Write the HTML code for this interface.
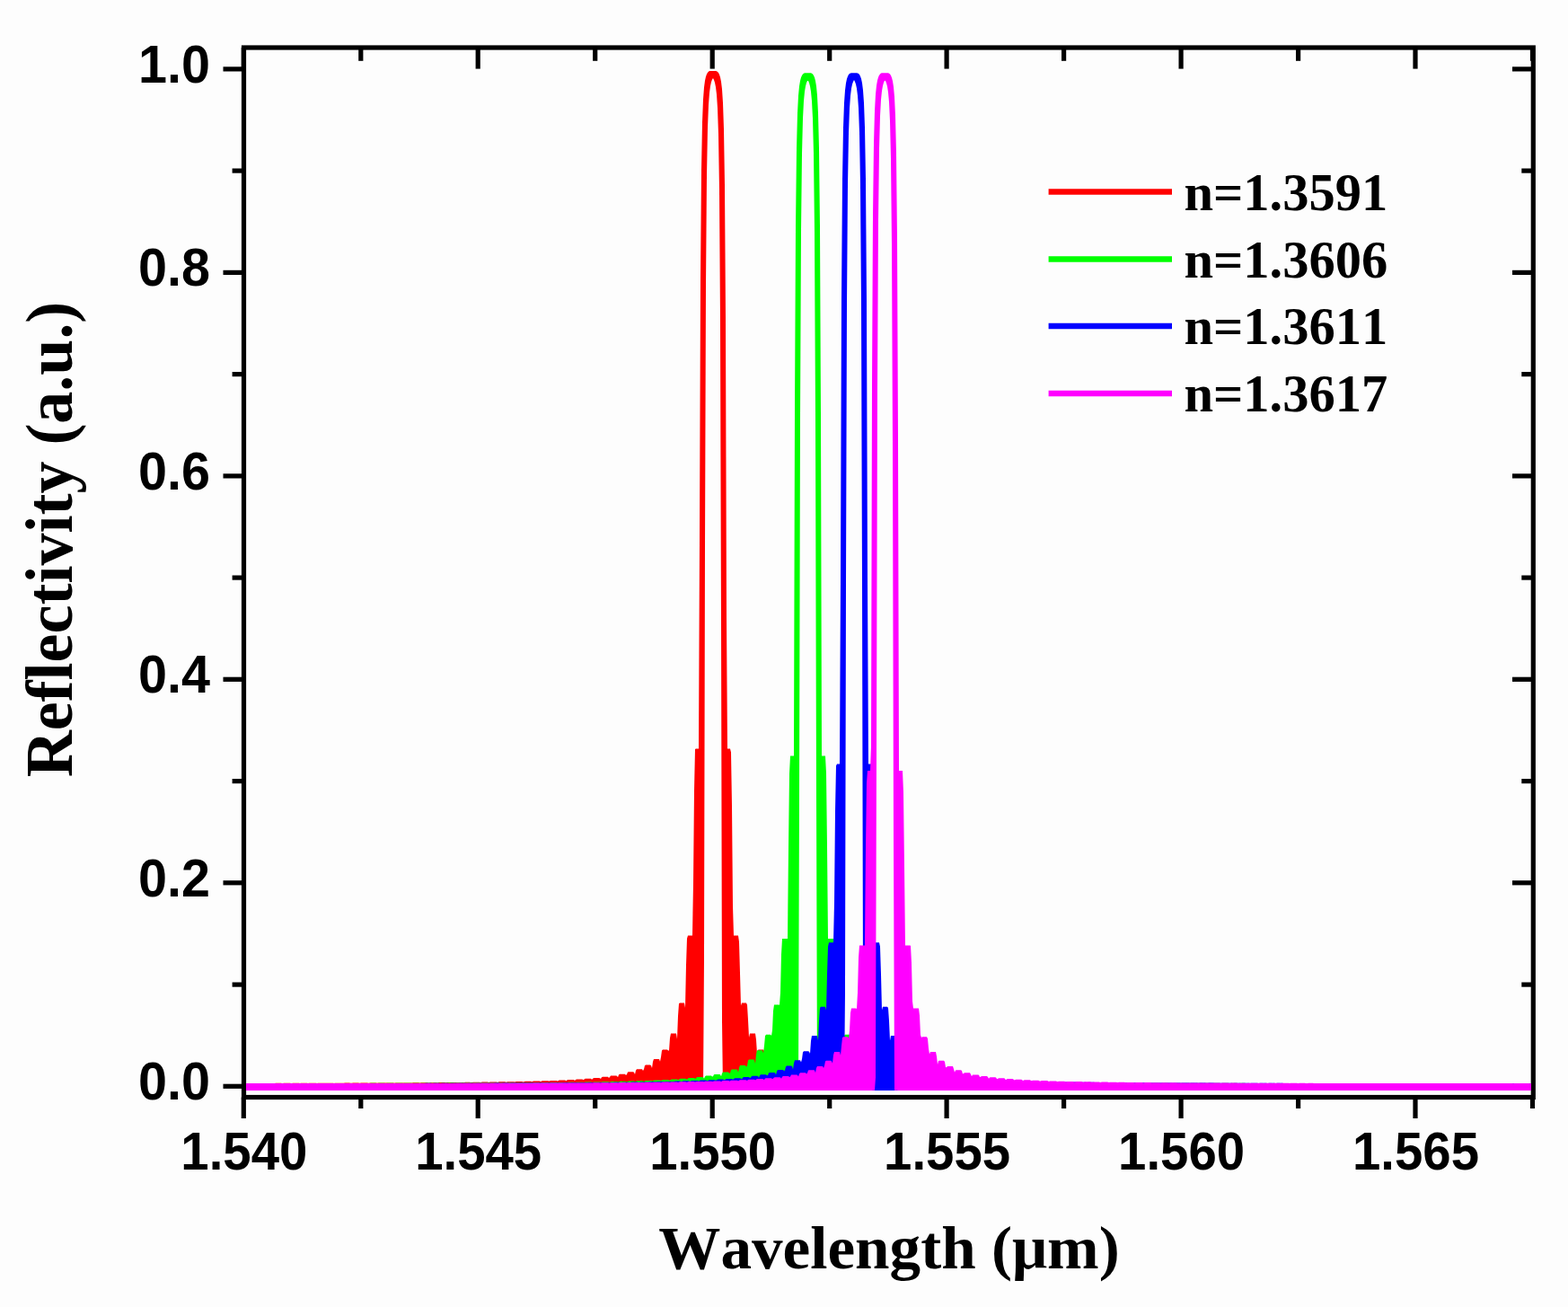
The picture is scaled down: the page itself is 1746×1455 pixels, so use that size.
<!DOCTYPE html><html><head><meta charset="utf-8"><style>html,body{margin:0;padding:0;background:#fdfdfd;}svg{display:block}.t{font-family:"Liberation Sans",Arial,sans-serif;font-weight:bold;fill:#000}.s{font-family:"Liberation Serif","Times New Roman",serif;font-weight:bold;fill:#000;font-kerning:none}</style></head><body>
<svg width="1746" height="1455" viewBox="0 0 1746 1455">
<rect width="1746" height="1455" fill="#fdfdfd"/>
<g stroke="#000" stroke-width="5.2" stroke-linecap="butt"><rect x="271.5" y="53.0" width="1435.8" height="1168.5" fill="none" stroke="#000" stroke-width="5.2" stroke-linejoin="miter"/><line x1="248.5" y1="1209.3" x2="271.5" y2="1209.3"/><line x1="1707.3" y1="1209.3" x2="1684.0" y2="1209.3"/><line x1="258.6" y1="1096.1" x2="271.5" y2="1096.1"/><line x1="1707.3" y1="1096.1" x2="1694.3" y2="1096.1"/><line x1="248.5" y1="982.8" x2="271.5" y2="982.8"/><line x1="1707.3" y1="982.8" x2="1684.0" y2="982.8"/><line x1="258.6" y1="869.6" x2="271.5" y2="869.6"/><line x1="1707.3" y1="869.6" x2="1694.3" y2="869.6"/><line x1="248.5" y1="756.3" x2="271.5" y2="756.3"/><line x1="1707.3" y1="756.3" x2="1684.0" y2="756.3"/><line x1="258.6" y1="643.1" x2="271.5" y2="643.1"/><line x1="1707.3" y1="643.1" x2="1694.3" y2="643.1"/><line x1="248.5" y1="529.9" x2="271.5" y2="529.9"/><line x1="1707.3" y1="529.9" x2="1684.0" y2="529.9"/><line x1="258.6" y1="416.6" x2="271.5" y2="416.6"/><line x1="1707.3" y1="416.6" x2="1694.3" y2="416.6"/><line x1="248.5" y1="303.4" x2="271.5" y2="303.4"/><line x1="1707.3" y1="303.4" x2="1684.0" y2="303.4"/><line x1="258.6" y1="190.1" x2="271.5" y2="190.1"/><line x1="1707.3" y1="190.1" x2="1694.3" y2="190.1"/><line x1="248.5" y1="76.9" x2="271.5" y2="76.9"/><line x1="1707.3" y1="76.9" x2="1684.0" y2="76.9"/><line x1="271.3" y1="1221.5" x2="271.3" y2="1245.0"/><line x1="271.3" y1="53.0" x2="271.3" y2="76.6"/><line x1="401.8" y1="1221.5" x2="401.8" y2="1234.0"/><line x1="401.8" y1="53.0" x2="401.8" y2="67.8"/><line x1="532.2" y1="1221.5" x2="532.2" y2="1245.0"/><line x1="532.2" y1="53.0" x2="532.2" y2="76.6"/><line x1="662.7" y1="1221.5" x2="662.7" y2="1234.0"/><line x1="662.7" y1="53.0" x2="662.7" y2="67.8"/><line x1="793.2" y1="1221.5" x2="793.2" y2="1245.0"/><line x1="793.2" y1="53.0" x2="793.2" y2="76.6"/><line x1="923.7" y1="1221.5" x2="923.7" y2="1234.0"/><line x1="923.7" y1="53.0" x2="923.7" y2="67.8"/><line x1="1054.1" y1="1221.5" x2="1054.1" y2="1245.0"/><line x1="1054.1" y1="53.0" x2="1054.1" y2="76.6"/><line x1="1184.6" y1="1221.5" x2="1184.6" y2="1234.0"/><line x1="1184.6" y1="53.0" x2="1184.6" y2="67.8"/><line x1="1315.1" y1="1221.5" x2="1315.1" y2="1245.0"/><line x1="1315.1" y1="53.0" x2="1315.1" y2="76.6"/><line x1="1445.6" y1="1221.5" x2="1445.6" y2="1234.0"/><line x1="1445.6" y1="53.0" x2="1445.6" y2="67.8"/><line x1="1576.0" y1="1221.5" x2="1576.0" y2="1245.0"/><line x1="1576.0" y1="53.0" x2="1576.0" y2="76.6"/><line x1="1706.5" y1="1221.5" x2="1706.5" y2="1234.0"/><line x1="1706.5" y1="53.0" x2="1706.5" y2="67.8"/></g>
<clipPath id="c"><rect x="271.5" y="53.0" width="1435.8" height="1168.5"/></clipPath>
<g clip-path="url(#c)">
<path d="M274.0,1205.9 L275.0,1205.9 L276.0,1206.0 L277.0,1205.9 L278.0,1205.9 L279.0,1205.9 L280.0,1205.9 L281.0,1205.9 L282.0,1205.9 L283.0,1205.9 L284.0,1205.9 L285.0,1205.9 L286.0,1206.0 L287.0,1205.9 L288.0,1205.9 L289.0,1205.9 L290.0,1205.9 L291.0,1205.9 L292.0,1205.9 L293.0,1205.9 L294.0,1205.9 L295.0,1205.9 L296.0,1205.9 L297.0,1205.9 L298.0,1205.9 L299.0,1205.9 L300.0,1205.9 L301.0,1205.9 L302.0,1205.9 L303.0,1205.9 L304.0,1205.9 L305.0,1206.0 L306.0,1205.9 L307.0,1205.8 L308.0,1205.8 L309.0,1205.8 L310.0,1205.8 L311.0,1205.8 L312.0,1205.8 L313.0,1205.8 L314.0,1205.9 L315.0,1205.9 L316.0,1205.8 L317.0,1205.8 L318.0,1205.8 L319.0,1205.8 L320.0,1205.8 L321.0,1205.8 L322.0,1205.8 L323.0,1205.8 L324.0,1205.9 L325.0,1205.9 L326.0,1205.8 L327.0,1205.8 L328.0,1205.8 L329.0,1205.8 L330.0,1205.8 L331.0,1205.8 L332.0,1205.8 L333.0,1205.8 L334.0,1205.9 L335.0,1205.8 L336.0,1205.8 L337.0,1205.8 L338.0,1205.8 L339.0,1205.8 L340.0,1205.8 L341.0,1205.8 L342.0,1205.8 L343.0,1205.9 L344.0,1205.8 L345.0,1205.8 L346.0,1205.8 L347.0,1205.8 L348.0,1205.8 L349.0,1205.8 L350.0,1205.8 L351.0,1205.8 L352.0,1205.8 L353.0,1205.9 L354.0,1205.8 L355.0,1205.7 L356.0,1205.7 L357.0,1205.7 L358.0,1205.7 L359.0,1205.7 L360.0,1205.7 L361.0,1205.7 L362.0,1205.8 L363.0,1205.8 L364.0,1205.7 L365.0,1205.7 L366.0,1205.7 L367.0,1205.7 L368.0,1205.7 L369.0,1205.7 L370.0,1205.7 L371.0,1205.7 L372.0,1205.9 L373.0,1205.7 L374.0,1205.7 L375.0,1205.7 L376.0,1205.7 L377.0,1205.7 L378.0,1205.7 L379.0,1205.7 L380.0,1205.7 L381.0,1205.7 L382.0,1205.8 L383.0,1205.7 L384.0,1205.6 L385.0,1205.6 L386.0,1205.6 L387.0,1205.6 L388.0,1205.6 L389.0,1205.6 L390.0,1205.7 L391.0,1205.8 L392.0,1205.7 L393.0,1205.6 L394.0,1205.6 L395.0,1205.6 L396.0,1205.6 L397.0,1205.6 L398.0,1205.6 L399.0,1205.6 L400.0,1205.7 L401.0,1205.8 L402.0,1205.6 L403.0,1205.6 L404.0,1205.6 L405.0,1205.6 L406.0,1205.6 L407.0,1205.6 L408.0,1205.6 L409.0,1205.6 L410.0,1205.7 L411.0,1205.7 L412.0,1205.6 L413.0,1205.5 L414.0,1205.5 L415.0,1205.5 L416.0,1205.5 L417.0,1205.5 L418.0,1205.5 L419.0,1205.6 L420.0,1205.8 L421.0,1205.6 L422.0,1205.5 L423.0,1205.5 L424.0,1205.5 L425.0,1205.5 L426.0,1205.5 L427.0,1205.5 L428.0,1205.5 L429.0,1205.6 L430.0,1205.6 L431.0,1205.5 L432.0,1205.5 L433.0,1205.5 L434.0,1205.5 L435.0,1205.5 L436.0,1205.5 L437.0,1205.5 L438.0,1205.5 L439.0,1205.7 L440.0,1205.5 L441.0,1205.4 L442.0,1205.4 L443.0,1205.4 L444.0,1205.4 L445.0,1205.4 L446.0,1205.4 L447.0,1205.4 L448.0,1205.5 L449.0,1205.6 L450.0,1205.4 L451.0,1205.4 L452.0,1205.4 L453.0,1205.4 L454.0,1205.4 L455.0,1205.4 L456.0,1205.4 L457.0,1205.4 L458.0,1205.5 L459.0,1205.5 L460.0,1205.3 L461.0,1205.3 L462.0,1205.3 L463.0,1205.3 L464.0,1205.3 L465.0,1205.3 L466.0,1205.3 L467.0,1205.4 L468.0,1205.6 L469.0,1205.3 L470.0,1205.2 L471.0,1205.2 L472.0,1205.2 L473.0,1205.2 L474.0,1205.2 L475.0,1205.2 L476.0,1205.3 L477.0,1205.4 L478.0,1205.4 L479.0,1205.2 L480.0,1205.2 L481.0,1205.2 L482.0,1205.2 L483.0,1205.2 L484.0,1205.2 L485.0,1205.2 L486.0,1205.2 L487.0,1205.5 L488.0,1205.2 L489.0,1205.1 L490.0,1205.1 L491.0,1205.1 L492.0,1205.1 L493.0,1205.1 L494.0,1205.1 L495.0,1205.1 L496.0,1205.2 L497.0,1205.3 L498.0,1205.1 L499.0,1205.0 L500.0,1205.0 L501.0,1205.0 L502.0,1205.0 L503.0,1205.0 L504.0,1205.0 L505.0,1205.1 L506.0,1205.3 L507.0,1205.1 L508.0,1204.9 L509.0,1204.9 L510.0,1204.9 L511.0,1204.9 L512.0,1204.9 L513.0,1204.9 L514.0,1204.9 L515.0,1205.1 L516.0,1205.2 L517.0,1204.9 L518.0,1204.8 L519.0,1204.8 L520.0,1204.8 L521.0,1204.8 L522.0,1204.8 L523.0,1204.8 L524.0,1204.9 L525.0,1205.1 L526.0,1205.0 L527.0,1204.8 L528.0,1204.7 L529.0,1204.7 L530.0,1204.7 L531.0,1204.7 L532.0,1204.7 L533.0,1204.7 L534.0,1204.8 L535.0,1205.2 L536.0,1204.7 L537.0,1204.6 L538.0,1204.6 L539.0,1204.6 L540.0,1204.6 L541.0,1204.6 L542.0,1204.6 L543.0,1204.6 L544.0,1204.9 L545.0,1204.8 L546.0,1204.5 L547.0,1204.5 L548.0,1204.5 L549.0,1204.5 L550.0,1204.5 L551.0,1204.5 L552.0,1204.5 L553.0,1204.6 L554.0,1204.9 L555.0,1204.5 L556.0,1204.3 L557.0,1204.3 L558.0,1204.3 L559.0,1204.3 L560.0,1204.3 L561.0,1204.3 L562.0,1204.3 L563.0,1204.5 L564.0,1204.7 L565.0,1204.2 L566.0,1204.2 L567.0,1204.2 L568.0,1204.2 L569.0,1204.2 L570.0,1204.2 L571.0,1204.2 L572.0,1204.2 L573.0,1204.6 L574.0,1204.3 L575.0,1204.0 L576.0,1204.0 L577.0,1204.0 L578.0,1204.0 L579.0,1204.0 L580.0,1204.0 L581.0,1204.0 L582.0,1204.2 L583.0,1204.5 L584.0,1203.9 L585.0,1203.8 L586.0,1203.8 L587.0,1203.8 L588.0,1203.8 L589.0,1203.8 L590.0,1203.8 L591.0,1203.8 L592.0,1204.2 L593.0,1204.0 L594.0,1203.5 L595.0,1203.5 L596.0,1203.5 L597.0,1203.5 L598.0,1203.5 L599.0,1203.5 L600.0,1203.5 L601.0,1203.6 L602.0,1204.2 L603.0,1203.4 L604.0,1203.2 L605.0,1203.2 L606.0,1203.2 L607.0,1203.2 L608.0,1203.2 L609.0,1203.2 L610.0,1203.2 L611.0,1203.6 L612.0,1203.6 L613.0,1202.9 L614.0,1202.9 L615.0,1202.9 L616.0,1202.9 L617.0,1202.9 L618.0,1202.9 L619.0,1202.9 L620.0,1203.0 L621.0,1203.7 L622.0,1202.8 L623.0,1202.5 L624.0,1202.5 L625.0,1202.5 L626.0,1202.5 L627.0,1202.5 L628.0,1202.5 L629.0,1202.5 L630.0,1202.9 L631.0,1203.0 L632.0,1202.1 L633.0,1202.0 L634.0,1202.0 L635.0,1202.0 L636.0,1202.0 L637.0,1202.0 L638.0,1202.0 L639.0,1202.1 L640.0,1202.9 L641.0,1202.0 L642.0,1201.4 L643.0,1201.4 L644.0,1201.4 L645.0,1201.4 L646.0,1201.4 L647.0,1201.4 L648.0,1201.4 L649.0,1201.8 L650.0,1202.3 L651.0,1201.0 L652.0,1200.7 L653.0,1200.7 L654.0,1200.7 L655.0,1200.7 L656.0,1200.7 L657.0,1200.7 L658.0,1200.8 L659.0,1201.7 L660.0,1200.9 L661.0,1199.9 L662.0,1199.9 L663.0,1199.9 L664.0,1199.9 L665.0,1199.9 L666.0,1199.9 L667.0,1199.9 L668.0,1200.2 L669.0,1201.1 L670.0,1199.3 L671.0,1198.8 L672.0,1198.8 L673.0,1198.8 L674.0,1198.8 L675.0,1198.8 L676.0,1198.8 L677.0,1198.8 L678.0,1199.9 L679.0,1199.1 L680.0,1197.6 L681.0,1197.4 L682.0,1197.4 L683.0,1197.4 L684.0,1197.4 L685.0,1197.4 L686.0,1197.4 L687.0,1197.8 L688.0,1199.3 L689.0,1196.6 L690.0,1195.7 L691.0,1195.7 L692.0,1195.7 L693.0,1195.7 L694.0,1195.7 L695.0,1195.7 L696.0,1195.7 L697.0,1197.0 L698.0,1196.1 L699.0,1193.6 L700.0,1193.3 L701.0,1193.3 L702.0,1193.3 L703.0,1193.3 L704.0,1193.3 L705.0,1193.3 L706.0,1193.8 L707.0,1196.1 L708.0,1191.8 L709.0,1190.2 L710.0,1190.2 L711.0,1190.2 L712.0,1190.2 L713.0,1190.2 L714.0,1190.2 L715.0,1190.2 L716.0,1191.9 L717.0,1190.3 L718.0,1186.2 L719.0,1185.6 L720.0,1185.6 L721.0,1185.6 L722.0,1185.6 L723.0,1185.6 L724.0,1185.6 L725.0,1186.2 L726.0,1189.1 L727.0,1181.9 L728.0,1178.9 L729.0,1178.9 L730.0,1178.9 L731.0,1178.9 L732.0,1178.9 L733.0,1178.9 L734.0,1178.9 L735.0,1181.7 L736.0,1176.7 L737.0,1169.4 L738.0,1168.4 L739.0,1168.4 L740.0,1168.4 L741.0,1168.4 L742.0,1168.4 L743.0,1168.4 L744.0,1169.5 L745.0,1169.5 L746.0,1155.4 L747.0,1150.5 L748.0,1150.5 L749.0,1150.5 L750.0,1150.5 L751.0,1150.5 L752.0,1150.5 L753.0,1150.6 L754.0,1156.8 L755.0,1130.9 L756.0,1117.3 L757.0,1116.6 L758.0,1116.6 L759.0,1116.6 L760.0,1116.6 L761.0,1116.6 L762.0,1116.6 L763.0,1121.9 L764.0,1074.3 L765.0,1044.8 L766.0,1041.6 L767.0,1041.6 L768.0,1041.6 L769.0,1041.6 L770.0,1041.6 L771.0,1041.6 L772.0,983.4 L773.0,880.1 L774.0,834.1 L775.0,833.5 L776.0,833.5 L777.0,833.5 L778.0,833.5 L779.0,601.6 L780.0,312.9 L781.0,189.6 L782.0,136.1 L783.0,110.5 L784.0,97.2 L785.0,89.7 L786.0,85.2 L787.0,82.4 L788.0,80.7 L789.0,79.7 L790.0,79.1 L791.0,79.0 L792.0,79.0 L793.0,79.0 L794.0,79.0 L795.0,79.0 L796.0,79.0 L797.0,79.0 L798.0,79.2 L799.0,79.9 L800.0,81.0 L801.0,82.9 L802.0,85.9 L803.0,90.9 L804.0,99.2 L805.0,114.4 L806.0,143.7 L807.0,206.6 L808.0,353.3 L809.0,687.9 L810.0,833.5 L811.0,833.5 L812.0,833.5 L813.0,833.5 L814.0,837.6 L815.0,897.0 L816.0,1008.2 L817.0,1041.6 L818.0,1041.6 L819.0,1041.6 L820.0,1041.6 L821.0,1041.6 L822.0,1041.6 L823.0,1048.4 L824.0,1083.2 L825.0,1119.4 L826.0,1116.6 L827.0,1116.6 L828.0,1116.6 L829.0,1116.6 L830.0,1116.6 L831.0,1116.6 L832.0,1118.7 L833.0,1135.4 L834.0,1155.1 L835.0,1150.5 L836.0,1150.5 L837.0,1150.5 L838.0,1150.5 L839.0,1150.5 L840.0,1150.5 L841.0,1150.6 L842.0,1157.6 L843.0,1173.0 L844.0,1168.8 L845.0,1168.4 L846.0,1168.4 L847.0,1168.4 L848.0,1168.4 L849.0,1168.4 L850.0,1168.4 L851.0,1170.3 L852.0,1178.8 L853.0,1180.7 L854.0,1178.9 L855.0,1178.9 L856.0,1178.9 L857.0,1178.9 L858.0,1178.9 L859.0,1178.9 L860.0,1179.1 L861.0,1183.0 L862.0,1189.1 L863.0,1185.8 L864.0,1185.6 L865.0,1185.6 L866.0,1185.6 L867.0,1185.6 L868.0,1185.6 L869.0,1185.6 L870.0,1186.8 L871.0,1191.5 L872.0,1191.3 L873.0,1190.2 L874.0,1190.2 L875.0,1190.2 L876.0,1190.2 L877.0,1190.2 L878.0,1190.2 L879.0,1190.2 L880.0,1192.5 L881.0,1195.7 L882.0,1193.5 L883.0,1193.3 L884.0,1193.3 L885.0,1193.3 L886.0,1193.3 L887.0,1193.3 L888.0,1193.3 L889.0,1193.9 L890.0,1196.8 L891.0,1196.5 L892.0,1195.7 L893.0,1195.7 L894.0,1195.7 L895.0,1195.7 L896.0,1195.7 L897.0,1195.7 L898.0,1195.7 L899.0,1197.0 L900.0,1199.3 L901.0,1197.6 L902.0,1197.4 L903.0,1197.4 L904.0,1197.4 L905.0,1197.4 L906.0,1197.4 L907.0,1197.4 L908.0,1197.7 L909.0,1199.6 L910.0,1199.6 L911.0,1198.8 L912.0,1198.8 L913.0,1198.8 L914.0,1198.8 L915.0,1198.8 L916.0,1198.8 L917.0,1198.8 L918.0,1199.6 L919.0,1201.4 L920.0,1200.1 L921.0,1199.9 L922.0,1199.9 L923.0,1199.9 L924.0,1199.9 L925.0,1199.9 L926.0,1199.9 L927.0,1200.0 L928.0,1201.2 L929.0,1201.4 L930.0,1200.7 L931.0,1200.7 L932.0,1200.7 L933.0,1200.7 L934.0,1200.7 L935.0,1200.7 L936.0,1200.7 L937.0,1201.2 L938.0,1202.6 L939.0,1201.6 L940.0,1201.4 L941.0,1201.4 L942.0,1201.4 L943.0,1201.4 L944.0,1201.4 L945.0,1201.4 L946.0,1201.5 L947.0,1202.3 L948.0,1202.7 L949.0,1202.0 L950.0,1202.0 L951.0,1202.0 L952.0,1202.0 L953.0,1202.0 L954.0,1202.0 L955.0,1202.0 L956.0,1202.2 L957.0,1203.3 L958.0,1202.7 L959.0,1202.5 L960.0,1202.5 L961.0,1202.5 L962.0,1202.5 L963.0,1202.5 L964.0,1202.5 L965.0,1202.5 L966.0,1203.0 L967.0,1203.5 L968.0,1202.9 L969.0,1202.9 L970.0,1202.9 L971.0,1202.9 L972.0,1202.9 L973.0,1202.9 L974.0,1202.9 L975.0,1203.0 L976.0,1203.7 L977.0,1203.5 L978.0,1203.2 L979.0,1203.2 L980.0,1203.2 L981.0,1203.2 L982.0,1203.2 L983.0,1203.2 L984.0,1203.2 L985.0,1203.6 L986.0,1204.1 L987.0,1203.6 L988.0,1203.5 L989.0,1203.5 L990.0,1203.5 L991.0,1203.5 L992.0,1203.5 L993.0,1203.5 L994.0,1203.6 L995.0,1204.1 L996.0,1204.1 L997.0,1203.8 L998.0,1203.8 L999.0,1203.8 L1000.0,1203.8 L1001.0,1203.8 L1002.0,1203.8 L1003.0,1203.8 L1004.0,1204.0 L1005.0,1204.6 L1006.0,1204.1 L1007.0,1204.0 L1008.0,1204.0 L1009.0,1204.0 L1010.0,1204.0 L1011.0,1204.0 L1012.0,1204.0 L1013.0,1204.0 L1014.0,1204.4 L1015.0,1204.5 L1016.0,1204.2 L1017.0,1204.2 L1018.0,1204.2 L1019.0,1204.2 L1020.0,1204.2 L1021.0,1204.2 L1022.0,1204.2 L1023.0,1204.3 L1024.0,1204.8 L1025.0,1204.5 L1026.0,1204.3 L1027.0,1204.3 L1028.0,1204.3 L1029.0,1204.3 L1030.0,1204.3 L1031.0,1204.3 L1032.0,1204.3 L1033.0,1204.6 L1034.0,1204.8 L1035.0,1204.5 L1036.0,1204.5 L1037.0,1204.5 L1038.0,1204.5 L1039.0,1204.5 L1040.0,1204.5 L1041.0,1204.5 L1042.0,1204.6 L1043.0,1204.9 L1044.0,1204.8 L1045.0,1204.6 L1046.0,1204.6 L1047.0,1204.6 L1048.0,1204.6 L1049.0,1204.6 L1050.0,1204.6 L1051.0,1204.6 L1052.0,1204.8 L1053.0,1205.1 L1054.0,1204.8 L1055.0,1204.7 L1056.0,1204.7 L1057.0,1204.7 L1058.0,1204.7 L1059.0,1204.7 L1060.0,1204.7 L1061.0,1204.8 L1062.0,1205.1 L1063.0,1205.0 L1064.0,1204.9 L1065.0,1204.8 L1066.0,1204.8 L1067.0,1204.8 L1068.0,1204.8 L1069.0,1204.8 L1070.0,1204.8 L1071.0,1205.0 L1072.0,1205.3 L1073.0,1205.0 L1074.0,1204.9 L1075.0,1204.9 L1076.0,1204.9 L1077.0,1204.9 L1078.0,1204.9 L1079.0,1204.9 L1080.0,1205.0 L1081.0,1205.2 L1082.0,1205.2 L1083.0,1205.0 L1084.0,1205.0 L1085.0,1205.0 L1086.0,1205.0 L1087.0,1205.0 L1088.0,1205.0 L1089.0,1205.0 L1090.0,1205.1 L1091.0,1205.4 L1092.0,1205.2 L1093.0,1205.1 L1094.0,1205.1 L1095.0,1205.1 L1096.0,1205.1 L1097.0,1205.1 L1098.0,1205.1 L1099.0,1205.1 L1100.0,1205.3 L1101.0,1205.4 L1102.0,1205.2 L1103.0,1205.2 L1104.0,1205.2 L1105.0,1205.2 L1106.0,1205.2 L1107.0,1205.2 L1108.0,1205.2 L1109.0,1205.2 L1110.0,1205.5 L1111.0,1205.4 L1112.0,1205.2 L1113.0,1205.2 L1114.0,1205.2 L1115.0,1205.2 L1116.0,1205.2 L1117.0,1205.2 L1118.0,1205.2 L1119.0,1205.4 L1120.0,1205.6 L1121.0,1205.3 L1122.0,1205.3 L1123.0,1205.3 L1124.0,1205.3 L1125.0,1205.3 L1126.0,1205.3 L1127.0,1205.3 L1128.0,1205.3 L1129.0,1205.5 L1130.0,1205.5 L1131.0,1205.4 L1132.0,1205.4 L1133.0,1205.4 L1134.0,1205.4 L1135.0,1205.4 L1136.0,1205.4 L1137.0,1205.4 L1138.0,1205.4 L1139.0,1205.7 L1140.0,1205.5 L1141.0,1205.4 L1142.0,1205.4 L1143.0,1205.4 L1144.0,1205.4 L1145.0,1205.4 L1146.0,1205.4 L1147.0,1205.4 L1148.0,1205.6 L1149.0,1205.6 L1150.0,1205.5 L1151.0,1205.5 L1152.0,1205.5 L1153.0,1205.5 L1154.0,1205.5 L1155.0,1205.5 L1156.0,1205.5 L1157.0,1205.5 L1158.0,1205.7 L1159.0,1205.6 L1160.0,1205.5 L1161.0,1205.5 L1162.0,1205.5 L1163.0,1205.5 L1164.0,1205.5 L1165.0,1205.5 L1166.0,1205.5 L1167.0,1205.6 L1168.0,1205.7 L1169.0,1205.6 L1170.0,1205.5 L1171.0,1205.5 L1172.0,1205.5 L1173.0,1205.5 L1174.0,1205.5 L1175.0,1205.5 L1176.0,1205.6 L1177.0,1205.7 L1178.0,1205.7 L1179.0,1205.6 L1180.0,1205.6 L1181.0,1205.6 L1182.0,1205.6 L1183.0,1205.6 L1184.0,1205.6 L1185.0,1205.6 L1186.0,1205.6 L1187.0,1205.8 L1188.0,1205.6 L1189.0,1205.6 L1190.0,1205.6 L1191.0,1205.6 L1192.0,1205.6 L1193.0,1205.6 L1194.0,1205.6 L1195.0,1205.6 L1196.0,1205.7 L1197.0,1205.7 L1198.0,1205.7 L1199.0,1205.6 L1200.0,1205.6 L1201.0,1205.6 L1202.0,1205.6 L1203.0,1205.6 L1204.0,1205.6 L1205.0,1205.7 L1206.0,1205.8 L1207.0,1205.7 L1208.0,1205.7 L1209.0,1205.7 L1210.0,1205.7 L1211.0,1205.7 L1212.0,1205.7 L1213.0,1205.7 L1214.0,1205.7 L1215.0,1205.8 L1216.0,1205.8 L1217.0,1205.7 L1218.0,1205.7 L1219.0,1205.7 L1220.0,1205.7 L1221.0,1205.7 L1222.0,1205.7 L1223.0,1205.7 L1224.0,1205.7 L1225.0,1205.9 L1226.0,1205.8 L1227.0,1205.7 L1228.0,1205.7 L1229.0,1205.7 L1230.0,1205.7 L1231.0,1205.7 L1232.0,1205.7 L1233.0,1205.7 L1234.0,1205.8 L1235.0,1205.9 L1236.0,1205.8 L1237.0,1205.8 L1238.0,1205.8 L1239.0,1205.8 L1240.0,1205.8 L1241.0,1205.8 L1242.0,1205.8 L1243.0,1205.8 L1244.0,1205.9 L1245.0,1205.8 L1246.0,1205.8 L1247.0,1205.8 L1248.0,1205.8 L1249.0,1205.8 L1250.0,1205.8 L1251.0,1205.8 L1252.0,1205.8 L1253.0,1205.8 L1254.0,1205.9 L1255.0,1205.8 L1256.0,1205.8 L1257.0,1205.8 L1258.0,1205.8 L1259.0,1205.8 L1260.0,1205.8 L1261.0,1205.8 L1262.0,1205.8 L1263.0,1205.9 L1264.0,1205.9 L1265.0,1205.8 L1266.0,1205.8 L1267.0,1205.8 L1268.0,1205.8 L1269.0,1205.8 L1270.0,1205.8 L1271.0,1205.8 L1272.0,1205.8 L1273.0,1206.0 L1274.0,1205.9 L1275.0,1205.8 L1276.0,1205.8 L1277.0,1205.8 L1278.0,1205.8 L1279.0,1205.8 L1280.0,1205.8 L1281.0,1205.8 L1282.0,1205.9 L1283.0,1205.9 L1284.0,1205.9 L1285.0,1205.9 L1286.0,1205.9 L1287.0,1205.9 L1288.0,1205.9 L1289.0,1205.9 L1290.0,1205.9 L1291.0,1205.9 L1292.0,1206.0 L1293.0,1205.9 L1294.0,1205.9 L1295.0,1205.9 L1296.0,1205.9 L1297.0,1205.9 L1298.0,1205.9 L1299.0,1205.9 L1300.0,1205.9 L1301.0,1205.9 L1302.0,1206.0 L1303.0,1205.9 L1304.0,1205.9 L1305.0,1205.9 L1306.0,1205.9 L1307.0,1205.9 L1308.0,1205.9 L1309.0,1205.9 L1310.0,1205.9 L1311.0,1206.0 L1312.0,1206.0 L1313.0,1205.9 L1314.0,1205.9 L1315.0,1205.9 L1316.0,1205.9 L1317.0,1205.9 L1318.0,1205.9 L1319.0,1205.9 L1320.0,1205.9 L1321.0,1206.0 L1322.0,1205.9 L1323.0,1205.9 L1324.0,1205.9 L1325.0,1205.9 L1326.0,1205.9 L1327.0,1205.9 L1328.0,1205.9 L1329.0,1205.9 L1330.0,1206.0 L1331.0,1206.0 L1332.0,1205.9 L1333.0,1205.9 L1334.0,1205.9 L1335.0,1205.9 L1336.0,1205.9 L1337.0,1205.9 L1338.0,1205.9 L1339.0,1205.9 L1340.0,1206.0 L1341.0,1206.0 L1342.0,1205.9 L1343.0,1205.9 L1344.0,1205.9 L1345.0,1205.9 L1346.0,1205.9 L1347.0,1205.9 L1348.0,1205.9 L1349.0,1206.0 L1350.0,1206.0 L1351.0,1206.0 L1352.0,1206.0 L1353.0,1206.0 L1354.0,1206.0 L1355.0,1206.0 L1356.0,1206.0 L1357.0,1206.0 L1358.0,1206.0 L1359.0,1206.0 L1360.0,1206.0 L1361.0,1206.0 L1362.0,1206.0 L1363.0,1206.0 L1364.0,1206.0 L1365.0,1206.0 L1366.0,1206.0 L1367.0,1206.0 L1368.0,1206.0 L1369.0,1206.1 L1370.0,1206.0 L1371.0,1206.0 L1372.0,1206.0 L1373.0,1206.0 L1374.0,1206.0 L1375.0,1206.0 L1376.0,1206.0 L1377.0,1206.0 L1378.0,1206.0 L1379.0,1206.0 L1380.0,1206.0 L1381.0,1206.0 L1382.0,1206.0 L1383.0,1206.0 L1384.0,1206.0 L1385.0,1206.0 L1386.0,1206.0 L1387.0,1206.0 L1388.0,1206.1 L1389.0,1206.0 L1390.0,1206.0 L1391.0,1206.0 L1392.0,1206.0 L1393.0,1206.0 L1394.0,1206.0 L1395.0,1206.0 L1396.0,1206.0 L1397.0,1206.0 L1398.0,1206.1 L1399.0,1206.0 L1400.0,1206.0 L1401.0,1206.0 L1402.0,1206.0 L1403.0,1206.0 L1404.0,1206.0 L1405.0,1206.0 L1406.0,1206.0 L1407.0,1206.1 L1408.0,1206.0 L1409.0,1206.0 L1410.0,1206.0 L1411.0,1206.0 L1412.0,1206.0 L1413.0,1206.0 L1414.0,1206.0 L1415.0,1206.0 L1416.0,1206.0 L1417.0,1206.1 L1418.0,1206.0 L1419.0,1206.0 L1420.0,1206.0 L1421.0,1206.0 L1422.0,1206.0 L1423.0,1206.0 L1424.0,1206.0 L1425.0,1206.0 L1426.0,1206.1 L1427.0,1206.1 L1428.0,1206.0 L1429.0,1206.0 L1430.0,1206.0 L1431.0,1206.0 L1432.0,1206.0 L1433.0,1206.0 L1434.0,1206.0 L1435.0,1206.1 L1436.0,1206.1 L1437.0,1206.1 L1438.0,1206.0 L1439.0,1206.0 L1440.0,1206.0 L1441.0,1206.0 L1442.0,1206.0 L1443.0,1206.0 L1444.0,1206.0 L1445.0,1206.1 L1446.0,1206.1 L1447.0,1206.1 L1448.0,1206.0 L1449.0,1206.0 L1450.0,1206.0 L1451.0,1206.0 L1452.0,1206.0 L1453.0,1206.0 L1454.0,1206.1 L1455.0,1206.1 L1456.0,1206.1 L1457.0,1206.1 L1458.0,1206.1 L1459.0,1206.1 L1460.0,1206.1 L1461.0,1206.1 L1462.0,1206.1 L1463.0,1206.1 L1464.0,1206.1 L1465.0,1206.1 L1466.0,1206.1 L1467.0,1206.1 L1468.0,1206.1 L1469.0,1206.1 L1470.0,1206.1 L1471.0,1206.1 L1472.0,1206.1 L1473.0,1206.1 L1474.0,1206.1 L1475.0,1206.1 L1476.0,1206.1 L1477.0,1206.1 L1478.0,1206.1 L1479.0,1206.1 L1480.0,1206.1 L1481.0,1206.1 L1482.0,1206.1 L1483.0,1206.1 L1484.0,1206.1 L1485.0,1206.1 L1486.0,1206.1 L1487.0,1206.1 L1488.0,1206.1 L1489.0,1206.1 L1490.0,1206.1 L1491.0,1206.1 L1492.0,1206.1 L1493.0,1206.1 L1494.0,1206.1 L1495.0,1206.1 L1496.0,1206.1 L1497.0,1206.1 L1498.0,1206.1 L1499.0,1206.1 L1500.0,1206.1 L1501.0,1206.1 L1502.0,1206.1 L1503.0,1206.1 L1504.0,1206.1 L1505.0,1206.1 L1506.0,1206.1 L1507.0,1206.1 L1508.0,1206.1 L1509.0,1206.1 L1510.0,1206.1 L1511.0,1206.1 L1512.0,1206.1 L1513.0,1206.1 L1514.0,1206.1 L1515.0,1206.1 L1516.0,1206.1 L1517.0,1206.1 L1518.0,1206.1 L1519.0,1206.1 L1520.0,1206.1 L1521.0,1206.1 L1522.0,1206.1 L1523.0,1206.1 L1524.0,1206.1 L1525.0,1206.1 L1526.0,1206.1 L1527.0,1206.1 L1528.0,1206.1 L1529.0,1206.1 L1530.0,1206.1 L1531.0,1206.1 L1532.0,1206.1 L1533.0,1206.1 L1534.0,1206.1 L1535.0,1206.1 L1536.0,1206.1 L1537.0,1206.1 L1538.0,1206.1 L1539.0,1206.1 L1540.0,1206.1 L1541.0,1206.1 L1542.0,1206.1 L1543.0,1206.1 L1544.0,1206.1 L1545.0,1206.1 L1546.0,1206.1 L1547.0,1206.1 L1548.0,1206.1 L1549.0,1206.1 L1550.0,1206.1 L1551.0,1206.2 L1552.0,1206.1 L1553.0,1206.1 L1554.0,1206.1 L1555.0,1206.1 L1556.0,1206.1 L1557.0,1206.1 L1558.0,1206.1 L1559.0,1206.1 L1560.0,1206.1 L1561.0,1206.1 L1562.0,1206.1 L1563.0,1206.1 L1564.0,1206.1 L1565.0,1206.1 L1566.0,1206.1 L1567.0,1206.1 L1568.0,1206.1 L1569.0,1206.1 L1570.0,1206.2 L1571.0,1206.1 L1572.0,1206.1 L1573.0,1206.1 L1574.0,1206.1 L1575.0,1206.1 L1576.0,1206.1 L1577.0,1206.1 L1578.0,1206.1 L1579.0,1206.1 L1580.0,1206.2 L1581.0,1206.1 L1582.0,1206.1 L1583.0,1206.1 L1584.0,1206.1 L1585.0,1206.1 L1586.0,1206.1 L1587.0,1206.1 L1588.0,1206.1 L1589.0,1206.2 L1590.0,1206.1 L1591.0,1206.1 L1592.0,1206.1 L1593.0,1206.1 L1594.0,1206.1 L1595.0,1206.1 L1596.0,1206.1 L1597.0,1206.1 L1598.0,1206.1 L1599.0,1206.2 L1600.0,1206.1 L1601.0,1206.1 L1602.0,1206.1 L1603.0,1206.1 L1604.0,1206.1 L1605.0,1206.1 L1606.0,1206.1 L1607.0,1206.1 L1608.0,1206.2 L1609.0,1206.2 L1610.0,1206.1 L1611.0,1206.1 L1612.0,1206.1 L1613.0,1206.1 L1614.0,1206.1 L1615.0,1206.1 L1616.0,1206.1 L1617.0,1206.1 L1618.0,1206.2 L1619.0,1206.2 L1620.0,1206.1 L1621.0,1206.1 L1622.0,1206.1 L1623.0,1206.1 L1624.0,1206.1 L1625.0,1206.1 L1626.0,1206.1 L1627.0,1206.2 L1628.0,1206.2 L1629.0,1206.1 L1630.0,1206.1 L1631.0,1206.1 L1632.0,1206.1 L1633.0,1206.1 L1634.0,1206.1 L1635.0,1206.1 L1636.0,1206.2 L1637.0,1206.2 L1638.0,1206.2 L1639.0,1206.1 L1640.0,1206.1 L1641.0,1206.1 L1642.0,1206.1 L1643.0,1206.1 L1644.0,1206.1 L1645.0,1206.1 L1646.0,1206.2 L1647.0,1206.2 L1648.0,1206.2 L1649.0,1206.2 L1650.0,1206.2 L1651.0,1206.2 L1652.0,1206.2 L1653.0,1206.2 L1654.0,1206.2 L1655.0,1206.2 L1656.0,1206.2 L1657.0,1206.2 L1658.0,1206.2 L1659.0,1206.2 L1660.0,1206.2 L1661.0,1206.2 L1662.0,1206.2 L1663.0,1206.2 L1664.0,1206.2 L1665.0,1206.2 L1666.0,1206.2 L1667.0,1206.2 L1668.0,1206.2 L1669.0,1206.2 L1670.0,1206.2 L1671.0,1206.2 L1672.0,1206.2 L1673.0,1206.2 L1674.0,1206.2 L1675.0,1206.2 L1676.0,1206.2 L1677.0,1206.2 L1678.0,1206.2 L1679.0,1206.2 L1680.0,1206.2 L1681.0,1206.2 L1682.0,1206.2 L1683.0,1206.2 L1684.0,1206.2 L1685.0,1206.2 L1686.0,1206.2 L1687.0,1206.2 L1688.0,1206.2 L1689.0,1206.2 L1690.0,1206.2 L1691.0,1206.2 L1692.0,1206.2 L1693.0,1206.2 L1694.0,1206.2 L1695.0,1206.2 L1696.0,1206.2 L1697.0,1206.2 L1698.0,1206.2 L1699.0,1206.2 L1700.0,1206.2 L1701.0,1206.2 L1702.0,1206.2 L1703.0,1206.2 L1704.0,1206.2 L1705.0,1206.2 L1705.0,1213.9 L1704.0,1213.9 L1703.0,1213.9 L1702.0,1213.9 L1701.0,1213.9 L1700.0,1213.9 L1699.0,1213.9 L1698.0,1213.9 L1697.0,1213.9 L1696.0,1213.9 L1695.0,1213.9 L1694.0,1213.9 L1693.0,1213.9 L1692.0,1213.9 L1691.0,1213.9 L1690.0,1213.9 L1689.0,1213.9 L1688.0,1213.9 L1687.0,1213.9 L1686.0,1213.9 L1685.0,1213.9 L1684.0,1213.9 L1683.0,1213.9 L1682.0,1213.9 L1681.0,1213.9 L1680.0,1213.9 L1679.0,1213.9 L1678.0,1213.9 L1677.0,1213.9 L1676.0,1213.9 L1675.0,1213.9 L1674.0,1213.9 L1673.0,1213.9 L1672.0,1213.9 L1671.0,1213.9 L1670.0,1213.9 L1669.0,1213.9 L1668.0,1213.9 L1667.0,1213.9 L1666.0,1213.9 L1665.0,1213.9 L1664.0,1213.9 L1663.0,1213.9 L1662.0,1213.9 L1661.0,1213.9 L1660.0,1213.9 L1659.0,1213.9 L1658.0,1213.9 L1657.0,1213.9 L1656.0,1213.9 L1655.0,1213.9 L1654.0,1213.9 L1653.0,1213.9 L1652.0,1213.9 L1651.0,1213.9 L1650.0,1213.9 L1649.0,1213.9 L1648.0,1213.9 L1647.0,1213.9 L1646.0,1213.9 L1645.0,1213.9 L1644.0,1213.9 L1643.0,1213.9 L1642.0,1213.9 L1641.0,1213.9 L1640.0,1213.9 L1639.0,1213.9 L1638.0,1213.9 L1637.0,1213.9 L1636.0,1213.9 L1635.0,1213.9 L1634.0,1213.9 L1633.0,1213.9 L1632.0,1213.9 L1631.0,1213.9 L1630.0,1213.9 L1629.0,1213.9 L1628.0,1213.9 L1627.0,1213.9 L1626.0,1213.9 L1625.0,1213.9 L1624.0,1213.9 L1623.0,1213.9 L1622.0,1213.9 L1621.0,1213.9 L1620.0,1213.9 L1619.0,1213.9 L1618.0,1213.9 L1617.0,1213.9 L1616.0,1213.9 L1615.0,1213.9 L1614.0,1213.9 L1613.0,1213.9 L1612.0,1213.9 L1611.0,1213.9 L1610.0,1213.9 L1609.0,1213.9 L1608.0,1213.9 L1607.0,1213.9 L1606.0,1213.9 L1605.0,1213.9 L1604.0,1213.9 L1603.0,1213.9 L1602.0,1213.9 L1601.0,1213.9 L1600.0,1213.9 L1599.0,1213.9 L1598.0,1213.9 L1597.0,1213.9 L1596.0,1213.9 L1595.0,1213.9 L1594.0,1213.9 L1593.0,1213.9 L1592.0,1213.9 L1591.0,1213.9 L1590.0,1213.9 L1589.0,1213.9 L1588.0,1213.9 L1587.0,1213.9 L1586.0,1213.9 L1585.0,1213.9 L1584.0,1213.9 L1583.0,1213.9 L1582.0,1213.9 L1581.0,1213.9 L1580.0,1213.9 L1579.0,1213.9 L1578.0,1213.9 L1577.0,1213.9 L1576.0,1213.9 L1575.0,1213.9 L1574.0,1213.9 L1573.0,1213.9 L1572.0,1213.9 L1571.0,1213.9 L1570.0,1213.9 L1569.0,1213.9 L1568.0,1213.9 L1567.0,1213.9 L1566.0,1213.9 L1565.0,1213.9 L1564.0,1213.9 L1563.0,1213.9 L1562.0,1213.9 L1561.0,1213.9 L1560.0,1213.9 L1559.0,1213.9 L1558.0,1213.9 L1557.0,1213.9 L1556.0,1213.9 L1555.0,1213.9 L1554.0,1213.9 L1553.0,1213.9 L1552.0,1213.9 L1551.0,1213.9 L1550.0,1213.9 L1549.0,1213.9 L1548.0,1213.9 L1547.0,1213.9 L1546.0,1213.9 L1545.0,1213.9 L1544.0,1213.9 L1543.0,1213.9 L1542.0,1213.9 L1541.0,1213.9 L1540.0,1213.9 L1539.0,1213.9 L1538.0,1213.9 L1537.0,1213.9 L1536.0,1213.9 L1535.0,1213.9 L1534.0,1213.9 L1533.0,1213.9 L1532.0,1213.9 L1531.0,1213.9 L1530.0,1213.9 L1529.0,1213.9 L1528.0,1213.9 L1527.0,1213.9 L1526.0,1213.9 L1525.0,1213.9 L1524.0,1213.9 L1523.0,1213.9 L1522.0,1213.9 L1521.0,1213.9 L1520.0,1213.9 L1519.0,1213.9 L1518.0,1213.9 L1517.0,1213.9 L1516.0,1213.9 L1515.0,1213.9 L1514.0,1213.9 L1513.0,1213.9 L1512.0,1213.9 L1511.0,1213.9 L1510.0,1213.9 L1509.0,1213.9 L1508.0,1213.9 L1507.0,1213.9 L1506.0,1213.9 L1505.0,1213.9 L1504.0,1213.9 L1503.0,1213.9 L1502.0,1213.9 L1501.0,1213.9 L1500.0,1213.9 L1499.0,1213.9 L1498.0,1213.9 L1497.0,1213.9 L1496.0,1213.9 L1495.0,1213.9 L1494.0,1213.9 L1493.0,1213.9 L1492.0,1213.9 L1491.0,1213.9 L1490.0,1213.9 L1489.0,1213.9 L1488.0,1213.9 L1487.0,1213.9 L1486.0,1213.9 L1485.0,1213.9 L1484.0,1213.9 L1483.0,1213.9 L1482.0,1213.9 L1481.0,1213.9 L1480.0,1213.9 L1479.0,1213.9 L1478.0,1213.9 L1477.0,1213.9 L1476.0,1213.9 L1475.0,1213.9 L1474.0,1213.9 L1473.0,1213.9 L1472.0,1213.9 L1471.0,1213.9 L1470.0,1213.9 L1469.0,1213.9 L1468.0,1213.9 L1467.0,1213.9 L1466.0,1213.9 L1465.0,1213.9 L1464.0,1213.9 L1463.0,1213.9 L1462.0,1213.9 L1461.0,1213.9 L1460.0,1213.9 L1459.0,1213.9 L1458.0,1213.9 L1457.0,1213.9 L1456.0,1213.9 L1455.0,1213.9 L1454.0,1213.9 L1453.0,1213.9 L1452.0,1213.9 L1451.0,1213.9 L1450.0,1213.9 L1449.0,1213.9 L1448.0,1213.9 L1447.0,1213.9 L1446.0,1213.9 L1445.0,1213.9 L1444.0,1213.9 L1443.0,1213.9 L1442.0,1213.9 L1441.0,1213.9 L1440.0,1213.9 L1439.0,1213.9 L1438.0,1213.9 L1437.0,1213.9 L1436.0,1213.9 L1435.0,1213.9 L1434.0,1213.9 L1433.0,1213.9 L1432.0,1213.9 L1431.0,1213.9 L1430.0,1213.9 L1429.0,1213.9 L1428.0,1213.9 L1427.0,1213.9 L1426.0,1213.9 L1425.0,1213.9 L1424.0,1213.9 L1423.0,1213.9 L1422.0,1213.9 L1421.0,1213.9 L1420.0,1213.9 L1419.0,1213.9 L1418.0,1213.9 L1417.0,1213.9 L1416.0,1213.9 L1415.0,1213.9 L1414.0,1213.9 L1413.0,1213.9 L1412.0,1213.9 L1411.0,1213.9 L1410.0,1213.9 L1409.0,1213.9 L1408.0,1213.9 L1407.0,1213.9 L1406.0,1213.9 L1405.0,1213.9 L1404.0,1213.9 L1403.0,1213.9 L1402.0,1213.9 L1401.0,1213.9 L1400.0,1213.9 L1399.0,1213.9 L1398.0,1213.9 L1397.0,1213.9 L1396.0,1213.9 L1395.0,1213.9 L1394.0,1213.9 L1393.0,1213.9 L1392.0,1213.9 L1391.0,1213.9 L1390.0,1213.9 L1389.0,1213.9 L1388.0,1213.9 L1387.0,1213.9 L1386.0,1213.9 L1385.0,1213.9 L1384.0,1213.9 L1383.0,1213.9 L1382.0,1213.9 L1381.0,1213.9 L1380.0,1213.9 L1379.0,1213.9 L1378.0,1213.9 L1377.0,1213.9 L1376.0,1213.9 L1375.0,1213.9 L1374.0,1213.9 L1373.0,1213.9 L1372.0,1213.9 L1371.0,1213.9 L1370.0,1213.9 L1369.0,1213.9 L1368.0,1213.9 L1367.0,1213.9 L1366.0,1213.9 L1365.0,1213.9 L1364.0,1213.9 L1363.0,1213.9 L1362.0,1213.9 L1361.0,1213.9 L1360.0,1213.9 L1359.0,1213.9 L1358.0,1213.9 L1357.0,1213.9 L1356.0,1213.9 L1355.0,1213.9 L1354.0,1213.9 L1353.0,1213.9 L1352.0,1213.9 L1351.0,1213.9 L1350.0,1213.9 L1349.0,1213.9 L1348.0,1213.9 L1347.0,1213.9 L1346.0,1213.9 L1345.0,1213.9 L1344.0,1213.9 L1343.0,1213.9 L1342.0,1213.9 L1341.0,1213.9 L1340.0,1213.9 L1339.0,1213.9 L1338.0,1213.9 L1337.0,1213.9 L1336.0,1213.9 L1335.0,1213.9 L1334.0,1213.9 L1333.0,1213.9 L1332.0,1213.9 L1331.0,1213.9 L1330.0,1213.9 L1329.0,1213.9 L1328.0,1213.9 L1327.0,1213.9 L1326.0,1213.9 L1325.0,1213.9 L1324.0,1213.9 L1323.0,1213.9 L1322.0,1213.9 L1321.0,1213.9 L1320.0,1213.9 L1319.0,1213.9 L1318.0,1213.9 L1317.0,1213.9 L1316.0,1213.9 L1315.0,1213.9 L1314.0,1213.9 L1313.0,1213.9 L1312.0,1213.9 L1311.0,1213.9 L1310.0,1213.9 L1309.0,1213.9 L1308.0,1213.9 L1307.0,1213.9 L1306.0,1213.9 L1305.0,1213.9 L1304.0,1213.9 L1303.0,1213.9 L1302.0,1213.9 L1301.0,1213.9 L1300.0,1213.9 L1299.0,1213.9 L1298.0,1213.9 L1297.0,1213.9 L1296.0,1213.9 L1295.0,1213.9 L1294.0,1213.9 L1293.0,1213.9 L1292.0,1213.9 L1291.0,1213.9 L1290.0,1213.9 L1289.0,1213.9 L1288.0,1213.9 L1287.0,1213.9 L1286.0,1213.9 L1285.0,1213.9 L1284.0,1213.9 L1283.0,1213.9 L1282.0,1213.9 L1281.0,1213.9 L1280.0,1213.9 L1279.0,1213.9 L1278.0,1213.9 L1277.0,1213.9 L1276.0,1213.9 L1275.0,1213.9 L1274.0,1213.9 L1273.0,1213.9 L1272.0,1213.9 L1271.0,1213.9 L1270.0,1213.9 L1269.0,1213.9 L1268.0,1213.9 L1267.0,1213.9 L1266.0,1213.9 L1265.0,1213.9 L1264.0,1213.9 L1263.0,1213.9 L1262.0,1213.9 L1261.0,1213.9 L1260.0,1213.9 L1259.0,1213.9 L1258.0,1213.9 L1257.0,1213.9 L1256.0,1213.9 L1255.0,1213.9 L1254.0,1213.9 L1253.0,1213.9 L1252.0,1213.9 L1251.0,1213.9 L1250.0,1213.9 L1249.0,1213.9 L1248.0,1213.9 L1247.0,1213.9 L1246.0,1213.9 L1245.0,1213.9 L1244.0,1213.9 L1243.0,1213.9 L1242.0,1213.9 L1241.0,1213.9 L1240.0,1213.9 L1239.0,1213.9 L1238.0,1213.9 L1237.0,1213.9 L1236.0,1213.9 L1235.0,1213.9 L1234.0,1213.9 L1233.0,1213.9 L1232.0,1213.9 L1231.0,1213.9 L1230.0,1213.9 L1229.0,1213.9 L1228.0,1213.9 L1227.0,1213.9 L1226.0,1213.9 L1225.0,1213.9 L1224.0,1213.9 L1223.0,1213.9 L1222.0,1213.9 L1221.0,1213.9 L1220.0,1213.9 L1219.0,1213.9 L1218.0,1213.9 L1217.0,1213.9 L1216.0,1213.9 L1215.0,1213.9 L1214.0,1213.9 L1213.0,1213.9 L1212.0,1213.9 L1211.0,1213.9 L1210.0,1213.9 L1209.0,1213.9 L1208.0,1213.9 L1207.0,1213.9 L1206.0,1213.9 L1205.0,1213.9 L1204.0,1213.9 L1203.0,1213.9 L1202.0,1213.9 L1201.0,1213.9 L1200.0,1213.9 L1199.0,1213.9 L1198.0,1213.9 L1197.0,1213.9 L1196.0,1213.9 L1195.0,1213.9 L1194.0,1213.9 L1193.0,1213.9 L1192.0,1213.9 L1191.0,1213.9 L1190.0,1213.9 L1189.0,1213.9 L1188.0,1213.9 L1187.0,1213.9 L1186.0,1213.9 L1185.0,1213.9 L1184.0,1213.9 L1183.0,1213.9 L1182.0,1213.9 L1181.0,1213.9 L1180.0,1213.9 L1179.0,1213.9 L1178.0,1213.9 L1177.0,1213.9 L1176.0,1213.9 L1175.0,1213.9 L1174.0,1213.9 L1173.0,1213.9 L1172.0,1213.9 L1171.0,1213.9 L1170.0,1213.9 L1169.0,1213.9 L1168.0,1213.9 L1167.0,1213.9 L1166.0,1213.9 L1165.0,1213.9 L1164.0,1213.9 L1163.0,1213.9 L1162.0,1213.9 L1161.0,1213.9 L1160.0,1213.9 L1159.0,1213.9 L1158.0,1213.9 L1157.0,1213.9 L1156.0,1213.9 L1155.0,1213.9 L1154.0,1213.9 L1153.0,1213.9 L1152.0,1213.9 L1151.0,1213.9 L1150.0,1213.9 L1149.0,1213.9 L1148.0,1213.9 L1147.0,1213.9 L1146.0,1213.9 L1145.0,1213.9 L1144.0,1213.9 L1143.0,1213.9 L1142.0,1213.9 L1141.0,1213.9 L1140.0,1213.9 L1139.0,1213.9 L1138.0,1213.9 L1137.0,1213.9 L1136.0,1213.9 L1135.0,1213.9 L1134.0,1213.9 L1133.0,1213.9 L1132.0,1213.9 L1131.0,1213.9 L1130.0,1213.9 L1129.0,1213.9 L1128.0,1213.9 L1127.0,1213.9 L1126.0,1213.9 L1125.0,1213.9 L1124.0,1213.9 L1123.0,1213.9 L1122.0,1213.9 L1121.0,1213.9 L1120.0,1213.9 L1119.0,1213.9 L1118.0,1213.9 L1117.0,1213.9 L1116.0,1213.9 L1115.0,1213.9 L1114.0,1213.9 L1113.0,1213.9 L1112.0,1213.9 L1111.0,1213.9 L1110.0,1213.9 L1109.0,1213.9 L1108.0,1213.9 L1107.0,1213.9 L1106.0,1213.9 L1105.0,1213.9 L1104.0,1213.9 L1103.0,1213.9 L1102.0,1213.9 L1101.0,1213.9 L1100.0,1213.9 L1099.0,1213.9 L1098.0,1213.9 L1097.0,1213.9 L1096.0,1213.9 L1095.0,1213.9 L1094.0,1213.9 L1093.0,1213.9 L1092.0,1213.9 L1091.0,1213.9 L1090.0,1213.9 L1089.0,1213.9 L1088.0,1213.9 L1087.0,1213.9 L1086.0,1213.9 L1085.0,1213.9 L1084.0,1213.9 L1083.0,1213.9 L1082.0,1213.9 L1081.0,1213.9 L1080.0,1213.9 L1079.0,1213.9 L1078.0,1213.9 L1077.0,1213.9 L1076.0,1213.9 L1075.0,1213.9 L1074.0,1213.9 L1073.0,1213.9 L1072.0,1213.9 L1071.0,1213.9 L1070.0,1213.9 L1069.0,1213.9 L1068.0,1213.9 L1067.0,1213.9 L1066.0,1213.9 L1065.0,1213.9 L1064.0,1213.9 L1063.0,1213.9 L1062.0,1213.9 L1061.0,1213.9 L1060.0,1213.9 L1059.0,1213.9 L1058.0,1213.9 L1057.0,1213.9 L1056.0,1213.9 L1055.0,1213.9 L1054.0,1213.9 L1053.0,1213.9 L1052.0,1213.9 L1051.0,1213.9 L1050.0,1213.9 L1049.0,1213.9 L1048.0,1213.9 L1047.0,1213.9 L1046.0,1213.9 L1045.0,1213.9 L1044.0,1213.9 L1043.0,1213.9 L1042.0,1213.9 L1041.0,1213.9 L1040.0,1213.9 L1039.0,1213.9 L1038.0,1213.9 L1037.0,1213.9 L1036.0,1213.9 L1035.0,1213.9 L1034.0,1213.9 L1033.0,1213.9 L1032.0,1213.9 L1031.0,1213.9 L1030.0,1213.9 L1029.0,1213.9 L1028.0,1213.9 L1027.0,1213.9 L1026.0,1213.9 L1025.0,1213.9 L1024.0,1213.9 L1023.0,1213.9 L1022.0,1213.9 L1021.0,1213.9 L1020.0,1213.9 L1019.0,1213.9 L1018.0,1213.9 L1017.0,1213.9 L1016.0,1213.9 L1015.0,1213.9 L1014.0,1213.9 L1013.0,1213.9 L1012.0,1213.9 L1011.0,1213.9 L1010.0,1213.9 L1009.0,1213.9 L1008.0,1213.9 L1007.0,1213.9 L1006.0,1213.9 L1005.0,1213.9 L1004.0,1213.9 L1003.0,1213.9 L1002.0,1213.9 L1001.0,1213.9 L1000.0,1213.9 L999.0,1213.9 L998.0,1213.9 L997.0,1213.9 L996.0,1213.9 L995.0,1213.9 L994.0,1213.9 L993.0,1213.9 L992.0,1213.9 L991.0,1213.9 L990.0,1213.9 L989.0,1213.9 L988.0,1213.9 L987.0,1213.9 L986.0,1213.9 L985.0,1213.9 L984.0,1213.9 L983.0,1213.9 L982.0,1213.9 L981.0,1213.9 L980.0,1213.9 L979.0,1213.9 L978.0,1213.9 L977.0,1213.9 L976.0,1213.9 L975.0,1213.9 L974.0,1213.9 L973.0,1213.9 L972.0,1213.9 L971.0,1213.9 L970.0,1213.9 L969.0,1213.9 L968.0,1213.9 L967.0,1213.9 L966.0,1213.9 L965.0,1213.9 L964.0,1213.9 L963.0,1213.9 L962.0,1213.9 L961.0,1213.9 L960.0,1213.9 L959.0,1213.9 L958.0,1213.9 L957.0,1213.9 L956.0,1213.9 L955.0,1213.9 L954.0,1213.9 L953.0,1213.9 L952.0,1213.9 L951.0,1213.9 L950.0,1213.9 L949.0,1213.9 L948.0,1213.9 L947.0,1213.9 L946.0,1213.9 L945.0,1213.9 L944.0,1213.9 L943.0,1213.9 L942.0,1213.9 L941.0,1213.9 L940.0,1213.9 L939.0,1213.9 L938.0,1213.9 L937.0,1213.9 L936.0,1213.9 L935.0,1213.9 L934.0,1213.9 L933.0,1213.9 L932.0,1213.9 L931.0,1213.9 L930.0,1213.9 L929.0,1213.9 L928.0,1213.9 L927.0,1213.9 L926.0,1213.9 L925.0,1213.9 L924.0,1213.9 L923.0,1213.9 L922.0,1213.9 L921.0,1213.9 L920.0,1213.9 L919.0,1213.9 L918.0,1213.9 L917.0,1213.9 L916.0,1213.9 L915.0,1213.9 L914.0,1213.9 L913.0,1213.9 L912.0,1213.9 L911.0,1213.9 L910.0,1213.9 L909.0,1213.9 L908.0,1213.9 L907.0,1213.9 L906.0,1213.9 L905.0,1213.9 L904.0,1213.9 L903.0,1213.9 L902.0,1213.9 L901.0,1213.9 L900.0,1213.9 L899.0,1213.9 L898.0,1213.9 L897.0,1213.9 L896.0,1213.9 L895.0,1213.9 L894.0,1213.9 L893.0,1213.9 L892.0,1213.9 L891.0,1213.9 L890.0,1213.9 L889.0,1213.9 L888.0,1213.9 L887.0,1213.9 L886.0,1213.9 L885.0,1213.9 L884.0,1213.9 L883.0,1213.9 L882.0,1213.9 L881.0,1213.9 L880.0,1213.9 L879.0,1213.9 L878.0,1213.9 L877.0,1213.9 L876.0,1213.9 L875.0,1213.9 L874.0,1213.9 L873.0,1213.9 L872.0,1213.9 L871.0,1213.9 L870.0,1213.9 L869.0,1213.9 L868.0,1213.9 L867.0,1213.9 L866.0,1213.9 L865.0,1213.9 L864.0,1213.9 L863.0,1213.9 L862.0,1213.9 L861.0,1213.9 L860.0,1213.9 L859.0,1213.9 L858.0,1213.9 L857.0,1213.9 L856.0,1213.9 L855.0,1213.9 L854.0,1213.9 L853.0,1213.9 L852.0,1213.9 L851.0,1213.9 L850.0,1213.9 L849.0,1213.9 L848.0,1213.9 L847.0,1213.9 L846.0,1213.9 L845.0,1213.9 L844.0,1213.9 L843.0,1213.9 L842.0,1213.9 L841.0,1213.9 L840.0,1213.9 L839.0,1213.9 L838.0,1213.9 L837.0,1213.9 L836.0,1213.9 L835.0,1213.9 L834.0,1213.9 L833.0,1213.9 L832.0,1213.9 L831.0,1213.9 L830.0,1213.9 L829.0,1213.9 L828.0,1213.9 L827.0,1213.9 L826.0,1213.9 L825.0,1213.9 L824.0,1213.9 L823.0,1213.9 L822.0,1213.9 L821.0,1213.9 L820.0,1213.9 L819.0,1213.9 L818.0,1213.9 L817.0,1213.9 L816.0,1213.9 L815.0,1213.9 L814.0,1213.9 L813.0,1213.9 L812.0,1213.9 L811.0,1213.9 L810.0,1213.9 L809.0,1213.9 L808.0,1213.9 L807.0,1213.8 L806.0,1213.8 L805.0,1213.8 L804.0,1136.8 L803.0,693.9 L802.0,359.3 L801.0,212.6 L800.0,149.7 L799.0,120.4 L798.0,105.2 L797.0,96.9 L796.0,91.9 L795.0,88.9 L794.0,87.0 L793.0,88.4 L792.0,91.2 L791.0,95.7 L790.0,103.2 L789.0,116.5 L788.0,142.1 L787.0,195.6 L786.0,318.9 L785.0,607.6 L784.0,1067.3 L783.0,1213.8 L782.0,1213.8 L781.0,1213.8 L780.0,1213.9 L779.0,1213.9 L778.0,1213.9 L777.0,1213.9 L776.0,1213.9 L775.0,1213.9 L774.0,1213.9 L773.0,1213.9 L772.0,1213.9 L771.0,1213.9 L770.0,1213.9 L769.0,1213.9 L768.0,1213.9 L767.0,1213.9 L766.0,1213.9 L765.0,1213.9 L764.0,1213.9 L763.0,1213.9 L762.0,1213.9 L761.0,1213.9 L760.0,1213.9 L759.0,1213.9 L758.0,1213.9 L757.0,1213.9 L756.0,1213.9 L755.0,1213.9 L754.0,1213.9 L753.0,1213.9 L752.0,1213.9 L751.0,1213.9 L750.0,1213.9 L749.0,1213.9 L748.0,1213.9 L747.0,1213.9 L746.0,1213.9 L745.0,1213.9 L744.0,1213.9 L743.0,1213.9 L742.0,1213.9 L741.0,1213.9 L740.0,1213.9 L739.0,1213.9 L738.0,1213.9 L737.0,1213.9 L736.0,1213.9 L735.0,1213.9 L734.0,1213.9 L733.0,1213.9 L732.0,1213.9 L731.0,1213.9 L730.0,1213.9 L729.0,1213.9 L728.0,1213.9 L727.0,1213.9 L726.0,1213.9 L725.0,1213.9 L724.0,1213.9 L723.0,1213.9 L722.0,1213.9 L721.0,1213.9 L720.0,1213.9 L719.0,1213.9 L718.0,1213.9 L717.0,1213.9 L716.0,1213.9 L715.0,1213.9 L714.0,1213.9 L713.0,1213.9 L712.0,1213.9 L711.0,1213.9 L710.0,1213.9 L709.0,1213.9 L708.0,1213.9 L707.0,1213.9 L706.0,1213.9 L705.0,1213.9 L704.0,1213.9 L703.0,1213.9 L702.0,1213.9 L701.0,1213.9 L700.0,1213.9 L699.0,1213.9 L698.0,1213.9 L697.0,1213.9 L696.0,1213.9 L695.0,1213.9 L694.0,1213.9 L693.0,1213.9 L692.0,1213.9 L691.0,1213.9 L690.0,1213.9 L689.0,1213.9 L688.0,1213.9 L687.0,1213.9 L686.0,1213.9 L685.0,1213.9 L684.0,1213.9 L683.0,1213.9 L682.0,1213.9 L681.0,1213.9 L680.0,1213.9 L679.0,1213.9 L678.0,1213.9 L677.0,1213.9 L676.0,1213.9 L675.0,1213.9 L674.0,1213.9 L673.0,1213.9 L672.0,1213.9 L671.0,1213.9 L670.0,1213.9 L669.0,1213.9 L668.0,1213.9 L667.0,1213.9 L666.0,1213.9 L665.0,1213.9 L664.0,1213.9 L663.0,1213.9 L662.0,1213.9 L661.0,1213.9 L660.0,1213.9 L659.0,1213.9 L658.0,1213.9 L657.0,1213.9 L656.0,1213.9 L655.0,1213.9 L654.0,1213.9 L653.0,1213.9 L652.0,1213.9 L651.0,1213.9 L650.0,1213.9 L649.0,1213.9 L648.0,1213.9 L647.0,1213.9 L646.0,1213.9 L645.0,1213.9 L644.0,1213.9 L643.0,1213.9 L642.0,1213.9 L641.0,1213.9 L640.0,1213.9 L639.0,1213.9 L638.0,1213.9 L637.0,1213.9 L636.0,1213.9 L635.0,1213.9 L634.0,1213.9 L633.0,1213.9 L632.0,1213.9 L631.0,1213.9 L630.0,1213.9 L629.0,1213.9 L628.0,1213.9 L627.0,1213.9 L626.0,1213.9 L625.0,1213.9 L624.0,1213.9 L623.0,1213.9 L622.0,1213.9 L621.0,1213.9 L620.0,1213.9 L619.0,1213.9 L618.0,1213.9 L617.0,1213.9 L616.0,1213.9 L615.0,1213.9 L614.0,1213.9 L613.0,1213.9 L612.0,1213.9 L611.0,1213.9 L610.0,1213.9 L609.0,1213.9 L608.0,1213.9 L607.0,1213.9 L606.0,1213.9 L605.0,1213.9 L604.0,1213.9 L603.0,1213.9 L602.0,1213.9 L601.0,1213.9 L600.0,1213.9 L599.0,1213.9 L598.0,1213.9 L597.0,1213.9 L596.0,1213.9 L595.0,1213.9 L594.0,1213.9 L593.0,1213.9 L592.0,1213.9 L591.0,1213.9 L590.0,1213.9 L589.0,1213.9 L588.0,1213.9 L587.0,1213.9 L586.0,1213.9 L585.0,1213.9 L584.0,1213.9 L583.0,1213.9 L582.0,1213.9 L581.0,1213.9 L580.0,1213.9 L579.0,1213.9 L578.0,1213.9 L577.0,1213.9 L576.0,1213.9 L575.0,1213.9 L574.0,1213.9 L573.0,1213.9 L572.0,1213.9 L571.0,1213.9 L570.0,1213.9 L569.0,1213.9 L568.0,1213.9 L567.0,1213.9 L566.0,1213.9 L565.0,1213.9 L564.0,1213.9 L563.0,1213.9 L562.0,1213.9 L561.0,1213.9 L560.0,1213.9 L559.0,1213.9 L558.0,1213.9 L557.0,1213.9 L556.0,1213.9 L555.0,1213.9 L554.0,1213.9 L553.0,1213.9 L552.0,1213.9 L551.0,1213.9 L550.0,1213.9 L549.0,1213.9 L548.0,1213.9 L547.0,1213.9 L546.0,1213.9 L545.0,1213.9 L544.0,1213.9 L543.0,1213.9 L542.0,1213.9 L541.0,1213.9 L540.0,1213.9 L539.0,1213.9 L538.0,1213.9 L537.0,1213.9 L536.0,1213.9 L535.0,1213.9 L534.0,1213.9 L533.0,1213.9 L532.0,1213.9 L531.0,1213.9 L530.0,1213.9 L529.0,1213.9 L528.0,1213.9 L527.0,1213.9 L526.0,1213.9 L525.0,1213.9 L524.0,1213.9 L523.0,1213.9 L522.0,1213.9 L521.0,1213.9 L520.0,1213.9 L519.0,1213.9 L518.0,1213.9 L517.0,1213.9 L516.0,1213.9 L515.0,1213.9 L514.0,1213.9 L513.0,1213.9 L512.0,1213.9 L511.0,1213.9 L510.0,1213.9 L509.0,1213.9 L508.0,1213.9 L507.0,1213.9 L506.0,1213.9 L505.0,1213.9 L504.0,1213.9 L503.0,1213.9 L502.0,1213.9 L501.0,1213.9 L500.0,1213.9 L499.0,1213.9 L498.0,1213.9 L497.0,1213.9 L496.0,1213.9 L495.0,1213.9 L494.0,1213.9 L493.0,1213.9 L492.0,1213.9 L491.0,1213.9 L490.0,1213.9 L489.0,1213.9 L488.0,1213.9 L487.0,1213.9 L486.0,1213.9 L485.0,1213.9 L484.0,1213.9 L483.0,1213.9 L482.0,1213.9 L481.0,1213.9 L480.0,1213.9 L479.0,1213.9 L478.0,1213.9 L477.0,1213.9 L476.0,1213.9 L475.0,1213.9 L474.0,1213.9 L473.0,1213.9 L472.0,1213.9 L471.0,1213.9 L470.0,1213.9 L469.0,1213.9 L468.0,1213.9 L467.0,1213.9 L466.0,1213.9 L465.0,1213.9 L464.0,1213.9 L463.0,1213.9 L462.0,1213.9 L461.0,1213.9 L460.0,1213.9 L459.0,1213.9 L458.0,1213.9 L457.0,1213.9 L456.0,1213.9 L455.0,1213.9 L454.0,1213.9 L453.0,1213.9 L452.0,1213.9 L451.0,1213.9 L450.0,1213.9 L449.0,1213.9 L448.0,1213.9 L447.0,1213.9 L446.0,1213.9 L445.0,1213.9 L444.0,1213.9 L443.0,1213.9 L442.0,1213.9 L441.0,1213.9 L440.0,1213.9 L439.0,1213.9 L438.0,1213.9 L437.0,1213.9 L436.0,1213.9 L435.0,1213.9 L434.0,1213.9 L433.0,1213.9 L432.0,1213.9 L431.0,1213.9 L430.0,1213.9 L429.0,1213.9 L428.0,1213.9 L427.0,1213.9 L426.0,1213.9 L425.0,1213.9 L424.0,1213.9 L423.0,1213.9 L422.0,1213.9 L421.0,1213.9 L420.0,1213.9 L419.0,1213.9 L418.0,1213.9 L417.0,1213.9 L416.0,1213.9 L415.0,1213.9 L414.0,1213.9 L413.0,1213.9 L412.0,1213.9 L411.0,1213.9 L410.0,1213.9 L409.0,1213.9 L408.0,1213.9 L407.0,1213.9 L406.0,1213.9 L405.0,1213.9 L404.0,1213.9 L403.0,1213.9 L402.0,1213.9 L401.0,1213.9 L400.0,1213.9 L399.0,1213.9 L398.0,1213.9 L397.0,1213.9 L396.0,1213.9 L395.0,1213.9 L394.0,1213.9 L393.0,1213.9 L392.0,1213.9 L391.0,1213.9 L390.0,1213.9 L389.0,1213.9 L388.0,1213.9 L387.0,1213.9 L386.0,1213.9 L385.0,1213.9 L384.0,1213.9 L383.0,1213.9 L382.0,1213.9 L381.0,1213.9 L380.0,1213.9 L379.0,1213.9 L378.0,1213.9 L377.0,1213.9 L376.0,1213.9 L375.0,1213.9 L374.0,1213.9 L373.0,1213.9 L372.0,1213.9 L371.0,1213.9 L370.0,1213.9 L369.0,1213.9 L368.0,1213.9 L367.0,1213.9 L366.0,1213.9 L365.0,1213.9 L364.0,1213.9 L363.0,1213.9 L362.0,1213.9 L361.0,1213.9 L360.0,1213.9 L359.0,1213.9 L358.0,1213.9 L357.0,1213.9 L356.0,1213.9 L355.0,1213.9 L354.0,1213.9 L353.0,1213.9 L352.0,1213.9 L351.0,1213.9 L350.0,1213.9 L349.0,1213.9 L348.0,1213.9 L347.0,1213.9 L346.0,1213.9 L345.0,1213.9 L344.0,1213.9 L343.0,1213.9 L342.0,1213.9 L341.0,1213.9 L340.0,1213.9 L339.0,1213.9 L338.0,1213.9 L337.0,1213.9 L336.0,1213.9 L335.0,1213.9 L334.0,1213.9 L333.0,1213.9 L332.0,1213.9 L331.0,1213.9 L330.0,1213.9 L329.0,1213.9 L328.0,1213.9 L327.0,1213.9 L326.0,1213.9 L325.0,1213.9 L324.0,1213.9 L323.0,1213.9 L322.0,1213.9 L321.0,1213.9 L320.0,1213.9 L319.0,1213.9 L318.0,1213.9 L317.0,1213.9 L316.0,1213.9 L315.0,1213.9 L314.0,1213.9 L313.0,1213.9 L312.0,1213.9 L311.0,1213.9 L310.0,1213.9 L309.0,1213.9 L308.0,1213.9 L307.0,1213.9 L306.0,1213.9 L305.0,1213.9 L304.0,1213.9 L303.0,1213.9 L302.0,1213.9 L301.0,1213.9 L300.0,1213.9 L299.0,1213.9 L298.0,1213.9 L297.0,1213.9 L296.0,1213.9 L295.0,1213.9 L294.0,1213.9 L293.0,1213.9 L292.0,1213.9 L291.0,1213.9 L290.0,1213.9 L289.0,1213.9 L288.0,1213.9 L287.0,1213.9 L286.0,1213.9 L285.0,1213.9 L284.0,1213.9 L283.0,1213.9 L282.0,1213.9 L281.0,1213.9 L280.0,1213.9 L279.0,1213.9 L278.0,1213.9 L277.0,1213.9 L276.0,1213.9 L275.0,1213.9 L274.0,1213.9Z" fill="#ff0000"/>
<path d="M274.0,1206.0 L275.0,1206.0 L276.0,1206.1 L277.0,1206.1 L278.0,1206.0 L279.0,1206.0 L280.0,1206.0 L281.0,1206.0 L282.0,1206.0 L283.0,1206.0 L284.0,1206.0 L285.0,1206.0 L286.0,1206.1 L287.0,1206.0 L288.0,1206.0 L289.0,1206.0 L290.0,1206.0 L291.0,1206.0 L292.0,1206.0 L293.0,1206.0 L294.0,1206.0 L295.0,1206.0 L296.0,1206.1 L297.0,1206.0 L298.0,1206.0 L299.0,1206.0 L300.0,1206.0 L301.0,1206.0 L302.0,1206.0 L303.0,1206.0 L304.0,1206.0 L305.0,1206.1 L306.0,1206.0 L307.0,1206.0 L308.0,1206.0 L309.0,1206.0 L310.0,1206.0 L311.0,1206.0 L312.0,1206.0 L313.0,1206.0 L314.0,1206.0 L315.0,1206.1 L316.0,1206.0 L317.0,1206.0 L318.0,1206.0 L319.0,1206.0 L320.0,1206.0 L321.0,1206.0 L322.0,1206.0 L323.0,1206.0 L324.0,1206.0 L325.0,1206.0 L326.0,1206.0 L327.0,1206.0 L328.0,1206.0 L329.0,1206.0 L330.0,1206.0 L331.0,1206.0 L332.0,1206.0 L333.0,1206.0 L334.0,1206.1 L335.0,1206.0 L336.0,1206.0 L337.0,1206.0 L338.0,1206.0 L339.0,1206.0 L340.0,1206.0 L341.0,1206.0 L342.0,1206.0 L343.0,1206.0 L344.0,1206.0 L345.0,1206.0 L346.0,1206.0 L347.0,1206.0 L348.0,1206.0 L349.0,1206.0 L350.0,1206.0 L351.0,1206.0 L352.0,1206.0 L353.0,1206.0 L354.0,1206.0 L355.0,1205.9 L356.0,1205.9 L357.0,1205.9 L358.0,1205.9 L359.0,1205.9 L360.0,1205.9 L361.0,1205.9 L362.0,1206.0 L363.0,1206.0 L364.0,1205.9 L365.0,1205.9 L366.0,1205.9 L367.0,1205.9 L368.0,1205.9 L369.0,1205.9 L370.0,1205.9 L371.0,1205.9 L372.0,1206.0 L373.0,1206.0 L374.0,1205.9 L375.0,1205.9 L376.0,1205.9 L377.0,1205.9 L378.0,1205.9 L379.0,1205.9 L380.0,1205.9 L381.0,1205.9 L382.0,1206.0 L383.0,1205.9 L384.0,1205.9 L385.0,1205.9 L386.0,1205.9 L387.0,1205.9 L388.0,1205.9 L389.0,1205.9 L390.0,1205.9 L391.0,1206.0 L392.0,1206.0 L393.0,1205.9 L394.0,1205.9 L395.0,1205.9 L396.0,1205.9 L397.0,1205.9 L398.0,1205.9 L399.0,1205.9 L400.0,1205.9 L401.0,1206.0 L402.0,1205.9 L403.0,1205.9 L404.0,1205.9 L405.0,1205.9 L406.0,1205.9 L407.0,1205.9 L408.0,1205.9 L409.0,1205.9 L410.0,1205.9 L411.0,1206.0 L412.0,1205.9 L413.0,1205.8 L414.0,1205.8 L415.0,1205.8 L416.0,1205.8 L417.0,1205.8 L418.0,1205.8 L419.0,1205.9 L420.0,1205.9 L421.0,1205.9 L422.0,1205.8 L423.0,1205.8 L424.0,1205.8 L425.0,1205.8 L426.0,1205.8 L427.0,1205.8 L428.0,1205.8 L429.0,1205.9 L430.0,1205.9 L431.0,1205.8 L432.0,1205.8 L433.0,1205.8 L434.0,1205.8 L435.0,1205.8 L436.0,1205.8 L437.0,1205.8 L438.0,1205.8 L439.0,1205.9 L440.0,1205.9 L441.0,1205.8 L442.0,1205.8 L443.0,1205.8 L444.0,1205.8 L445.0,1205.8 L446.0,1205.8 L447.0,1205.8 L448.0,1205.8 L449.0,1205.9 L450.0,1205.8 L451.0,1205.8 L452.0,1205.8 L453.0,1205.8 L454.0,1205.8 L455.0,1205.8 L456.0,1205.8 L457.0,1205.8 L458.0,1205.8 L459.0,1205.9 L460.0,1205.8 L461.0,1205.7 L462.0,1205.7 L463.0,1205.7 L464.0,1205.7 L465.0,1205.7 L466.0,1205.7 L467.0,1205.8 L468.0,1205.9 L469.0,1205.8 L470.0,1205.7 L471.0,1205.7 L472.0,1205.7 L473.0,1205.7 L474.0,1205.7 L475.0,1205.7 L476.0,1205.7 L477.0,1205.8 L478.0,1205.8 L479.0,1205.7 L480.0,1205.7 L481.0,1205.7 L482.0,1205.7 L483.0,1205.7 L484.0,1205.7 L485.0,1205.7 L486.0,1205.7 L487.0,1205.8 L488.0,1205.8 L489.0,1205.7 L490.0,1205.7 L491.0,1205.7 L492.0,1205.7 L493.0,1205.7 L494.0,1205.7 L495.0,1205.7 L496.0,1205.7 L497.0,1205.8 L498.0,1205.7 L499.0,1205.6 L500.0,1205.6 L501.0,1205.6 L502.0,1205.6 L503.0,1205.6 L504.0,1205.6 L505.0,1205.6 L506.0,1205.7 L507.0,1205.7 L508.0,1205.6 L509.0,1205.6 L510.0,1205.6 L511.0,1205.6 L512.0,1205.6 L513.0,1205.6 L514.0,1205.6 L515.0,1205.6 L516.0,1205.8 L517.0,1205.6 L518.0,1205.6 L519.0,1205.6 L520.0,1205.6 L521.0,1205.6 L522.0,1205.6 L523.0,1205.6 L524.0,1205.6 L525.0,1205.6 L526.0,1205.7 L527.0,1205.5 L528.0,1205.5 L529.0,1205.5 L530.0,1205.5 L531.0,1205.5 L532.0,1205.5 L533.0,1205.5 L534.0,1205.5 L535.0,1205.7 L536.0,1205.6 L537.0,1205.5 L538.0,1205.5 L539.0,1205.5 L540.0,1205.5 L541.0,1205.5 L542.0,1205.5 L543.0,1205.5 L544.0,1205.6 L545.0,1205.7 L546.0,1205.5 L547.0,1205.4 L548.0,1205.4 L549.0,1205.4 L550.0,1205.4 L551.0,1205.4 L552.0,1205.4 L553.0,1205.4 L554.0,1205.6 L555.0,1205.5 L556.0,1205.4 L557.0,1205.4 L558.0,1205.4 L559.0,1205.4 L560.0,1205.4 L561.0,1205.4 L562.0,1205.4 L563.0,1205.4 L564.0,1205.6 L565.0,1205.4 L566.0,1205.3 L567.0,1205.3 L568.0,1205.3 L569.0,1205.3 L570.0,1205.3 L571.0,1205.3 L572.0,1205.3 L573.0,1205.5 L574.0,1205.5 L575.0,1205.3 L576.0,1205.3 L577.0,1205.3 L578.0,1205.3 L579.0,1205.3 L580.0,1205.3 L581.0,1205.3 L582.0,1205.3 L583.0,1205.5 L584.0,1205.3 L585.0,1205.2 L586.0,1205.2 L587.0,1205.2 L588.0,1205.2 L589.0,1205.2 L590.0,1205.2 L591.0,1205.2 L592.0,1205.3 L593.0,1205.4 L594.0,1205.2 L595.0,1205.1 L596.0,1205.1 L597.0,1205.1 L598.0,1205.1 L599.0,1205.1 L600.0,1205.1 L601.0,1205.2 L602.0,1205.4 L603.0,1205.2 L604.0,1205.1 L605.0,1205.1 L606.0,1205.1 L607.0,1205.1 L608.0,1205.1 L609.0,1205.1 L610.0,1205.1 L611.0,1205.2 L612.0,1205.3 L613.0,1205.0 L614.0,1205.0 L615.0,1205.0 L616.0,1205.0 L617.0,1205.0 L618.0,1205.0 L619.0,1205.0 L620.0,1205.0 L621.0,1205.2 L622.0,1205.1 L623.0,1204.9 L624.0,1204.9 L625.0,1204.9 L626.0,1204.9 L627.0,1204.9 L628.0,1204.9 L629.0,1204.9 L630.0,1205.0 L631.0,1205.3 L632.0,1204.9 L633.0,1204.8 L634.0,1204.8 L635.0,1204.8 L636.0,1204.8 L637.0,1204.8 L638.0,1204.8 L639.0,1204.8 L640.0,1205.0 L641.0,1205.0 L642.0,1204.7 L643.0,1204.7 L644.0,1204.7 L645.0,1204.7 L646.0,1204.7 L647.0,1204.7 L648.0,1204.7 L649.0,1204.7 L650.0,1205.1 L651.0,1204.7 L652.0,1204.5 L653.0,1204.5 L654.0,1204.5 L655.0,1204.5 L656.0,1204.5 L657.0,1204.5 L658.0,1204.5 L659.0,1204.7 L660.0,1204.9 L661.0,1204.4 L662.0,1204.4 L663.0,1204.4 L664.0,1204.4 L665.0,1204.4 L666.0,1204.4 L667.0,1204.4 L668.0,1204.4 L669.0,1204.8 L670.0,1204.5 L671.0,1204.2 L672.0,1204.2 L673.0,1204.2 L674.0,1204.2 L675.0,1204.2 L676.0,1204.2 L677.0,1204.2 L678.0,1204.4 L679.0,1204.7 L680.0,1204.2 L681.0,1204.0 L682.0,1204.0 L683.0,1204.0 L684.0,1204.0 L685.0,1204.0 L686.0,1204.0 L687.0,1204.0 L688.0,1204.4 L689.0,1204.2 L690.0,1203.8 L691.0,1203.8 L692.0,1203.8 L693.0,1203.8 L694.0,1203.8 L695.0,1203.8 L696.0,1203.8 L697.0,1203.9 L698.0,1204.5 L699.0,1203.8 L700.0,1203.6 L701.0,1203.6 L702.0,1203.6 L703.0,1203.6 L704.0,1203.6 L705.0,1203.6 L706.0,1203.6 L707.0,1203.9 L708.0,1203.9 L709.0,1203.3 L710.0,1203.3 L711.0,1203.3 L712.0,1203.3 L713.0,1203.3 L714.0,1203.3 L715.0,1203.3 L716.0,1203.4 L717.0,1204.0 L718.0,1203.3 L719.0,1202.9 L720.0,1202.9 L721.0,1202.9 L722.0,1202.9 L723.0,1202.9 L724.0,1202.9 L725.0,1202.9 L726.0,1203.3 L727.0,1203.5 L728.0,1202.7 L729.0,1202.5 L730.0,1202.5 L731.0,1202.5 L732.0,1202.5 L733.0,1202.5 L734.0,1202.5 L735.0,1202.6 L736.0,1203.3 L737.0,1202.7 L738.0,1202.1 L739.0,1202.1 L740.0,1202.1 L741.0,1202.1 L742.0,1202.1 L743.0,1202.1 L744.0,1202.1 L745.0,1202.4 L746.0,1202.9 L747.0,1201.8 L748.0,1201.5 L749.0,1201.5 L750.0,1201.5 L751.0,1201.5 L752.0,1201.5 L753.0,1201.5 L754.0,1201.5 L755.0,1202.3 L756.0,1201.8 L757.0,1200.9 L758.0,1200.8 L759.0,1200.8 L760.0,1200.8 L761.0,1200.8 L762.0,1200.8 L763.0,1200.8 L764.0,1201.1 L765.0,1202.0 L766.0,1200.5 L767.0,1200.0 L768.0,1200.0 L769.0,1200.0 L770.0,1200.0 L771.0,1200.0 L772.0,1200.0 L773.0,1200.0 L774.0,1200.8 L775.0,1200.4 L776.0,1199.1 L777.0,1198.9 L778.0,1198.9 L779.0,1198.9 L780.0,1198.9 L781.0,1198.9 L782.0,1198.9 L783.0,1199.2 L784.0,1200.7 L785.0,1198.5 L786.0,1197.6 L787.0,1197.6 L788.0,1197.6 L789.0,1197.6 L790.0,1197.6 L791.0,1197.6 L792.0,1197.6 L793.0,1198.6 L794.0,1198.3 L795.0,1196.2 L796.0,1195.9 L797.0,1195.9 L798.0,1195.9 L799.0,1195.9 L800.0,1195.9 L801.0,1195.9 L802.0,1196.2 L803.0,1198.2 L804.0,1195.1 L805.0,1193.6 L806.0,1193.6 L807.0,1193.6 L808.0,1193.6 L809.0,1193.6 L810.0,1193.6 L811.0,1193.6 L812.0,1194.8 L813.0,1194.4 L814.0,1191.1 L815.0,1190.5 L816.0,1190.5 L817.0,1190.5 L818.0,1190.5 L819.0,1190.5 L820.0,1190.5 L821.0,1190.8 L822.0,1193.7 L823.0,1188.7 L824.0,1186.1 L825.0,1186.1 L826.0,1186.1 L827.0,1186.1 L828.0,1186.1 L829.0,1186.1 L830.0,1186.1 L831.0,1187.8 L832.0,1186.3 L833.0,1180.6 L834.0,1179.5 L835.0,1179.5 L836.0,1179.5 L837.0,1179.5 L838.0,1179.5 L839.0,1179.5 L840.0,1180.0 L841.0,1183.9 L842.0,1173.7 L843.0,1169.3 L844.0,1169.2 L845.0,1169.2 L846.0,1169.2 L847.0,1169.2 L848.0,1169.2 L849.0,1169.2 L850.0,1172.5 L851.0,1164.0 L852.0,1153.3 L853.0,1151.7 L854.0,1151.7 L855.0,1151.7 L856.0,1151.7 L857.0,1151.7 L858.0,1151.7 L859.0,1153.1 L860.0,1146.9 L861.0,1125.3 L862.0,1118.6 L863.0,1118.6 L864.0,1118.6 L865.0,1118.6 L866.0,1118.6 L867.0,1118.6 L868.0,1118.7 L869.0,1105.1 L870.0,1062.4 L871.0,1045.1 L872.0,1045.1 L873.0,1045.1 L874.0,1045.1 L875.0,1045.1 L876.0,1045.1 L877.0,1045.1 L878.0,942.8 L879.0,861.1 L880.0,841.5 L881.0,841.5 L882.0,841.5 L883.0,841.5 L884.0,841.5 L885.0,459.8 L886.0,252.4 L887.0,165.2 L888.0,125.9 L889.0,106.4 L890.0,95.9 L891.0,89.9 L892.0,86.2 L893.0,83.9 L894.0,82.5 L895.0,81.7 L896.0,81.3 L897.0,81.3 L898.0,81.3 L899.0,81.3 L900.0,81.3 L901.0,81.3 L902.0,81.3 L903.0,81.3 L904.0,81.7 L905.0,82.5 L906.0,83.9 L907.0,86.2 L908.0,89.9 L909.0,95.9 L910.0,106.4 L911.0,125.9 L912.0,165.2 L913.0,252.4 L914.0,459.8 L915.0,841.5 L916.0,841.5 L917.0,841.5 L918.0,841.5 L919.0,841.5 L920.0,861.1 L921.0,942.8 L922.0,1045.1 L923.0,1045.1 L924.0,1045.1 L925.0,1045.1 L926.0,1045.1 L927.0,1045.1 L928.0,1045.1 L929.0,1062.4 L930.0,1105.1 L931.0,1118.7 L932.0,1118.6 L933.0,1118.6 L934.0,1118.6 L935.0,1118.6 L936.0,1118.6 L937.0,1118.6 L938.0,1125.3 L939.0,1146.9 L940.0,1153.1 L941.0,1151.7 L942.0,1151.7 L943.0,1151.7 L944.0,1151.7 L945.0,1151.7 L946.0,1151.7 L947.0,1153.3 L948.0,1164.0 L949.0,1172.5 L950.0,1169.2 L951.0,1169.2 L952.0,1169.2 L953.0,1169.2 L954.0,1169.2 L955.0,1169.2 L956.0,1169.3 L957.0,1173.7 L958.0,1183.9 L959.0,1180.0 L960.0,1179.5 L961.0,1179.5 L962.0,1179.5 L963.0,1179.5 L964.0,1179.5 L965.0,1179.5 L966.0,1180.6 L967.0,1186.3 L968.0,1187.8 L969.0,1186.1 L970.0,1186.1 L971.0,1186.1 L972.0,1186.1 L973.0,1186.1 L974.0,1186.1 L975.0,1186.1 L976.0,1188.7 L977.0,1193.7 L978.0,1190.8 L979.0,1190.5 L980.0,1190.5 L981.0,1190.5 L982.0,1190.5 L983.0,1190.5 L984.0,1190.5 L985.0,1191.1 L986.0,1194.4 L987.0,1194.8 L988.0,1193.6 L989.0,1193.6 L990.0,1193.6 L991.0,1193.6 L992.0,1193.6 L993.0,1193.6 L994.0,1193.6 L995.0,1195.1 L996.0,1198.2 L997.0,1196.2 L998.0,1195.9 L999.0,1195.9 L1000.0,1195.9 L1001.0,1195.9 L1002.0,1195.9 L1003.0,1195.9 L1004.0,1196.2 L1005.0,1198.3 L1006.0,1198.6 L1007.0,1197.6 L1008.0,1197.6 L1009.0,1197.6 L1010.0,1197.6 L1011.0,1197.6 L1012.0,1197.6 L1013.0,1197.6 L1014.0,1198.5 L1015.0,1200.7 L1016.0,1199.2 L1017.0,1198.9 L1018.0,1198.9 L1019.0,1198.9 L1020.0,1198.9 L1021.0,1198.9 L1022.0,1198.9 L1023.0,1199.1 L1024.0,1200.4 L1025.0,1200.8 L1026.0,1200.0 L1027.0,1200.0 L1028.0,1200.0 L1029.0,1200.0 L1030.0,1200.0 L1031.0,1200.0 L1032.0,1200.0 L1033.0,1200.5 L1034.0,1202.0 L1035.0,1201.1 L1036.0,1200.8 L1037.0,1200.8 L1038.0,1200.8 L1039.0,1200.8 L1040.0,1200.8 L1041.0,1200.8 L1042.0,1200.9 L1043.0,1201.8 L1044.0,1202.3 L1045.0,1201.5 L1046.0,1201.5 L1047.0,1201.5 L1048.0,1201.5 L1049.0,1201.5 L1050.0,1201.5 L1051.0,1201.5 L1052.0,1201.8 L1053.0,1202.9 L1054.0,1202.4 L1055.0,1202.1 L1056.0,1202.1 L1057.0,1202.1 L1058.0,1202.1 L1059.0,1202.1 L1060.0,1202.1 L1061.0,1202.1 L1062.0,1202.7 L1063.0,1203.3 L1064.0,1202.6 L1065.0,1202.5 L1066.0,1202.5 L1067.0,1202.5 L1068.0,1202.5 L1069.0,1202.5 L1070.0,1202.5 L1071.0,1202.7 L1072.0,1203.5 L1073.0,1203.3 L1074.0,1202.9 L1075.0,1202.9 L1076.0,1202.9 L1077.0,1202.9 L1078.0,1202.9 L1079.0,1202.9 L1080.0,1202.9 L1081.0,1203.3 L1082.0,1204.0 L1083.0,1203.4 L1084.0,1203.3 L1085.0,1203.3 L1086.0,1203.3 L1087.0,1203.3 L1088.0,1203.3 L1089.0,1203.3 L1090.0,1203.3 L1091.0,1203.9 L1092.0,1203.9 L1093.0,1203.6 L1094.0,1203.6 L1095.0,1203.6 L1096.0,1203.6 L1097.0,1203.6 L1098.0,1203.6 L1099.0,1203.6 L1100.0,1203.8 L1101.0,1204.5 L1102.0,1203.9 L1103.0,1203.8 L1104.0,1203.8 L1105.0,1203.8 L1106.0,1203.8 L1107.0,1203.8 L1108.0,1203.8 L1109.0,1203.8 L1110.0,1204.2 L1111.0,1204.4 L1112.0,1204.0 L1113.0,1204.0 L1114.0,1204.0 L1115.0,1204.0 L1116.0,1204.0 L1117.0,1204.0 L1118.0,1204.0 L1119.0,1204.2 L1120.0,1204.7 L1121.0,1204.4 L1122.0,1204.2 L1123.0,1204.2 L1124.0,1204.2 L1125.0,1204.2 L1126.0,1204.2 L1127.0,1204.2 L1128.0,1204.2 L1129.0,1204.5 L1130.0,1204.8 L1131.0,1204.4 L1132.0,1204.4 L1133.0,1204.4 L1134.0,1204.4 L1135.0,1204.4 L1136.0,1204.4 L1137.0,1204.4 L1138.0,1204.4 L1139.0,1204.9 L1140.0,1204.7 L1141.0,1204.5 L1142.0,1204.5 L1143.0,1204.5 L1144.0,1204.5 L1145.0,1204.5 L1146.0,1204.5 L1147.0,1204.5 L1148.0,1204.7 L1149.0,1205.1 L1150.0,1204.7 L1151.0,1204.7 L1152.0,1204.7 L1153.0,1204.7 L1154.0,1204.7 L1155.0,1204.7 L1156.0,1204.7 L1157.0,1204.7 L1158.0,1205.0 L1159.0,1205.0 L1160.0,1204.8 L1161.0,1204.8 L1162.0,1204.8 L1163.0,1204.8 L1164.0,1204.8 L1165.0,1204.8 L1166.0,1204.8 L1167.0,1204.9 L1168.0,1205.3 L1169.0,1205.0 L1170.0,1204.9 L1171.0,1204.9 L1172.0,1204.9 L1173.0,1204.9 L1174.0,1204.9 L1175.0,1204.9 L1176.0,1204.9 L1177.0,1205.1 L1178.0,1205.2 L1179.0,1205.0 L1180.0,1205.0 L1181.0,1205.0 L1182.0,1205.0 L1183.0,1205.0 L1184.0,1205.0 L1185.0,1205.0 L1186.0,1205.0 L1187.0,1205.3 L1188.0,1205.2 L1189.0,1205.1 L1190.0,1205.1 L1191.0,1205.1 L1192.0,1205.1 L1193.0,1205.1 L1194.0,1205.1 L1195.0,1205.1 L1196.0,1205.2 L1197.0,1205.4 L1198.0,1205.2 L1199.0,1205.1 L1200.0,1205.1 L1201.0,1205.1 L1202.0,1205.1 L1203.0,1205.1 L1204.0,1205.1 L1205.0,1205.2 L1206.0,1205.4 L1207.0,1205.3 L1208.0,1205.2 L1209.0,1205.2 L1210.0,1205.2 L1211.0,1205.2 L1212.0,1205.2 L1213.0,1205.2 L1214.0,1205.2 L1215.0,1205.3 L1216.0,1205.5 L1217.0,1205.3 L1218.0,1205.3 L1219.0,1205.3 L1220.0,1205.3 L1221.0,1205.3 L1222.0,1205.3 L1223.0,1205.3 L1224.0,1205.3 L1225.0,1205.5 L1226.0,1205.5 L1227.0,1205.3 L1228.0,1205.3 L1229.0,1205.3 L1230.0,1205.3 L1231.0,1205.3 L1232.0,1205.3 L1233.0,1205.3 L1234.0,1205.4 L1235.0,1205.6 L1236.0,1205.4 L1237.0,1205.4 L1238.0,1205.4 L1239.0,1205.4 L1240.0,1205.4 L1241.0,1205.4 L1242.0,1205.4 L1243.0,1205.4 L1244.0,1205.5 L1245.0,1205.6 L1246.0,1205.4 L1247.0,1205.4 L1248.0,1205.4 L1249.0,1205.4 L1250.0,1205.4 L1251.0,1205.4 L1252.0,1205.4 L1253.0,1205.5 L1254.0,1205.7 L1255.0,1205.6 L1256.0,1205.5 L1257.0,1205.5 L1258.0,1205.5 L1259.0,1205.5 L1260.0,1205.5 L1261.0,1205.5 L1262.0,1205.5 L1263.0,1205.6 L1264.0,1205.7 L1265.0,1205.5 L1266.0,1205.5 L1267.0,1205.5 L1268.0,1205.5 L1269.0,1205.5 L1270.0,1205.5 L1271.0,1205.5 L1272.0,1205.5 L1273.0,1205.7 L1274.0,1205.6 L1275.0,1205.6 L1276.0,1205.6 L1277.0,1205.6 L1278.0,1205.6 L1279.0,1205.6 L1280.0,1205.6 L1281.0,1205.6 L1282.0,1205.6 L1283.0,1205.8 L1284.0,1205.6 L1285.0,1205.6 L1286.0,1205.6 L1287.0,1205.6 L1288.0,1205.6 L1289.0,1205.6 L1290.0,1205.6 L1291.0,1205.6 L1292.0,1205.7 L1293.0,1205.7 L1294.0,1205.6 L1295.0,1205.6 L1296.0,1205.6 L1297.0,1205.6 L1298.0,1205.6 L1299.0,1205.6 L1300.0,1205.6 L1301.0,1205.7 L1302.0,1205.8 L1303.0,1205.7 L1304.0,1205.7 L1305.0,1205.7 L1306.0,1205.7 L1307.0,1205.7 L1308.0,1205.7 L1309.0,1205.7 L1310.0,1205.7 L1311.0,1205.8 L1312.0,1205.8 L1313.0,1205.7 L1314.0,1205.7 L1315.0,1205.7 L1316.0,1205.7 L1317.0,1205.7 L1318.0,1205.7 L1319.0,1205.7 L1320.0,1205.7 L1321.0,1205.8 L1322.0,1205.8 L1323.0,1205.7 L1324.0,1205.7 L1325.0,1205.7 L1326.0,1205.7 L1327.0,1205.7 L1328.0,1205.7 L1329.0,1205.7 L1330.0,1205.8 L1331.0,1205.9 L1332.0,1205.8 L1333.0,1205.7 L1334.0,1205.7 L1335.0,1205.7 L1336.0,1205.7 L1337.0,1205.7 L1338.0,1205.7 L1339.0,1205.8 L1340.0,1205.9 L1341.0,1205.8 L1342.0,1205.8 L1343.0,1205.8 L1344.0,1205.8 L1345.0,1205.8 L1346.0,1205.8 L1347.0,1205.8 L1348.0,1205.8 L1349.0,1205.8 L1350.0,1205.9 L1351.0,1205.8 L1352.0,1205.8 L1353.0,1205.8 L1354.0,1205.8 L1355.0,1205.8 L1356.0,1205.8 L1357.0,1205.8 L1358.0,1205.8 L1359.0,1205.9 L1360.0,1205.9 L1361.0,1205.8 L1362.0,1205.8 L1363.0,1205.8 L1364.0,1205.8 L1365.0,1205.8 L1366.0,1205.8 L1367.0,1205.8 L1368.0,1205.8 L1369.0,1205.9 L1370.0,1205.9 L1371.0,1205.8 L1372.0,1205.8 L1373.0,1205.8 L1374.0,1205.8 L1375.0,1205.8 L1376.0,1205.8 L1377.0,1205.8 L1378.0,1205.9 L1379.0,1205.9 L1380.0,1205.9 L1381.0,1205.8 L1382.0,1205.8 L1383.0,1205.8 L1384.0,1205.8 L1385.0,1205.8 L1386.0,1205.8 L1387.0,1205.9 L1388.0,1206.0 L1389.0,1205.9 L1390.0,1205.9 L1391.0,1205.9 L1392.0,1205.9 L1393.0,1205.9 L1394.0,1205.9 L1395.0,1205.9 L1396.0,1205.9 L1397.0,1205.9 L1398.0,1206.0 L1399.0,1205.9 L1400.0,1205.9 L1401.0,1205.9 L1402.0,1205.9 L1403.0,1205.9 L1404.0,1205.9 L1405.0,1205.9 L1406.0,1205.9 L1407.0,1206.0 L1408.0,1206.0 L1409.0,1205.9 L1410.0,1205.9 L1411.0,1205.9 L1412.0,1205.9 L1413.0,1205.9 L1414.0,1205.9 L1415.0,1205.9 L1416.0,1205.9 L1417.0,1206.0 L1418.0,1205.9 L1419.0,1205.9 L1420.0,1205.9 L1421.0,1205.9 L1422.0,1205.9 L1423.0,1205.9 L1424.0,1205.9 L1425.0,1205.9 L1426.0,1206.0 L1427.0,1206.0 L1428.0,1205.9 L1429.0,1205.9 L1430.0,1205.9 L1431.0,1205.9 L1432.0,1205.9 L1433.0,1205.9 L1434.0,1205.9 L1435.0,1205.9 L1436.0,1206.0 L1437.0,1206.0 L1438.0,1205.9 L1439.0,1205.9 L1440.0,1205.9 L1441.0,1205.9 L1442.0,1205.9 L1443.0,1205.9 L1444.0,1205.9 L1445.0,1206.0 L1446.0,1206.0 L1447.0,1206.0 L1448.0,1206.0 L1449.0,1206.0 L1450.0,1206.0 L1451.0,1206.0 L1452.0,1206.0 L1453.0,1206.0 L1454.0,1206.0 L1455.0,1206.0 L1456.0,1206.0 L1457.0,1206.0 L1458.0,1206.0 L1459.0,1206.0 L1460.0,1206.0 L1461.0,1206.0 L1462.0,1206.0 L1463.0,1206.0 L1464.0,1206.0 L1465.0,1206.1 L1466.0,1206.0 L1467.0,1206.0 L1468.0,1206.0 L1469.0,1206.0 L1470.0,1206.0 L1471.0,1206.0 L1472.0,1206.0 L1473.0,1206.0 L1474.0,1206.0 L1475.0,1206.0 L1476.0,1206.0 L1477.0,1206.0 L1478.0,1206.0 L1479.0,1206.0 L1480.0,1206.0 L1481.0,1206.0 L1482.0,1206.0 L1483.0,1206.0 L1484.0,1206.1 L1485.0,1206.0 L1486.0,1206.0 L1487.0,1206.0 L1488.0,1206.0 L1489.0,1206.0 L1490.0,1206.0 L1491.0,1206.0 L1492.0,1206.0 L1493.0,1206.0 L1494.0,1206.1 L1495.0,1206.0 L1496.0,1206.0 L1497.0,1206.0 L1498.0,1206.0 L1499.0,1206.0 L1500.0,1206.0 L1501.0,1206.0 L1502.0,1206.0 L1503.0,1206.1 L1504.0,1206.0 L1505.0,1206.0 L1506.0,1206.0 L1507.0,1206.0 L1508.0,1206.0 L1509.0,1206.0 L1510.0,1206.0 L1511.0,1206.0 L1512.0,1206.0 L1513.0,1206.1 L1514.0,1206.0 L1515.0,1206.0 L1516.0,1206.0 L1517.0,1206.0 L1518.0,1206.0 L1519.0,1206.0 L1520.0,1206.0 L1521.0,1206.0 L1522.0,1206.1 L1523.0,1206.1 L1524.0,1206.0 L1525.0,1206.0 L1526.0,1206.0 L1527.0,1206.0 L1528.0,1206.0 L1529.0,1206.0 L1530.0,1206.0 L1531.0,1206.1 L1532.0,1206.1 L1533.0,1206.1 L1534.0,1206.0 L1535.0,1206.0 L1536.0,1206.0 L1537.0,1206.0 L1538.0,1206.0 L1539.0,1206.0 L1540.0,1206.0 L1541.0,1206.1 L1542.0,1206.1 L1543.0,1206.0 L1544.0,1206.0 L1545.0,1206.0 L1546.0,1206.0 L1547.0,1206.0 L1548.0,1206.0 L1549.0,1206.0 L1550.0,1206.1 L1551.0,1206.1 L1552.0,1206.1 L1553.0,1206.1 L1554.0,1206.1 L1555.0,1206.1 L1556.0,1206.1 L1557.0,1206.1 L1558.0,1206.1 L1559.0,1206.1 L1560.0,1206.1 L1561.0,1206.1 L1562.0,1206.1 L1563.0,1206.1 L1564.0,1206.1 L1565.0,1206.1 L1566.0,1206.1 L1567.0,1206.1 L1568.0,1206.1 L1569.0,1206.1 L1570.0,1206.1 L1571.0,1206.1 L1572.0,1206.1 L1573.0,1206.1 L1574.0,1206.1 L1575.0,1206.1 L1576.0,1206.1 L1577.0,1206.1 L1578.0,1206.1 L1579.0,1206.1 L1580.0,1206.1 L1581.0,1206.1 L1582.0,1206.1 L1583.0,1206.1 L1584.0,1206.1 L1585.0,1206.1 L1586.0,1206.1 L1587.0,1206.1 L1588.0,1206.1 L1589.0,1206.1 L1590.0,1206.1 L1591.0,1206.1 L1592.0,1206.1 L1593.0,1206.1 L1594.0,1206.1 L1595.0,1206.1 L1596.0,1206.1 L1597.0,1206.1 L1598.0,1206.1 L1599.0,1206.1 L1600.0,1206.1 L1601.0,1206.1 L1602.0,1206.1 L1603.0,1206.1 L1604.0,1206.1 L1605.0,1206.1 L1606.0,1206.1 L1607.0,1206.1 L1608.0,1206.1 L1609.0,1206.1 L1610.0,1206.1 L1611.0,1206.1 L1612.0,1206.1 L1613.0,1206.1 L1614.0,1206.1 L1615.0,1206.1 L1616.0,1206.1 L1617.0,1206.1 L1618.0,1206.1 L1619.0,1206.1 L1620.0,1206.1 L1621.0,1206.1 L1622.0,1206.1 L1623.0,1206.1 L1624.0,1206.1 L1625.0,1206.1 L1626.0,1206.1 L1627.0,1206.1 L1628.0,1206.2 L1629.0,1206.1 L1630.0,1206.1 L1631.0,1206.1 L1632.0,1206.1 L1633.0,1206.1 L1634.0,1206.1 L1635.0,1206.1 L1636.0,1206.1 L1637.0,1206.1 L1638.0,1206.1 L1639.0,1206.1 L1640.0,1206.1 L1641.0,1206.1 L1642.0,1206.1 L1643.0,1206.1 L1644.0,1206.1 L1645.0,1206.1 L1646.0,1206.1 L1647.0,1206.2 L1648.0,1206.1 L1649.0,1206.1 L1650.0,1206.1 L1651.0,1206.1 L1652.0,1206.1 L1653.0,1206.1 L1654.0,1206.1 L1655.0,1206.1 L1656.0,1206.1 L1657.0,1206.1 L1658.0,1206.1 L1659.0,1206.1 L1660.0,1206.1 L1661.0,1206.1 L1662.0,1206.1 L1663.0,1206.1 L1664.0,1206.1 L1665.0,1206.1 L1666.0,1206.2 L1667.0,1206.1 L1668.0,1206.1 L1669.0,1206.1 L1670.0,1206.1 L1671.0,1206.1 L1672.0,1206.1 L1673.0,1206.1 L1674.0,1206.1 L1675.0,1206.1 L1676.0,1206.2 L1677.0,1206.1 L1678.0,1206.1 L1679.0,1206.1 L1680.0,1206.1 L1681.0,1206.1 L1682.0,1206.1 L1683.0,1206.1 L1684.0,1206.1 L1685.0,1206.2 L1686.0,1206.1 L1687.0,1206.1 L1688.0,1206.1 L1689.0,1206.1 L1690.0,1206.1 L1691.0,1206.1 L1692.0,1206.1 L1693.0,1206.1 L1694.0,1206.1 L1695.0,1206.2 L1696.0,1206.1 L1697.0,1206.1 L1698.0,1206.1 L1699.0,1206.1 L1700.0,1206.1 L1701.0,1206.1 L1702.0,1206.1 L1703.0,1206.1 L1704.0,1206.2 L1705.0,1206.2 L1705.0,1213.9 L1704.0,1213.9 L1703.0,1213.9 L1702.0,1213.9 L1701.0,1213.9 L1700.0,1213.9 L1699.0,1213.9 L1698.0,1213.9 L1697.0,1213.9 L1696.0,1213.9 L1695.0,1213.9 L1694.0,1213.9 L1693.0,1213.9 L1692.0,1213.9 L1691.0,1213.9 L1690.0,1213.9 L1689.0,1213.9 L1688.0,1213.9 L1687.0,1213.9 L1686.0,1213.9 L1685.0,1213.9 L1684.0,1213.9 L1683.0,1213.9 L1682.0,1213.9 L1681.0,1213.9 L1680.0,1213.9 L1679.0,1213.9 L1678.0,1213.9 L1677.0,1213.9 L1676.0,1213.9 L1675.0,1213.9 L1674.0,1213.9 L1673.0,1213.9 L1672.0,1213.9 L1671.0,1213.9 L1670.0,1213.9 L1669.0,1213.9 L1668.0,1213.9 L1667.0,1213.9 L1666.0,1213.9 L1665.0,1213.9 L1664.0,1213.9 L1663.0,1213.9 L1662.0,1213.9 L1661.0,1213.9 L1660.0,1213.9 L1659.0,1213.9 L1658.0,1213.9 L1657.0,1213.9 L1656.0,1213.9 L1655.0,1213.9 L1654.0,1213.9 L1653.0,1213.9 L1652.0,1213.9 L1651.0,1213.9 L1650.0,1213.9 L1649.0,1213.9 L1648.0,1213.9 L1647.0,1213.9 L1646.0,1213.9 L1645.0,1213.9 L1644.0,1213.9 L1643.0,1213.9 L1642.0,1213.9 L1641.0,1213.9 L1640.0,1213.9 L1639.0,1213.9 L1638.0,1213.9 L1637.0,1213.9 L1636.0,1213.9 L1635.0,1213.9 L1634.0,1213.9 L1633.0,1213.9 L1632.0,1213.9 L1631.0,1213.9 L1630.0,1213.9 L1629.0,1213.9 L1628.0,1213.9 L1627.0,1213.9 L1626.0,1213.9 L1625.0,1213.9 L1624.0,1213.9 L1623.0,1213.9 L1622.0,1213.9 L1621.0,1213.9 L1620.0,1213.9 L1619.0,1213.9 L1618.0,1213.9 L1617.0,1213.9 L1616.0,1213.9 L1615.0,1213.9 L1614.0,1213.9 L1613.0,1213.9 L1612.0,1213.9 L1611.0,1213.9 L1610.0,1213.9 L1609.0,1213.9 L1608.0,1213.9 L1607.0,1213.9 L1606.0,1213.9 L1605.0,1213.9 L1604.0,1213.9 L1603.0,1213.9 L1602.0,1213.9 L1601.0,1213.9 L1600.0,1213.9 L1599.0,1213.9 L1598.0,1213.9 L1597.0,1213.9 L1596.0,1213.9 L1595.0,1213.9 L1594.0,1213.9 L1593.0,1213.9 L1592.0,1213.9 L1591.0,1213.9 L1590.0,1213.9 L1589.0,1213.9 L1588.0,1213.9 L1587.0,1213.9 L1586.0,1213.9 L1585.0,1213.9 L1584.0,1213.9 L1583.0,1213.9 L1582.0,1213.9 L1581.0,1213.9 L1580.0,1213.9 L1579.0,1213.9 L1578.0,1213.9 L1577.0,1213.9 L1576.0,1213.9 L1575.0,1213.9 L1574.0,1213.9 L1573.0,1213.9 L1572.0,1213.9 L1571.0,1213.9 L1570.0,1213.9 L1569.0,1213.9 L1568.0,1213.9 L1567.0,1213.9 L1566.0,1213.9 L1565.0,1213.9 L1564.0,1213.9 L1563.0,1213.9 L1562.0,1213.9 L1561.0,1213.9 L1560.0,1213.9 L1559.0,1213.9 L1558.0,1213.9 L1557.0,1213.9 L1556.0,1213.9 L1555.0,1213.9 L1554.0,1213.9 L1553.0,1213.9 L1552.0,1213.9 L1551.0,1213.9 L1550.0,1213.9 L1549.0,1213.9 L1548.0,1213.9 L1547.0,1213.9 L1546.0,1213.9 L1545.0,1213.9 L1544.0,1213.9 L1543.0,1213.9 L1542.0,1213.9 L1541.0,1213.9 L1540.0,1213.9 L1539.0,1213.9 L1538.0,1213.9 L1537.0,1213.9 L1536.0,1213.9 L1535.0,1213.9 L1534.0,1213.9 L1533.0,1213.9 L1532.0,1213.9 L1531.0,1213.9 L1530.0,1213.9 L1529.0,1213.9 L1528.0,1213.9 L1527.0,1213.9 L1526.0,1213.9 L1525.0,1213.9 L1524.0,1213.9 L1523.0,1213.9 L1522.0,1213.9 L1521.0,1213.9 L1520.0,1213.9 L1519.0,1213.9 L1518.0,1213.9 L1517.0,1213.9 L1516.0,1213.9 L1515.0,1213.9 L1514.0,1213.9 L1513.0,1213.9 L1512.0,1213.9 L1511.0,1213.9 L1510.0,1213.9 L1509.0,1213.9 L1508.0,1213.9 L1507.0,1213.9 L1506.0,1213.9 L1505.0,1213.9 L1504.0,1213.9 L1503.0,1213.9 L1502.0,1213.9 L1501.0,1213.9 L1500.0,1213.9 L1499.0,1213.9 L1498.0,1213.9 L1497.0,1213.9 L1496.0,1213.9 L1495.0,1213.9 L1494.0,1213.9 L1493.0,1213.9 L1492.0,1213.9 L1491.0,1213.9 L1490.0,1213.9 L1489.0,1213.9 L1488.0,1213.9 L1487.0,1213.9 L1486.0,1213.9 L1485.0,1213.9 L1484.0,1213.9 L1483.0,1213.9 L1482.0,1213.9 L1481.0,1213.9 L1480.0,1213.9 L1479.0,1213.9 L1478.0,1213.9 L1477.0,1213.9 L1476.0,1213.9 L1475.0,1213.9 L1474.0,1213.9 L1473.0,1213.9 L1472.0,1213.9 L1471.0,1213.9 L1470.0,1213.9 L1469.0,1213.9 L1468.0,1213.9 L1467.0,1213.9 L1466.0,1213.9 L1465.0,1213.9 L1464.0,1213.9 L1463.0,1213.9 L1462.0,1213.9 L1461.0,1213.9 L1460.0,1213.9 L1459.0,1213.9 L1458.0,1213.9 L1457.0,1213.9 L1456.0,1213.9 L1455.0,1213.9 L1454.0,1213.9 L1453.0,1213.9 L1452.0,1213.9 L1451.0,1213.9 L1450.0,1213.9 L1449.0,1213.9 L1448.0,1213.9 L1447.0,1213.9 L1446.0,1213.9 L1445.0,1213.9 L1444.0,1213.9 L1443.0,1213.9 L1442.0,1213.9 L1441.0,1213.9 L1440.0,1213.9 L1439.0,1213.9 L1438.0,1213.9 L1437.0,1213.9 L1436.0,1213.9 L1435.0,1213.9 L1434.0,1213.9 L1433.0,1213.9 L1432.0,1213.9 L1431.0,1213.9 L1430.0,1213.9 L1429.0,1213.9 L1428.0,1213.9 L1427.0,1213.9 L1426.0,1213.9 L1425.0,1213.9 L1424.0,1213.9 L1423.0,1213.9 L1422.0,1213.9 L1421.0,1213.9 L1420.0,1213.9 L1419.0,1213.9 L1418.0,1213.9 L1417.0,1213.9 L1416.0,1213.9 L1415.0,1213.9 L1414.0,1213.9 L1413.0,1213.9 L1412.0,1213.9 L1411.0,1213.9 L1410.0,1213.9 L1409.0,1213.9 L1408.0,1213.9 L1407.0,1213.9 L1406.0,1213.9 L1405.0,1213.9 L1404.0,1213.9 L1403.0,1213.9 L1402.0,1213.9 L1401.0,1213.9 L1400.0,1213.9 L1399.0,1213.9 L1398.0,1213.9 L1397.0,1213.9 L1396.0,1213.9 L1395.0,1213.9 L1394.0,1213.9 L1393.0,1213.9 L1392.0,1213.9 L1391.0,1213.9 L1390.0,1213.9 L1389.0,1213.9 L1388.0,1213.9 L1387.0,1213.9 L1386.0,1213.9 L1385.0,1213.9 L1384.0,1213.9 L1383.0,1213.9 L1382.0,1213.9 L1381.0,1213.9 L1380.0,1213.9 L1379.0,1213.9 L1378.0,1213.9 L1377.0,1213.9 L1376.0,1213.9 L1375.0,1213.9 L1374.0,1213.9 L1373.0,1213.9 L1372.0,1213.9 L1371.0,1213.9 L1370.0,1213.9 L1369.0,1213.9 L1368.0,1213.9 L1367.0,1213.9 L1366.0,1213.9 L1365.0,1213.9 L1364.0,1213.9 L1363.0,1213.9 L1362.0,1213.9 L1361.0,1213.9 L1360.0,1213.9 L1359.0,1213.9 L1358.0,1213.9 L1357.0,1213.9 L1356.0,1213.9 L1355.0,1213.9 L1354.0,1213.9 L1353.0,1213.9 L1352.0,1213.9 L1351.0,1213.9 L1350.0,1213.9 L1349.0,1213.9 L1348.0,1213.9 L1347.0,1213.9 L1346.0,1213.9 L1345.0,1213.9 L1344.0,1213.9 L1343.0,1213.9 L1342.0,1213.9 L1341.0,1213.9 L1340.0,1213.9 L1339.0,1213.9 L1338.0,1213.9 L1337.0,1213.9 L1336.0,1213.9 L1335.0,1213.9 L1334.0,1213.9 L1333.0,1213.9 L1332.0,1213.9 L1331.0,1213.9 L1330.0,1213.9 L1329.0,1213.9 L1328.0,1213.9 L1327.0,1213.9 L1326.0,1213.9 L1325.0,1213.9 L1324.0,1213.9 L1323.0,1213.9 L1322.0,1213.9 L1321.0,1213.9 L1320.0,1213.9 L1319.0,1213.9 L1318.0,1213.9 L1317.0,1213.9 L1316.0,1213.9 L1315.0,1213.9 L1314.0,1213.9 L1313.0,1213.9 L1312.0,1213.9 L1311.0,1213.9 L1310.0,1213.9 L1309.0,1213.9 L1308.0,1213.9 L1307.0,1213.9 L1306.0,1213.9 L1305.0,1213.9 L1304.0,1213.9 L1303.0,1213.9 L1302.0,1213.9 L1301.0,1213.9 L1300.0,1213.9 L1299.0,1213.9 L1298.0,1213.9 L1297.0,1213.9 L1296.0,1213.9 L1295.0,1213.9 L1294.0,1213.9 L1293.0,1213.9 L1292.0,1213.9 L1291.0,1213.9 L1290.0,1213.9 L1289.0,1213.9 L1288.0,1213.9 L1287.0,1213.9 L1286.0,1213.9 L1285.0,1213.9 L1284.0,1213.9 L1283.0,1213.9 L1282.0,1213.9 L1281.0,1213.9 L1280.0,1213.9 L1279.0,1213.9 L1278.0,1213.9 L1277.0,1213.9 L1276.0,1213.9 L1275.0,1213.9 L1274.0,1213.9 L1273.0,1213.9 L1272.0,1213.9 L1271.0,1213.9 L1270.0,1213.9 L1269.0,1213.9 L1268.0,1213.9 L1267.0,1213.9 L1266.0,1213.9 L1265.0,1213.9 L1264.0,1213.9 L1263.0,1213.9 L1262.0,1213.9 L1261.0,1213.9 L1260.0,1213.9 L1259.0,1213.9 L1258.0,1213.9 L1257.0,1213.9 L1256.0,1213.9 L1255.0,1213.9 L1254.0,1213.9 L1253.0,1213.9 L1252.0,1213.9 L1251.0,1213.9 L1250.0,1213.9 L1249.0,1213.9 L1248.0,1213.9 L1247.0,1213.9 L1246.0,1213.9 L1245.0,1213.9 L1244.0,1213.9 L1243.0,1213.9 L1242.0,1213.9 L1241.0,1213.9 L1240.0,1213.9 L1239.0,1213.9 L1238.0,1213.9 L1237.0,1213.9 L1236.0,1213.9 L1235.0,1213.9 L1234.0,1213.9 L1233.0,1213.9 L1232.0,1213.9 L1231.0,1213.9 L1230.0,1213.9 L1229.0,1213.9 L1228.0,1213.9 L1227.0,1213.9 L1226.0,1213.9 L1225.0,1213.9 L1224.0,1213.9 L1223.0,1213.9 L1222.0,1213.9 L1221.0,1213.9 L1220.0,1213.9 L1219.0,1213.9 L1218.0,1213.9 L1217.0,1213.9 L1216.0,1213.9 L1215.0,1213.9 L1214.0,1213.9 L1213.0,1213.9 L1212.0,1213.9 L1211.0,1213.9 L1210.0,1213.9 L1209.0,1213.9 L1208.0,1213.9 L1207.0,1213.9 L1206.0,1213.9 L1205.0,1213.9 L1204.0,1213.9 L1203.0,1213.9 L1202.0,1213.9 L1201.0,1213.9 L1200.0,1213.9 L1199.0,1213.9 L1198.0,1213.9 L1197.0,1213.9 L1196.0,1213.9 L1195.0,1213.9 L1194.0,1213.9 L1193.0,1213.9 L1192.0,1213.9 L1191.0,1213.9 L1190.0,1213.9 L1189.0,1213.9 L1188.0,1213.9 L1187.0,1213.9 L1186.0,1213.9 L1185.0,1213.9 L1184.0,1213.9 L1183.0,1213.9 L1182.0,1213.9 L1181.0,1213.9 L1180.0,1213.9 L1179.0,1213.9 L1178.0,1213.9 L1177.0,1213.9 L1176.0,1213.9 L1175.0,1213.9 L1174.0,1213.9 L1173.0,1213.9 L1172.0,1213.9 L1171.0,1213.9 L1170.0,1213.9 L1169.0,1213.9 L1168.0,1213.9 L1167.0,1213.9 L1166.0,1213.9 L1165.0,1213.9 L1164.0,1213.9 L1163.0,1213.9 L1162.0,1213.9 L1161.0,1213.9 L1160.0,1213.9 L1159.0,1213.9 L1158.0,1213.9 L1157.0,1213.9 L1156.0,1213.9 L1155.0,1213.9 L1154.0,1213.9 L1153.0,1213.9 L1152.0,1213.9 L1151.0,1213.9 L1150.0,1213.9 L1149.0,1213.9 L1148.0,1213.9 L1147.0,1213.9 L1146.0,1213.9 L1145.0,1213.9 L1144.0,1213.9 L1143.0,1213.9 L1142.0,1213.9 L1141.0,1213.9 L1140.0,1213.9 L1139.0,1213.9 L1138.0,1213.9 L1137.0,1213.9 L1136.0,1213.9 L1135.0,1213.9 L1134.0,1213.9 L1133.0,1213.9 L1132.0,1213.9 L1131.0,1213.9 L1130.0,1213.9 L1129.0,1213.9 L1128.0,1213.9 L1127.0,1213.9 L1126.0,1213.9 L1125.0,1213.9 L1124.0,1213.9 L1123.0,1213.9 L1122.0,1213.9 L1121.0,1213.9 L1120.0,1213.9 L1119.0,1213.9 L1118.0,1213.9 L1117.0,1213.9 L1116.0,1213.9 L1115.0,1213.9 L1114.0,1213.9 L1113.0,1213.9 L1112.0,1213.9 L1111.0,1213.9 L1110.0,1213.9 L1109.0,1213.9 L1108.0,1213.9 L1107.0,1213.9 L1106.0,1213.9 L1105.0,1213.9 L1104.0,1213.9 L1103.0,1213.9 L1102.0,1213.9 L1101.0,1213.9 L1100.0,1213.9 L1099.0,1213.9 L1098.0,1213.9 L1097.0,1213.9 L1096.0,1213.9 L1095.0,1213.9 L1094.0,1213.9 L1093.0,1213.9 L1092.0,1213.9 L1091.0,1213.9 L1090.0,1213.9 L1089.0,1213.9 L1088.0,1213.9 L1087.0,1213.9 L1086.0,1213.9 L1085.0,1213.9 L1084.0,1213.9 L1083.0,1213.9 L1082.0,1213.9 L1081.0,1213.9 L1080.0,1213.9 L1079.0,1213.9 L1078.0,1213.9 L1077.0,1213.9 L1076.0,1213.9 L1075.0,1213.9 L1074.0,1213.9 L1073.0,1213.9 L1072.0,1213.9 L1071.0,1213.9 L1070.0,1213.9 L1069.0,1213.9 L1068.0,1213.9 L1067.0,1213.9 L1066.0,1213.9 L1065.0,1213.9 L1064.0,1213.9 L1063.0,1213.9 L1062.0,1213.9 L1061.0,1213.9 L1060.0,1213.9 L1059.0,1213.9 L1058.0,1213.9 L1057.0,1213.9 L1056.0,1213.9 L1055.0,1213.9 L1054.0,1213.9 L1053.0,1213.9 L1052.0,1213.9 L1051.0,1213.9 L1050.0,1213.9 L1049.0,1213.9 L1048.0,1213.9 L1047.0,1213.9 L1046.0,1213.9 L1045.0,1213.9 L1044.0,1213.9 L1043.0,1213.9 L1042.0,1213.9 L1041.0,1213.9 L1040.0,1213.9 L1039.0,1213.9 L1038.0,1213.9 L1037.0,1213.9 L1036.0,1213.9 L1035.0,1213.9 L1034.0,1213.9 L1033.0,1213.9 L1032.0,1213.9 L1031.0,1213.9 L1030.0,1213.9 L1029.0,1213.9 L1028.0,1213.9 L1027.0,1213.9 L1026.0,1213.9 L1025.0,1213.9 L1024.0,1213.9 L1023.0,1213.9 L1022.0,1213.9 L1021.0,1213.9 L1020.0,1213.9 L1019.0,1213.9 L1018.0,1213.9 L1017.0,1213.9 L1016.0,1213.9 L1015.0,1213.9 L1014.0,1213.9 L1013.0,1213.9 L1012.0,1213.9 L1011.0,1213.9 L1010.0,1213.9 L1009.0,1213.9 L1008.0,1213.9 L1007.0,1213.9 L1006.0,1213.9 L1005.0,1213.9 L1004.0,1213.9 L1003.0,1213.9 L1002.0,1213.9 L1001.0,1213.9 L1000.0,1213.9 L999.0,1213.9 L998.0,1213.9 L997.0,1213.9 L996.0,1213.9 L995.0,1213.9 L994.0,1213.9 L993.0,1213.9 L992.0,1213.9 L991.0,1213.9 L990.0,1213.9 L989.0,1213.9 L988.0,1213.9 L987.0,1213.9 L986.0,1213.9 L985.0,1213.9 L984.0,1213.9 L983.0,1213.9 L982.0,1213.9 L981.0,1213.9 L980.0,1213.9 L979.0,1213.9 L978.0,1213.9 L977.0,1213.9 L976.0,1213.9 L975.0,1213.9 L974.0,1213.9 L973.0,1213.9 L972.0,1213.9 L971.0,1213.9 L970.0,1213.9 L969.0,1213.9 L968.0,1213.9 L967.0,1213.9 L966.0,1213.9 L965.0,1213.9 L964.0,1213.9 L963.0,1213.9 L962.0,1213.9 L961.0,1213.9 L960.0,1213.9 L959.0,1213.9 L958.0,1213.9 L957.0,1213.9 L956.0,1213.9 L955.0,1213.9 L954.0,1213.9 L953.0,1213.9 L952.0,1213.9 L951.0,1213.9 L950.0,1213.9 L949.0,1213.9 L948.0,1213.9 L947.0,1213.9 L946.0,1213.9 L945.0,1213.9 L944.0,1213.9 L943.0,1213.9 L942.0,1213.9 L941.0,1213.9 L940.0,1213.9 L939.0,1213.9 L938.0,1213.9 L937.0,1213.9 L936.0,1213.9 L935.0,1213.9 L934.0,1213.9 L933.0,1213.9 L932.0,1213.9 L931.0,1213.9 L930.0,1213.9 L929.0,1213.9 L928.0,1213.9 L927.0,1213.9 L926.0,1213.9 L925.0,1213.9 L924.0,1213.9 L923.0,1213.9 L922.0,1213.9 L921.0,1213.9 L920.0,1213.9 L919.0,1213.9 L918.0,1213.9 L917.0,1213.9 L916.0,1213.9 L915.0,1213.9 L914.0,1213.9 L913.0,1213.8 L912.0,1213.8 L911.0,1213.8 L910.0,1210.3 L909.0,886.3 L908.0,465.8 L907.0,258.4 L906.0,171.2 L905.0,131.9 L904.0,112.4 L903.0,101.9 L902.0,95.9 L901.0,92.2 L900.0,89.9 L899.0,89.9 L898.0,92.2 L897.0,95.9 L896.0,101.9 L895.0,112.4 L894.0,131.9 L893.0,171.2 L892.0,258.4 L891.0,465.8 L890.0,886.3 L889.0,1210.3 L888.0,1213.8 L887.0,1213.8 L886.0,1213.8 L885.0,1213.9 L884.0,1213.9 L883.0,1213.9 L882.0,1213.9 L881.0,1213.9 L880.0,1213.9 L879.0,1213.9 L878.0,1213.9 L877.0,1213.9 L876.0,1213.9 L875.0,1213.9 L874.0,1213.9 L873.0,1213.9 L872.0,1213.9 L871.0,1213.9 L870.0,1213.9 L869.0,1213.9 L868.0,1213.9 L867.0,1213.9 L866.0,1213.9 L865.0,1213.9 L864.0,1213.9 L863.0,1213.9 L862.0,1213.9 L861.0,1213.9 L860.0,1213.9 L859.0,1213.9 L858.0,1213.9 L857.0,1213.9 L856.0,1213.9 L855.0,1213.9 L854.0,1213.9 L853.0,1213.9 L852.0,1213.9 L851.0,1213.9 L850.0,1213.9 L849.0,1213.9 L848.0,1213.9 L847.0,1213.9 L846.0,1213.9 L845.0,1213.9 L844.0,1213.9 L843.0,1213.9 L842.0,1213.9 L841.0,1213.9 L840.0,1213.9 L839.0,1213.9 L838.0,1213.9 L837.0,1213.9 L836.0,1213.9 L835.0,1213.9 L834.0,1213.9 L833.0,1213.9 L832.0,1213.9 L831.0,1213.9 L830.0,1213.9 L829.0,1213.9 L828.0,1213.9 L827.0,1213.9 L826.0,1213.9 L825.0,1213.9 L824.0,1213.9 L823.0,1213.9 L822.0,1213.9 L821.0,1213.9 L820.0,1213.9 L819.0,1213.9 L818.0,1213.9 L817.0,1213.9 L816.0,1213.9 L815.0,1213.9 L814.0,1213.9 L813.0,1213.9 L812.0,1213.9 L811.0,1213.9 L810.0,1213.9 L809.0,1213.9 L808.0,1213.9 L807.0,1213.9 L806.0,1213.9 L805.0,1213.9 L804.0,1213.9 L803.0,1213.9 L802.0,1213.9 L801.0,1213.9 L800.0,1213.9 L799.0,1213.9 L798.0,1213.9 L797.0,1213.9 L796.0,1213.9 L795.0,1213.9 L794.0,1213.9 L793.0,1213.9 L792.0,1213.9 L791.0,1213.9 L790.0,1213.9 L789.0,1213.9 L788.0,1213.9 L787.0,1213.9 L786.0,1213.9 L785.0,1213.9 L784.0,1213.9 L783.0,1213.9 L782.0,1213.9 L781.0,1213.9 L780.0,1213.9 L779.0,1213.9 L778.0,1213.9 L777.0,1213.9 L776.0,1213.9 L775.0,1213.9 L774.0,1213.9 L773.0,1213.9 L772.0,1213.9 L771.0,1213.9 L770.0,1213.9 L769.0,1213.9 L768.0,1213.9 L767.0,1213.9 L766.0,1213.9 L765.0,1213.9 L764.0,1213.9 L763.0,1213.9 L762.0,1213.9 L761.0,1213.9 L760.0,1213.9 L759.0,1213.9 L758.0,1213.9 L757.0,1213.9 L756.0,1213.9 L755.0,1213.9 L754.0,1213.9 L753.0,1213.9 L752.0,1213.9 L751.0,1213.9 L750.0,1213.9 L749.0,1213.9 L748.0,1213.9 L747.0,1213.9 L746.0,1213.9 L745.0,1213.9 L744.0,1213.9 L743.0,1213.9 L742.0,1213.9 L741.0,1213.9 L740.0,1213.9 L739.0,1213.9 L738.0,1213.9 L737.0,1213.9 L736.0,1213.9 L735.0,1213.9 L734.0,1213.9 L733.0,1213.9 L732.0,1213.9 L731.0,1213.9 L730.0,1213.9 L729.0,1213.9 L728.0,1213.9 L727.0,1213.9 L726.0,1213.9 L725.0,1213.9 L724.0,1213.9 L723.0,1213.9 L722.0,1213.9 L721.0,1213.9 L720.0,1213.9 L719.0,1213.9 L718.0,1213.9 L717.0,1213.9 L716.0,1213.9 L715.0,1213.9 L714.0,1213.9 L713.0,1213.9 L712.0,1213.9 L711.0,1213.9 L710.0,1213.9 L709.0,1213.9 L708.0,1213.9 L707.0,1213.9 L706.0,1213.9 L705.0,1213.9 L704.0,1213.9 L703.0,1213.9 L702.0,1213.9 L701.0,1213.9 L700.0,1213.9 L699.0,1213.9 L698.0,1213.9 L697.0,1213.9 L696.0,1213.9 L695.0,1213.9 L694.0,1213.9 L693.0,1213.9 L692.0,1213.9 L691.0,1213.9 L690.0,1213.9 L689.0,1213.9 L688.0,1213.9 L687.0,1213.9 L686.0,1213.9 L685.0,1213.9 L684.0,1213.9 L683.0,1213.9 L682.0,1213.9 L681.0,1213.9 L680.0,1213.9 L679.0,1213.9 L678.0,1213.9 L677.0,1213.9 L676.0,1213.9 L675.0,1213.9 L674.0,1213.9 L673.0,1213.9 L672.0,1213.9 L671.0,1213.9 L670.0,1213.9 L669.0,1213.9 L668.0,1213.9 L667.0,1213.9 L666.0,1213.9 L665.0,1213.9 L664.0,1213.9 L663.0,1213.9 L662.0,1213.9 L661.0,1213.9 L660.0,1213.9 L659.0,1213.9 L658.0,1213.9 L657.0,1213.9 L656.0,1213.9 L655.0,1213.9 L654.0,1213.9 L653.0,1213.9 L652.0,1213.9 L651.0,1213.9 L650.0,1213.9 L649.0,1213.9 L648.0,1213.9 L647.0,1213.9 L646.0,1213.9 L645.0,1213.9 L644.0,1213.9 L643.0,1213.9 L642.0,1213.9 L641.0,1213.9 L640.0,1213.9 L639.0,1213.9 L638.0,1213.9 L637.0,1213.9 L636.0,1213.9 L635.0,1213.9 L634.0,1213.9 L633.0,1213.9 L632.0,1213.9 L631.0,1213.9 L630.0,1213.9 L629.0,1213.9 L628.0,1213.9 L627.0,1213.9 L626.0,1213.9 L625.0,1213.9 L624.0,1213.9 L623.0,1213.9 L622.0,1213.9 L621.0,1213.9 L620.0,1213.9 L619.0,1213.9 L618.0,1213.9 L617.0,1213.9 L616.0,1213.9 L615.0,1213.9 L614.0,1213.9 L613.0,1213.9 L612.0,1213.9 L611.0,1213.9 L610.0,1213.9 L609.0,1213.9 L608.0,1213.9 L607.0,1213.9 L606.0,1213.9 L605.0,1213.9 L604.0,1213.9 L603.0,1213.9 L602.0,1213.9 L601.0,1213.9 L600.0,1213.9 L599.0,1213.9 L598.0,1213.9 L597.0,1213.9 L596.0,1213.9 L595.0,1213.9 L594.0,1213.9 L593.0,1213.9 L592.0,1213.9 L591.0,1213.9 L590.0,1213.9 L589.0,1213.9 L588.0,1213.9 L587.0,1213.9 L586.0,1213.9 L585.0,1213.9 L584.0,1213.9 L583.0,1213.9 L582.0,1213.9 L581.0,1213.9 L580.0,1213.9 L579.0,1213.9 L578.0,1213.9 L577.0,1213.9 L576.0,1213.9 L575.0,1213.9 L574.0,1213.9 L573.0,1213.9 L572.0,1213.9 L571.0,1213.9 L570.0,1213.9 L569.0,1213.9 L568.0,1213.9 L567.0,1213.9 L566.0,1213.9 L565.0,1213.9 L564.0,1213.9 L563.0,1213.9 L562.0,1213.9 L561.0,1213.9 L560.0,1213.9 L559.0,1213.9 L558.0,1213.9 L557.0,1213.9 L556.0,1213.9 L555.0,1213.9 L554.0,1213.9 L553.0,1213.9 L552.0,1213.9 L551.0,1213.9 L550.0,1213.9 L549.0,1213.9 L548.0,1213.9 L547.0,1213.9 L546.0,1213.9 L545.0,1213.9 L544.0,1213.9 L543.0,1213.9 L542.0,1213.9 L541.0,1213.9 L540.0,1213.9 L539.0,1213.9 L538.0,1213.9 L537.0,1213.9 L536.0,1213.9 L535.0,1213.9 L534.0,1213.9 L533.0,1213.9 L532.0,1213.9 L531.0,1213.9 L530.0,1213.9 L529.0,1213.9 L528.0,1213.9 L527.0,1213.9 L526.0,1213.9 L525.0,1213.9 L524.0,1213.9 L523.0,1213.9 L522.0,1213.9 L521.0,1213.9 L520.0,1213.9 L519.0,1213.9 L518.0,1213.9 L517.0,1213.9 L516.0,1213.9 L515.0,1213.9 L514.0,1213.9 L513.0,1213.9 L512.0,1213.9 L511.0,1213.9 L510.0,1213.9 L509.0,1213.9 L508.0,1213.9 L507.0,1213.9 L506.0,1213.9 L505.0,1213.9 L504.0,1213.9 L503.0,1213.9 L502.0,1213.9 L501.0,1213.9 L500.0,1213.9 L499.0,1213.9 L498.0,1213.9 L497.0,1213.9 L496.0,1213.9 L495.0,1213.9 L494.0,1213.9 L493.0,1213.9 L492.0,1213.9 L491.0,1213.9 L490.0,1213.9 L489.0,1213.9 L488.0,1213.9 L487.0,1213.9 L486.0,1213.9 L485.0,1213.9 L484.0,1213.9 L483.0,1213.9 L482.0,1213.9 L481.0,1213.9 L480.0,1213.9 L479.0,1213.9 L478.0,1213.9 L477.0,1213.9 L476.0,1213.9 L475.0,1213.9 L474.0,1213.9 L473.0,1213.9 L472.0,1213.9 L471.0,1213.9 L470.0,1213.9 L469.0,1213.9 L468.0,1213.9 L467.0,1213.9 L466.0,1213.9 L465.0,1213.9 L464.0,1213.9 L463.0,1213.9 L462.0,1213.9 L461.0,1213.9 L460.0,1213.9 L459.0,1213.9 L458.0,1213.9 L457.0,1213.9 L456.0,1213.9 L455.0,1213.9 L454.0,1213.9 L453.0,1213.9 L452.0,1213.9 L451.0,1213.9 L450.0,1213.9 L449.0,1213.9 L448.0,1213.9 L447.0,1213.9 L446.0,1213.9 L445.0,1213.9 L444.0,1213.9 L443.0,1213.9 L442.0,1213.9 L441.0,1213.9 L440.0,1213.9 L439.0,1213.9 L438.0,1213.9 L437.0,1213.9 L436.0,1213.9 L435.0,1213.9 L434.0,1213.9 L433.0,1213.9 L432.0,1213.9 L431.0,1213.9 L430.0,1213.9 L429.0,1213.9 L428.0,1213.9 L427.0,1213.9 L426.0,1213.9 L425.0,1213.9 L424.0,1213.9 L423.0,1213.9 L422.0,1213.9 L421.0,1213.9 L420.0,1213.9 L419.0,1213.9 L418.0,1213.9 L417.0,1213.9 L416.0,1213.9 L415.0,1213.9 L414.0,1213.9 L413.0,1213.9 L412.0,1213.9 L411.0,1213.9 L410.0,1213.9 L409.0,1213.9 L408.0,1213.9 L407.0,1213.9 L406.0,1213.9 L405.0,1213.9 L404.0,1213.9 L403.0,1213.9 L402.0,1213.9 L401.0,1213.9 L400.0,1213.9 L399.0,1213.9 L398.0,1213.9 L397.0,1213.9 L396.0,1213.9 L395.0,1213.9 L394.0,1213.9 L393.0,1213.9 L392.0,1213.9 L391.0,1213.9 L390.0,1213.9 L389.0,1213.9 L388.0,1213.9 L387.0,1213.9 L386.0,1213.9 L385.0,1213.9 L384.0,1213.9 L383.0,1213.9 L382.0,1213.9 L381.0,1213.9 L380.0,1213.9 L379.0,1213.9 L378.0,1213.9 L377.0,1213.9 L376.0,1213.9 L375.0,1213.9 L374.0,1213.9 L373.0,1213.9 L372.0,1213.9 L371.0,1213.9 L370.0,1213.9 L369.0,1213.9 L368.0,1213.9 L367.0,1213.9 L366.0,1213.9 L365.0,1213.9 L364.0,1213.9 L363.0,1213.9 L362.0,1213.9 L361.0,1213.9 L360.0,1213.9 L359.0,1213.9 L358.0,1213.9 L357.0,1213.9 L356.0,1213.9 L355.0,1213.9 L354.0,1213.9 L353.0,1213.9 L352.0,1213.9 L351.0,1213.9 L350.0,1213.9 L349.0,1213.9 L348.0,1213.9 L347.0,1213.9 L346.0,1213.9 L345.0,1213.9 L344.0,1213.9 L343.0,1213.9 L342.0,1213.9 L341.0,1213.9 L340.0,1213.9 L339.0,1213.9 L338.0,1213.9 L337.0,1213.9 L336.0,1213.9 L335.0,1213.9 L334.0,1213.9 L333.0,1213.9 L332.0,1213.9 L331.0,1213.9 L330.0,1213.9 L329.0,1213.9 L328.0,1213.9 L327.0,1213.9 L326.0,1213.9 L325.0,1213.9 L324.0,1213.9 L323.0,1213.9 L322.0,1213.9 L321.0,1213.9 L320.0,1213.9 L319.0,1213.9 L318.0,1213.9 L317.0,1213.9 L316.0,1213.9 L315.0,1213.9 L314.0,1213.9 L313.0,1213.9 L312.0,1213.9 L311.0,1213.9 L310.0,1213.9 L309.0,1213.9 L308.0,1213.9 L307.0,1213.9 L306.0,1213.9 L305.0,1213.9 L304.0,1213.9 L303.0,1213.9 L302.0,1213.9 L301.0,1213.9 L300.0,1213.9 L299.0,1213.9 L298.0,1213.9 L297.0,1213.9 L296.0,1213.9 L295.0,1213.9 L294.0,1213.9 L293.0,1213.9 L292.0,1213.9 L291.0,1213.9 L290.0,1213.9 L289.0,1213.9 L288.0,1213.9 L287.0,1213.9 L286.0,1213.9 L285.0,1213.9 L284.0,1213.9 L283.0,1213.9 L282.0,1213.9 L281.0,1213.9 L280.0,1213.9 L279.0,1213.9 L278.0,1213.9 L277.0,1213.9 L276.0,1213.9 L275.0,1213.9 L274.0,1213.9Z" fill="#00ff00"/>
<path d="M274.0,1206.1 L275.0,1206.1 L276.0,1206.1 L277.0,1206.1 L278.0,1206.1 L279.0,1206.1 L280.0,1206.1 L281.0,1206.1 L282.0,1206.1 L283.0,1206.1 L284.0,1206.1 L285.0,1206.1 L286.0,1206.1 L287.0,1206.1 L288.0,1206.1 L289.0,1206.1 L290.0,1206.1 L291.0,1206.1 L292.0,1206.1 L293.0,1206.1 L294.0,1206.1 L295.0,1206.1 L296.0,1206.1 L297.0,1206.1 L298.0,1206.1 L299.0,1206.1 L300.0,1206.1 L301.0,1206.1 L302.0,1206.1 L303.0,1206.1 L304.0,1206.1 L305.0,1206.1 L306.0,1206.1 L307.0,1206.1 L308.0,1206.1 L309.0,1206.1 L310.0,1206.1 L311.0,1206.0 L312.0,1206.0 L313.0,1206.0 L314.0,1206.0 L315.0,1206.0 L316.0,1206.0 L317.0,1206.0 L318.0,1206.1 L319.0,1206.1 L320.0,1206.0 L321.0,1206.0 L322.0,1206.0 L323.0,1206.0 L324.0,1206.0 L325.0,1206.0 L326.0,1206.0 L327.0,1206.1 L328.0,1206.1 L329.0,1206.1 L330.0,1206.0 L331.0,1206.0 L332.0,1206.0 L333.0,1206.0 L334.0,1206.0 L335.0,1206.0 L336.0,1206.0 L337.0,1206.1 L338.0,1206.1 L339.0,1206.0 L340.0,1206.0 L341.0,1206.0 L342.0,1206.0 L343.0,1206.0 L344.0,1206.0 L345.0,1206.0 L346.0,1206.0 L347.0,1206.1 L348.0,1206.0 L349.0,1206.0 L350.0,1206.0 L351.0,1206.0 L352.0,1206.0 L353.0,1206.0 L354.0,1206.0 L355.0,1206.0 L356.0,1206.0 L357.0,1206.1 L358.0,1206.0 L359.0,1206.0 L360.0,1206.0 L361.0,1206.0 L362.0,1206.0 L363.0,1206.0 L364.0,1206.0 L365.0,1206.0 L366.0,1206.1 L367.0,1206.0 L368.0,1206.0 L369.0,1206.0 L370.0,1206.0 L371.0,1206.0 L372.0,1206.0 L373.0,1206.0 L374.0,1206.0 L375.0,1206.0 L376.0,1206.1 L377.0,1206.0 L378.0,1206.0 L379.0,1206.0 L380.0,1206.0 L381.0,1206.0 L382.0,1206.0 L383.0,1206.0 L384.0,1206.0 L385.0,1206.0 L386.0,1206.0 L387.0,1206.0 L388.0,1206.0 L389.0,1206.0 L390.0,1206.0 L391.0,1206.0 L392.0,1206.0 L393.0,1206.0 L394.0,1206.0 L395.0,1206.1 L396.0,1206.0 L397.0,1206.0 L398.0,1206.0 L399.0,1206.0 L400.0,1206.0 L401.0,1206.0 L402.0,1206.0 L403.0,1206.0 L404.0,1206.0 L405.0,1206.0 L406.0,1206.0 L407.0,1205.9 L408.0,1205.9 L409.0,1205.9 L410.0,1205.9 L411.0,1205.9 L412.0,1205.9 L413.0,1206.0 L414.0,1206.0 L415.0,1206.0 L416.0,1205.9 L417.0,1205.9 L418.0,1205.9 L419.0,1205.9 L420.0,1205.9 L421.0,1205.9 L422.0,1205.9 L423.0,1206.0 L424.0,1206.0 L425.0,1205.9 L426.0,1205.9 L427.0,1205.9 L428.0,1205.9 L429.0,1205.9 L430.0,1205.9 L431.0,1205.9 L432.0,1205.9 L433.0,1206.0 L434.0,1206.0 L435.0,1205.9 L436.0,1205.9 L437.0,1205.9 L438.0,1205.9 L439.0,1205.9 L440.0,1205.9 L441.0,1205.9 L442.0,1205.9 L443.0,1206.0 L444.0,1205.9 L445.0,1205.9 L446.0,1205.9 L447.0,1205.9 L448.0,1205.9 L449.0,1205.9 L450.0,1205.9 L451.0,1205.9 L452.0,1205.9 L453.0,1206.0 L454.0,1205.9 L455.0,1205.9 L456.0,1205.9 L457.0,1205.9 L458.0,1205.9 L459.0,1205.9 L460.0,1205.9 L461.0,1205.9 L462.0,1206.0 L463.0,1205.9 L464.0,1205.9 L465.0,1205.9 L466.0,1205.9 L467.0,1205.9 L468.0,1205.9 L469.0,1205.9 L470.0,1205.9 L471.0,1205.9 L472.0,1206.0 L473.0,1205.9 L474.0,1205.8 L475.0,1205.8 L476.0,1205.8 L477.0,1205.8 L478.0,1205.8 L479.0,1205.8 L480.0,1205.8 L481.0,1205.9 L482.0,1205.9 L483.0,1205.8 L484.0,1205.8 L485.0,1205.8 L486.0,1205.8 L487.0,1205.8 L488.0,1205.8 L489.0,1205.8 L490.0,1205.9 L491.0,1206.0 L492.0,1205.8 L493.0,1205.8 L494.0,1205.8 L495.0,1205.8 L496.0,1205.8 L497.0,1205.8 L498.0,1205.8 L499.0,1205.8 L500.0,1205.9 L501.0,1205.9 L502.0,1205.8 L503.0,1205.8 L504.0,1205.8 L505.0,1205.8 L506.0,1205.8 L507.0,1205.8 L508.0,1205.8 L509.0,1205.8 L510.0,1205.9 L511.0,1205.8 L512.0,1205.8 L513.0,1205.8 L514.0,1205.8 L515.0,1205.8 L516.0,1205.8 L517.0,1205.8 L518.0,1205.8 L519.0,1205.8 L520.0,1205.9 L521.0,1205.7 L522.0,1205.7 L523.0,1205.7 L524.0,1205.7 L525.0,1205.7 L526.0,1205.7 L527.0,1205.7 L528.0,1205.7 L529.0,1205.9 L530.0,1205.8 L531.0,1205.7 L532.0,1205.7 L533.0,1205.7 L534.0,1205.7 L535.0,1205.7 L536.0,1205.7 L537.0,1205.7 L538.0,1205.8 L539.0,1205.8 L540.0,1205.7 L541.0,1205.7 L542.0,1205.7 L543.0,1205.7 L544.0,1205.7 L545.0,1205.7 L546.0,1205.7 L547.0,1205.7 L548.0,1205.8 L549.0,1205.8 L550.0,1205.7 L551.0,1205.6 L552.0,1205.6 L553.0,1205.6 L554.0,1205.6 L555.0,1205.6 L556.0,1205.6 L557.0,1205.7 L558.0,1205.8 L559.0,1205.7 L560.0,1205.6 L561.0,1205.6 L562.0,1205.6 L563.0,1205.6 L564.0,1205.6 L565.0,1205.6 L566.0,1205.6 L567.0,1205.7 L568.0,1205.7 L569.0,1205.6 L570.0,1205.6 L571.0,1205.6 L572.0,1205.6 L573.0,1205.6 L574.0,1205.6 L575.0,1205.6 L576.0,1205.6 L577.0,1205.8 L578.0,1205.6 L579.0,1205.5 L580.0,1205.5 L581.0,1205.5 L582.0,1205.5 L583.0,1205.5 L584.0,1205.5 L585.0,1205.5 L586.0,1205.6 L587.0,1205.7 L588.0,1205.5 L589.0,1205.5 L590.0,1205.5 L591.0,1205.5 L592.0,1205.5 L593.0,1205.5 L594.0,1205.5 L595.0,1205.5 L596.0,1205.7 L597.0,1205.6 L598.0,1205.5 L599.0,1205.5 L600.0,1205.5 L601.0,1205.5 L602.0,1205.5 L603.0,1205.5 L604.0,1205.5 L605.0,1205.5 L606.0,1205.7 L607.0,1205.5 L608.0,1205.4 L609.0,1205.4 L610.0,1205.4 L611.0,1205.4 L612.0,1205.4 L613.0,1205.4 L614.0,1205.4 L615.0,1205.6 L616.0,1205.5 L617.0,1205.4 L618.0,1205.4 L619.0,1205.4 L620.0,1205.4 L621.0,1205.4 L622.0,1205.4 L623.0,1205.4 L624.0,1205.4 L625.0,1205.6 L626.0,1205.4 L627.0,1205.3 L628.0,1205.3 L629.0,1205.3 L630.0,1205.3 L631.0,1205.3 L632.0,1205.3 L633.0,1205.3 L634.0,1205.4 L635.0,1205.5 L636.0,1205.3 L637.0,1205.2 L638.0,1205.2 L639.0,1205.2 L640.0,1205.2 L641.0,1205.2 L642.0,1205.2 L643.0,1205.3 L644.0,1205.5 L645.0,1205.3 L646.0,1205.2 L647.0,1205.2 L648.0,1205.2 L649.0,1205.2 L650.0,1205.2 L651.0,1205.2 L652.0,1205.2 L653.0,1205.3 L654.0,1205.4 L655.0,1205.1 L656.0,1205.1 L657.0,1205.1 L658.0,1205.1 L659.0,1205.1 L660.0,1205.1 L661.0,1205.1 L662.0,1205.1 L663.0,1205.3 L664.0,1205.2 L665.0,1205.0 L666.0,1205.0 L667.0,1205.0 L668.0,1205.0 L669.0,1205.0 L670.0,1205.0 L671.0,1205.0 L672.0,1205.1 L673.0,1205.3 L674.0,1205.0 L675.0,1204.9 L676.0,1204.9 L677.0,1204.9 L678.0,1204.9 L679.0,1204.9 L680.0,1204.9 L681.0,1204.9 L682.0,1205.1 L683.0,1205.1 L684.0,1204.8 L685.0,1204.8 L686.0,1204.8 L687.0,1204.8 L688.0,1204.8 L689.0,1204.8 L690.0,1204.8 L691.0,1204.9 L692.0,1205.2 L693.0,1204.8 L694.0,1204.7 L695.0,1204.7 L696.0,1204.7 L697.0,1204.7 L698.0,1204.7 L699.0,1204.7 L700.0,1204.7 L701.0,1204.9 L702.0,1205.0 L703.0,1204.6 L704.0,1204.6 L705.0,1204.6 L706.0,1204.6 L707.0,1204.6 L708.0,1204.6 L709.0,1204.6 L710.0,1204.6 L711.0,1205.0 L712.0,1204.7 L713.0,1204.4 L714.0,1204.4 L715.0,1204.4 L716.0,1204.4 L717.0,1204.4 L718.0,1204.4 L719.0,1204.4 L720.0,1204.6 L721.0,1204.8 L722.0,1204.4 L723.0,1204.3 L724.0,1204.3 L725.0,1204.3 L726.0,1204.3 L727.0,1204.3 L728.0,1204.3 L729.0,1204.3 L730.0,1204.6 L731.0,1204.4 L732.0,1204.1 L733.0,1204.1 L734.0,1204.1 L735.0,1204.1 L736.0,1204.1 L737.0,1204.1 L738.0,1204.1 L739.0,1204.2 L740.0,1204.6 L741.0,1204.0 L742.0,1203.9 L743.0,1203.9 L744.0,1203.9 L745.0,1203.9 L746.0,1203.9 L747.0,1203.9 L748.0,1203.9 L749.0,1204.2 L750.0,1204.1 L751.0,1203.7 L752.0,1203.6 L753.0,1203.6 L754.0,1203.6 L755.0,1203.6 L756.0,1203.6 L757.0,1203.6 L758.0,1203.7 L759.0,1204.3 L760.0,1203.6 L761.0,1203.3 L762.0,1203.3 L763.0,1203.3 L764.0,1203.3 L765.0,1203.3 L766.0,1203.3 L767.0,1203.3 L768.0,1203.7 L769.0,1203.8 L770.0,1203.1 L771.0,1203.0 L772.0,1203.0 L773.0,1203.0 L774.0,1203.0 L775.0,1203.0 L776.0,1203.0 L777.0,1203.1 L778.0,1203.7 L779.0,1203.1 L780.0,1202.6 L781.0,1202.6 L782.0,1202.6 L783.0,1202.6 L784.0,1202.6 L785.0,1202.6 L786.0,1202.6 L787.0,1202.9 L788.0,1203.3 L789.0,1202.4 L790.0,1202.2 L791.0,1202.2 L792.0,1202.2 L793.0,1202.2 L794.0,1202.2 L795.0,1202.2 L796.0,1202.2 L797.0,1202.9 L798.0,1202.3 L799.0,1201.7 L800.0,1201.6 L801.0,1201.6 L802.0,1201.6 L803.0,1201.6 L804.0,1201.6 L805.0,1201.6 L806.0,1201.9 L807.0,1202.6 L808.0,1201.3 L809.0,1201.0 L810.0,1201.0 L811.0,1201.0 L812.0,1201.0 L813.0,1201.0 L814.0,1201.0 L815.0,1201.0 L816.0,1201.8 L817.0,1201.3 L818.0,1200.2 L819.0,1200.2 L820.0,1200.2 L821.0,1200.2 L822.0,1200.2 L823.0,1200.2 L824.0,1200.2 L825.0,1200.4 L826.0,1201.6 L827.0,1199.8 L828.0,1199.1 L829.0,1199.1 L830.0,1199.1 L831.0,1199.1 L832.0,1199.1 L833.0,1199.1 L834.0,1199.1 L835.0,1200.0 L836.0,1199.6 L837.0,1198.0 L838.0,1197.8 L839.0,1197.8 L840.0,1197.8 L841.0,1197.8 L842.0,1197.8 L843.0,1197.8 L844.0,1198.1 L845.0,1199.8 L846.0,1197.2 L847.0,1196.2 L848.0,1196.2 L849.0,1196.2 L850.0,1196.2 L851.0,1196.2 L852.0,1196.2 L853.0,1196.2 L854.0,1197.2 L855.0,1196.9 L856.0,1194.4 L857.0,1193.9 L858.0,1193.9 L859.0,1193.9 L860.0,1193.9 L861.0,1193.9 L862.0,1193.9 L863.0,1194.2 L864.0,1196.5 L865.0,1192.8 L866.0,1190.9 L867.0,1190.9 L868.0,1190.9 L869.0,1190.9 L870.0,1190.9 L871.0,1190.9 L872.0,1190.9 L873.0,1192.2 L874.0,1191.6 L875.0,1187.4 L876.0,1186.6 L877.0,1186.6 L878.0,1186.6 L879.0,1186.6 L880.0,1186.6 L881.0,1186.6 L882.0,1186.9 L883.0,1190.4 L884.0,1183.5 L885.0,1180.2 L886.0,1180.2 L887.0,1180.2 L888.0,1180.2 L889.0,1180.2 L890.0,1180.2 L891.0,1180.2 L892.0,1182.4 L893.0,1179.0 L894.0,1171.5 L895.0,1170.2 L896.0,1170.2 L897.0,1170.2 L898.0,1170.2 L899.0,1170.2 L900.0,1170.2 L901.0,1170.8 L902.0,1172.9 L903.0,1158.8 L904.0,1153.1 L905.0,1153.1 L906.0,1153.1 L907.0,1153.1 L908.0,1153.1 L909.0,1153.1 L910.0,1153.1 L911.0,1158.5 L912.0,1136.5 L913.0,1122.0 L914.0,1120.8 L915.0,1120.8 L916.0,1120.8 L917.0,1120.8 L918.0,1120.8 L919.0,1120.8 L920.0,1124.5 L921.0,1084.6 L922.0,1053.8 L923.0,1049.2 L924.0,1049.2 L925.0,1049.2 L926.0,1049.2 L927.0,1049.2 L928.0,1049.2 L929.0,1005.4 L930.0,902.9 L931.0,852.5 L932.0,850.6 L933.0,850.6 L934.0,850.6 L935.0,850.6 L936.0,644.8 L937.0,333.9 L938.0,199.8 L939.0,141.9 L940.0,114.6 L941.0,100.4 L942.0,92.5 L943.0,87.8 L944.0,84.9 L945.0,83.1 L946.0,82.0 L947.0,81.4 L948.0,81.3 L949.0,81.3 L950.0,81.3 L951.0,81.3 L952.0,81.3 L953.0,81.3 L954.0,81.3 L955.0,81.4 L956.0,82.0 L957.0,83.1 L958.0,84.9 L959.0,87.8 L960.0,92.5 L961.0,100.4 L962.0,114.6 L963.0,141.9 L964.0,199.8 L965.0,333.9 L966.0,644.8 L967.0,850.6 L968.0,850.6 L969.0,850.6 L970.0,850.6 L971.0,852.5 L972.0,902.9 L973.0,1005.4 L974.0,1049.2 L975.0,1049.2 L976.0,1049.2 L977.0,1049.2 L978.0,1049.2 L979.0,1049.2 L980.0,1053.8 L981.0,1084.6 L982.0,1124.5 L983.0,1120.8 L984.0,1120.8 L985.0,1120.8 L986.0,1120.8 L987.0,1120.8 L988.0,1120.8 L989.0,1122.0 L990.0,1136.5 L991.0,1158.5 L992.0,1153.1 L993.0,1153.1 L994.0,1153.1 L995.0,1153.1 L996.0,1153.1 L997.0,1153.1 L998.0,1153.1 L999.0,1158.8 L1000.0,1172.9 L1001.0,1170.8 L1002.0,1170.2 L1003.0,1170.2 L1004.0,1170.2 L1005.0,1170.2 L1006.0,1170.2 L1007.0,1170.2 L1008.0,1171.5 L1009.0,1179.0 L1010.0,1182.4 L1011.0,1180.2 L1012.0,1180.2 L1013.0,1180.2 L1014.0,1180.2 L1015.0,1180.2 L1016.0,1180.2 L1017.0,1180.2 L1018.0,1183.5 L1019.0,1190.4 L1020.0,1186.9 L1021.0,1186.6 L1022.0,1186.6 L1023.0,1186.6 L1024.0,1186.6 L1025.0,1186.6 L1026.0,1186.6 L1027.0,1187.4 L1028.0,1191.6 L1029.0,1192.2 L1030.0,1190.9 L1031.0,1190.9 L1032.0,1190.9 L1033.0,1190.9 L1034.0,1190.9 L1035.0,1190.9 L1036.0,1190.9 L1037.0,1192.8 L1038.0,1196.5 L1039.0,1194.2 L1040.0,1193.9 L1041.0,1193.9 L1042.0,1193.9 L1043.0,1193.9 L1044.0,1193.9 L1045.0,1193.9 L1046.0,1194.4 L1047.0,1196.9 L1048.0,1197.2 L1049.0,1196.2 L1050.0,1196.2 L1051.0,1196.2 L1052.0,1196.2 L1053.0,1196.2 L1054.0,1196.2 L1055.0,1196.2 L1056.0,1197.2 L1057.0,1199.8 L1058.0,1198.1 L1059.0,1197.8 L1060.0,1197.8 L1061.0,1197.8 L1062.0,1197.8 L1063.0,1197.8 L1064.0,1197.8 L1065.0,1198.0 L1066.0,1199.6 L1067.0,1200.0 L1068.0,1199.1 L1069.0,1199.1 L1070.0,1199.1 L1071.0,1199.1 L1072.0,1199.1 L1073.0,1199.1 L1074.0,1199.1 L1075.0,1199.8 L1076.0,1201.6 L1077.0,1200.4 L1078.0,1200.2 L1079.0,1200.2 L1080.0,1200.2 L1081.0,1200.2 L1082.0,1200.2 L1083.0,1200.2 L1084.0,1200.2 L1085.0,1201.3 L1086.0,1201.8 L1087.0,1201.0 L1088.0,1201.0 L1089.0,1201.0 L1090.0,1201.0 L1091.0,1201.0 L1092.0,1201.0 L1093.0,1201.0 L1094.0,1201.3 L1095.0,1202.6 L1096.0,1201.9 L1097.0,1201.6 L1098.0,1201.6 L1099.0,1201.6 L1100.0,1201.6 L1101.0,1201.6 L1102.0,1201.6 L1103.0,1201.7 L1104.0,1202.3 L1105.0,1202.9 L1106.0,1202.2 L1107.0,1202.2 L1108.0,1202.2 L1109.0,1202.2 L1110.0,1202.2 L1111.0,1202.2 L1112.0,1202.2 L1113.0,1202.4 L1114.0,1203.3 L1115.0,1202.9 L1116.0,1202.6 L1117.0,1202.6 L1118.0,1202.6 L1119.0,1202.6 L1120.0,1202.6 L1121.0,1202.6 L1122.0,1202.6 L1123.0,1203.1 L1124.0,1203.7 L1125.0,1203.1 L1126.0,1203.0 L1127.0,1203.0 L1128.0,1203.0 L1129.0,1203.0 L1130.0,1203.0 L1131.0,1203.0 L1132.0,1203.1 L1133.0,1203.8 L1134.0,1203.7 L1135.0,1203.3 L1136.0,1203.3 L1137.0,1203.3 L1138.0,1203.3 L1139.0,1203.3 L1140.0,1203.3 L1141.0,1203.3 L1142.0,1203.6 L1143.0,1204.3 L1144.0,1203.7 L1145.0,1203.6 L1146.0,1203.6 L1147.0,1203.6 L1148.0,1203.6 L1149.0,1203.6 L1150.0,1203.6 L1151.0,1203.7 L1152.0,1204.1 L1153.0,1204.2 L1154.0,1203.9 L1155.0,1203.9 L1156.0,1203.9 L1157.0,1203.9 L1158.0,1203.9 L1159.0,1203.9 L1160.0,1203.9 L1161.0,1204.0 L1162.0,1204.6 L1163.0,1204.2 L1164.0,1204.1 L1165.0,1204.1 L1166.0,1204.1 L1167.0,1204.1 L1168.0,1204.1 L1169.0,1204.1 L1170.0,1204.1 L1171.0,1204.4 L1172.0,1204.6 L1173.0,1204.3 L1174.0,1204.3 L1175.0,1204.3 L1176.0,1204.3 L1177.0,1204.3 L1178.0,1204.3 L1179.0,1204.3 L1180.0,1204.4 L1181.0,1204.8 L1182.0,1204.6 L1183.0,1204.4 L1184.0,1204.4 L1185.0,1204.4 L1186.0,1204.4 L1187.0,1204.4 L1188.0,1204.4 L1189.0,1204.4 L1190.0,1204.7 L1191.0,1205.0 L1192.0,1204.6 L1193.0,1204.6 L1194.0,1204.6 L1195.0,1204.6 L1196.0,1204.6 L1197.0,1204.6 L1198.0,1204.6 L1199.0,1204.6 L1200.0,1205.0 L1201.0,1204.9 L1202.0,1204.7 L1203.0,1204.7 L1204.0,1204.7 L1205.0,1204.7 L1206.0,1204.7 L1207.0,1204.7 L1208.0,1204.7 L1209.0,1204.8 L1210.0,1205.2 L1211.0,1204.9 L1212.0,1204.8 L1213.0,1204.8 L1214.0,1204.8 L1215.0,1204.8 L1216.0,1204.8 L1217.0,1204.8 L1218.0,1204.8 L1219.0,1205.1 L1220.0,1205.1 L1221.0,1204.9 L1222.0,1204.9 L1223.0,1204.9 L1224.0,1204.9 L1225.0,1204.9 L1226.0,1204.9 L1227.0,1204.9 L1228.0,1205.0 L1229.0,1205.3 L1230.0,1205.1 L1231.0,1205.0 L1232.0,1205.0 L1233.0,1205.0 L1234.0,1205.0 L1235.0,1205.0 L1236.0,1205.0 L1237.0,1205.0 L1238.0,1205.2 L1239.0,1205.3 L1240.0,1205.1 L1241.0,1205.1 L1242.0,1205.1 L1243.0,1205.1 L1244.0,1205.1 L1245.0,1205.1 L1246.0,1205.1 L1247.0,1205.1 L1248.0,1205.4 L1249.0,1205.3 L1250.0,1205.2 L1251.0,1205.2 L1252.0,1205.2 L1253.0,1205.2 L1254.0,1205.2 L1255.0,1205.2 L1256.0,1205.2 L1257.0,1205.3 L1258.0,1205.5 L1259.0,1205.3 L1260.0,1205.2 L1261.0,1205.2 L1262.0,1205.2 L1263.0,1205.2 L1264.0,1205.2 L1265.0,1205.2 L1266.0,1205.3 L1267.0,1205.5 L1268.0,1205.4 L1269.0,1205.3 L1270.0,1205.3 L1271.0,1205.3 L1272.0,1205.3 L1273.0,1205.3 L1274.0,1205.3 L1275.0,1205.3 L1276.0,1205.4 L1277.0,1205.6 L1278.0,1205.4 L1279.0,1205.4 L1280.0,1205.4 L1281.0,1205.4 L1282.0,1205.4 L1283.0,1205.4 L1284.0,1205.4 L1285.0,1205.4 L1286.0,1205.5 L1287.0,1205.6 L1288.0,1205.4 L1289.0,1205.4 L1290.0,1205.4 L1291.0,1205.4 L1292.0,1205.4 L1293.0,1205.4 L1294.0,1205.4 L1295.0,1205.5 L1296.0,1205.7 L1297.0,1205.5 L1298.0,1205.5 L1299.0,1205.5 L1300.0,1205.5 L1301.0,1205.5 L1302.0,1205.5 L1303.0,1205.5 L1304.0,1205.5 L1305.0,1205.6 L1306.0,1205.7 L1307.0,1205.5 L1308.0,1205.5 L1309.0,1205.5 L1310.0,1205.5 L1311.0,1205.5 L1312.0,1205.5 L1313.0,1205.5 L1314.0,1205.5 L1315.0,1205.7 L1316.0,1205.6 L1317.0,1205.5 L1318.0,1205.5 L1319.0,1205.5 L1320.0,1205.5 L1321.0,1205.5 L1322.0,1205.5 L1323.0,1205.5 L1324.0,1205.6 L1325.0,1205.8 L1326.0,1205.6 L1327.0,1205.6 L1328.0,1205.6 L1329.0,1205.6 L1330.0,1205.6 L1331.0,1205.6 L1332.0,1205.6 L1333.0,1205.6 L1334.0,1205.7 L1335.0,1205.7 L1336.0,1205.6 L1337.0,1205.6 L1338.0,1205.6 L1339.0,1205.6 L1340.0,1205.6 L1341.0,1205.6 L1342.0,1205.6 L1343.0,1205.7 L1344.0,1205.8 L1345.0,1205.7 L1346.0,1205.6 L1347.0,1205.6 L1348.0,1205.6 L1349.0,1205.6 L1350.0,1205.6 L1351.0,1205.6 L1352.0,1205.7 L1353.0,1205.8 L1354.0,1205.8 L1355.0,1205.7 L1356.0,1205.7 L1357.0,1205.7 L1358.0,1205.7 L1359.0,1205.7 L1360.0,1205.7 L1361.0,1205.7 L1362.0,1205.7 L1363.0,1205.8 L1364.0,1205.8 L1365.0,1205.7 L1366.0,1205.7 L1367.0,1205.7 L1368.0,1205.7 L1369.0,1205.7 L1370.0,1205.7 L1371.0,1205.7 L1372.0,1205.8 L1373.0,1205.9 L1374.0,1205.7 L1375.0,1205.7 L1376.0,1205.7 L1377.0,1205.7 L1378.0,1205.7 L1379.0,1205.7 L1380.0,1205.7 L1381.0,1205.7 L1382.0,1205.9 L1383.0,1205.8 L1384.0,1205.8 L1385.0,1205.8 L1386.0,1205.8 L1387.0,1205.8 L1388.0,1205.8 L1389.0,1205.8 L1390.0,1205.8 L1391.0,1205.8 L1392.0,1205.9 L1393.0,1205.8 L1394.0,1205.8 L1395.0,1205.8 L1396.0,1205.8 L1397.0,1205.8 L1398.0,1205.8 L1399.0,1205.8 L1400.0,1205.8 L1401.0,1205.9 L1402.0,1205.9 L1403.0,1205.8 L1404.0,1205.8 L1405.0,1205.8 L1406.0,1205.8 L1407.0,1205.8 L1408.0,1205.8 L1409.0,1205.8 L1410.0,1205.8 L1411.0,1206.0 L1412.0,1205.9 L1413.0,1205.8 L1414.0,1205.8 L1415.0,1205.8 L1416.0,1205.8 L1417.0,1205.8 L1418.0,1205.8 L1419.0,1205.8 L1420.0,1205.9 L1421.0,1205.9 L1422.0,1205.8 L1423.0,1205.8 L1424.0,1205.8 L1425.0,1205.8 L1426.0,1205.8 L1427.0,1205.8 L1428.0,1205.8 L1429.0,1205.9 L1430.0,1206.0 L1431.0,1205.9 L1432.0,1205.9 L1433.0,1205.9 L1434.0,1205.9 L1435.0,1205.9 L1436.0,1205.9 L1437.0,1205.9 L1438.0,1205.9 L1439.0,1205.9 L1440.0,1206.0 L1441.0,1205.9 L1442.0,1205.9 L1443.0,1205.9 L1444.0,1205.9 L1445.0,1205.9 L1446.0,1205.9 L1447.0,1205.9 L1448.0,1205.9 L1449.0,1206.0 L1450.0,1205.9 L1451.0,1205.9 L1452.0,1205.9 L1453.0,1205.9 L1454.0,1205.9 L1455.0,1205.9 L1456.0,1205.9 L1457.0,1205.9 L1458.0,1205.9 L1459.0,1206.0 L1460.0,1205.9 L1461.0,1205.9 L1462.0,1205.9 L1463.0,1205.9 L1464.0,1205.9 L1465.0,1205.9 L1466.0,1205.9 L1467.0,1205.9 L1468.0,1206.0 L1469.0,1206.0 L1470.0,1205.9 L1471.0,1205.9 L1472.0,1205.9 L1473.0,1205.9 L1474.0,1205.9 L1475.0,1205.9 L1476.0,1205.9 L1477.0,1205.9 L1478.0,1206.0 L1479.0,1206.0 L1480.0,1205.9 L1481.0,1205.9 L1482.0,1205.9 L1483.0,1205.9 L1484.0,1205.9 L1485.0,1205.9 L1486.0,1205.9 L1487.0,1206.0 L1488.0,1206.0 L1489.0,1206.0 L1490.0,1205.9 L1491.0,1205.9 L1492.0,1205.9 L1493.0,1205.9 L1494.0,1205.9 L1495.0,1205.9 L1496.0,1206.0 L1497.0,1206.0 L1498.0,1206.0 L1499.0,1206.0 L1500.0,1206.0 L1501.0,1206.0 L1502.0,1206.0 L1503.0,1206.0 L1504.0,1206.0 L1505.0,1206.0 L1506.0,1206.0 L1507.0,1206.1 L1508.0,1206.0 L1509.0,1206.0 L1510.0,1206.0 L1511.0,1206.0 L1512.0,1206.0 L1513.0,1206.0 L1514.0,1206.0 L1515.0,1206.0 L1516.0,1206.0 L1517.0,1206.0 L1518.0,1206.0 L1519.0,1206.0 L1520.0,1206.0 L1521.0,1206.0 L1522.0,1206.0 L1523.0,1206.0 L1524.0,1206.0 L1525.0,1206.0 L1526.0,1206.1 L1527.0,1206.0 L1528.0,1206.0 L1529.0,1206.0 L1530.0,1206.0 L1531.0,1206.0 L1532.0,1206.0 L1533.0,1206.0 L1534.0,1206.0 L1535.0,1206.0 L1536.0,1206.1 L1537.0,1206.0 L1538.0,1206.0 L1539.0,1206.0 L1540.0,1206.0 L1541.0,1206.0 L1542.0,1206.0 L1543.0,1206.0 L1544.0,1206.0 L1545.0,1206.1 L1546.0,1206.0 L1547.0,1206.0 L1548.0,1206.0 L1549.0,1206.0 L1550.0,1206.0 L1551.0,1206.0 L1552.0,1206.0 L1553.0,1206.0 L1554.0,1206.0 L1555.0,1206.1 L1556.0,1206.0 L1557.0,1206.0 L1558.0,1206.0 L1559.0,1206.0 L1560.0,1206.0 L1561.0,1206.0 L1562.0,1206.0 L1563.0,1206.0 L1564.0,1206.1 L1565.0,1206.1 L1566.0,1206.0 L1567.0,1206.0 L1568.0,1206.0 L1569.0,1206.0 L1570.0,1206.0 L1571.0,1206.0 L1572.0,1206.0 L1573.0,1206.1 L1574.0,1206.1 L1575.0,1206.1 L1576.0,1206.0 L1577.0,1206.0 L1578.0,1206.0 L1579.0,1206.0 L1580.0,1206.0 L1581.0,1206.0 L1582.0,1206.0 L1583.0,1206.1 L1584.0,1206.1 L1585.0,1206.0 L1586.0,1206.0 L1587.0,1206.0 L1588.0,1206.0 L1589.0,1206.0 L1590.0,1206.0 L1591.0,1206.0 L1592.0,1206.1 L1593.0,1206.1 L1594.0,1206.1 L1595.0,1206.1 L1596.0,1206.1 L1597.0,1206.1 L1598.0,1206.1 L1599.0,1206.1 L1600.0,1206.1 L1601.0,1206.1 L1602.0,1206.1 L1603.0,1206.1 L1604.0,1206.1 L1605.0,1206.1 L1606.0,1206.1 L1607.0,1206.1 L1608.0,1206.1 L1609.0,1206.1 L1610.0,1206.1 L1611.0,1206.1 L1612.0,1206.1 L1613.0,1206.1 L1614.0,1206.1 L1615.0,1206.1 L1616.0,1206.1 L1617.0,1206.1 L1618.0,1206.1 L1619.0,1206.1 L1620.0,1206.1 L1621.0,1206.1 L1622.0,1206.1 L1623.0,1206.1 L1624.0,1206.1 L1625.0,1206.1 L1626.0,1206.1 L1627.0,1206.1 L1628.0,1206.1 L1629.0,1206.1 L1630.0,1206.1 L1631.0,1206.1 L1632.0,1206.1 L1633.0,1206.1 L1634.0,1206.1 L1635.0,1206.1 L1636.0,1206.1 L1637.0,1206.1 L1638.0,1206.1 L1639.0,1206.1 L1640.0,1206.1 L1641.0,1206.1 L1642.0,1206.1 L1643.0,1206.1 L1644.0,1206.1 L1645.0,1206.1 L1646.0,1206.1 L1647.0,1206.1 L1648.0,1206.1 L1649.0,1206.1 L1650.0,1206.1 L1651.0,1206.1 L1652.0,1206.1 L1653.0,1206.1 L1654.0,1206.1 L1655.0,1206.1 L1656.0,1206.1 L1657.0,1206.1 L1658.0,1206.1 L1659.0,1206.1 L1660.0,1206.1 L1661.0,1206.1 L1662.0,1206.1 L1663.0,1206.1 L1664.0,1206.1 L1665.0,1206.1 L1666.0,1206.1 L1667.0,1206.1 L1668.0,1206.1 L1669.0,1206.1 L1670.0,1206.1 L1671.0,1206.1 L1672.0,1206.1 L1673.0,1206.1 L1674.0,1206.1 L1675.0,1206.1 L1676.0,1206.1 L1677.0,1206.1 L1678.0,1206.1 L1679.0,1206.1 L1680.0,1206.1 L1681.0,1206.1 L1682.0,1206.1 L1683.0,1206.1 L1684.0,1206.1 L1685.0,1206.1 L1686.0,1206.1 L1687.0,1206.1 L1688.0,1206.1 L1689.0,1206.2 L1690.0,1206.1 L1691.0,1206.1 L1692.0,1206.1 L1693.0,1206.1 L1694.0,1206.1 L1695.0,1206.1 L1696.0,1206.1 L1697.0,1206.1 L1698.0,1206.1 L1699.0,1206.1 L1700.0,1206.1 L1701.0,1206.1 L1702.0,1206.1 L1703.0,1206.1 L1704.0,1206.1 L1705.0,1206.1 L1705.0,1213.9 L1704.0,1213.9 L1703.0,1213.9 L1702.0,1213.9 L1701.0,1213.9 L1700.0,1213.9 L1699.0,1213.9 L1698.0,1213.9 L1697.0,1213.9 L1696.0,1213.9 L1695.0,1213.9 L1694.0,1213.9 L1693.0,1213.9 L1692.0,1213.9 L1691.0,1213.9 L1690.0,1213.9 L1689.0,1213.9 L1688.0,1213.9 L1687.0,1213.9 L1686.0,1213.9 L1685.0,1213.9 L1684.0,1213.9 L1683.0,1213.9 L1682.0,1213.9 L1681.0,1213.9 L1680.0,1213.9 L1679.0,1213.9 L1678.0,1213.9 L1677.0,1213.9 L1676.0,1213.9 L1675.0,1213.9 L1674.0,1213.9 L1673.0,1213.9 L1672.0,1213.9 L1671.0,1213.9 L1670.0,1213.9 L1669.0,1213.9 L1668.0,1213.9 L1667.0,1213.9 L1666.0,1213.9 L1665.0,1213.9 L1664.0,1213.9 L1663.0,1213.9 L1662.0,1213.9 L1661.0,1213.9 L1660.0,1213.9 L1659.0,1213.9 L1658.0,1213.9 L1657.0,1213.9 L1656.0,1213.9 L1655.0,1213.9 L1654.0,1213.9 L1653.0,1213.9 L1652.0,1213.9 L1651.0,1213.9 L1650.0,1213.9 L1649.0,1213.9 L1648.0,1213.9 L1647.0,1213.9 L1646.0,1213.9 L1645.0,1213.9 L1644.0,1213.9 L1643.0,1213.9 L1642.0,1213.9 L1641.0,1213.9 L1640.0,1213.9 L1639.0,1213.9 L1638.0,1213.9 L1637.0,1213.9 L1636.0,1213.9 L1635.0,1213.9 L1634.0,1213.9 L1633.0,1213.9 L1632.0,1213.9 L1631.0,1213.9 L1630.0,1213.9 L1629.0,1213.9 L1628.0,1213.9 L1627.0,1213.9 L1626.0,1213.9 L1625.0,1213.9 L1624.0,1213.9 L1623.0,1213.9 L1622.0,1213.9 L1621.0,1213.9 L1620.0,1213.9 L1619.0,1213.9 L1618.0,1213.9 L1617.0,1213.9 L1616.0,1213.9 L1615.0,1213.9 L1614.0,1213.9 L1613.0,1213.9 L1612.0,1213.9 L1611.0,1213.9 L1610.0,1213.9 L1609.0,1213.9 L1608.0,1213.9 L1607.0,1213.9 L1606.0,1213.9 L1605.0,1213.9 L1604.0,1213.9 L1603.0,1213.9 L1602.0,1213.9 L1601.0,1213.9 L1600.0,1213.9 L1599.0,1213.9 L1598.0,1213.9 L1597.0,1213.9 L1596.0,1213.9 L1595.0,1213.9 L1594.0,1213.9 L1593.0,1213.9 L1592.0,1213.9 L1591.0,1213.9 L1590.0,1213.9 L1589.0,1213.9 L1588.0,1213.9 L1587.0,1213.9 L1586.0,1213.9 L1585.0,1213.9 L1584.0,1213.9 L1583.0,1213.9 L1582.0,1213.9 L1581.0,1213.9 L1580.0,1213.9 L1579.0,1213.9 L1578.0,1213.9 L1577.0,1213.9 L1576.0,1213.9 L1575.0,1213.9 L1574.0,1213.9 L1573.0,1213.9 L1572.0,1213.9 L1571.0,1213.9 L1570.0,1213.9 L1569.0,1213.9 L1568.0,1213.9 L1567.0,1213.9 L1566.0,1213.9 L1565.0,1213.9 L1564.0,1213.9 L1563.0,1213.9 L1562.0,1213.9 L1561.0,1213.9 L1560.0,1213.9 L1559.0,1213.9 L1558.0,1213.9 L1557.0,1213.9 L1556.0,1213.9 L1555.0,1213.9 L1554.0,1213.9 L1553.0,1213.9 L1552.0,1213.9 L1551.0,1213.9 L1550.0,1213.9 L1549.0,1213.9 L1548.0,1213.9 L1547.0,1213.9 L1546.0,1213.9 L1545.0,1213.9 L1544.0,1213.9 L1543.0,1213.9 L1542.0,1213.9 L1541.0,1213.9 L1540.0,1213.9 L1539.0,1213.9 L1538.0,1213.9 L1537.0,1213.9 L1536.0,1213.9 L1535.0,1213.9 L1534.0,1213.9 L1533.0,1213.9 L1532.0,1213.9 L1531.0,1213.9 L1530.0,1213.9 L1529.0,1213.9 L1528.0,1213.9 L1527.0,1213.9 L1526.0,1213.9 L1525.0,1213.9 L1524.0,1213.9 L1523.0,1213.9 L1522.0,1213.9 L1521.0,1213.9 L1520.0,1213.9 L1519.0,1213.9 L1518.0,1213.9 L1517.0,1213.9 L1516.0,1213.9 L1515.0,1213.9 L1514.0,1213.9 L1513.0,1213.9 L1512.0,1213.9 L1511.0,1213.9 L1510.0,1213.9 L1509.0,1213.9 L1508.0,1213.9 L1507.0,1213.9 L1506.0,1213.9 L1505.0,1213.9 L1504.0,1213.9 L1503.0,1213.9 L1502.0,1213.9 L1501.0,1213.9 L1500.0,1213.9 L1499.0,1213.9 L1498.0,1213.9 L1497.0,1213.9 L1496.0,1213.9 L1495.0,1213.9 L1494.0,1213.9 L1493.0,1213.9 L1492.0,1213.9 L1491.0,1213.9 L1490.0,1213.9 L1489.0,1213.9 L1488.0,1213.9 L1487.0,1213.9 L1486.0,1213.9 L1485.0,1213.9 L1484.0,1213.9 L1483.0,1213.9 L1482.0,1213.9 L1481.0,1213.9 L1480.0,1213.9 L1479.0,1213.9 L1478.0,1213.9 L1477.0,1213.9 L1476.0,1213.9 L1475.0,1213.9 L1474.0,1213.9 L1473.0,1213.9 L1472.0,1213.9 L1471.0,1213.9 L1470.0,1213.9 L1469.0,1213.9 L1468.0,1213.9 L1467.0,1213.9 L1466.0,1213.9 L1465.0,1213.9 L1464.0,1213.9 L1463.0,1213.9 L1462.0,1213.9 L1461.0,1213.9 L1460.0,1213.9 L1459.0,1213.9 L1458.0,1213.9 L1457.0,1213.9 L1456.0,1213.9 L1455.0,1213.9 L1454.0,1213.9 L1453.0,1213.9 L1452.0,1213.9 L1451.0,1213.9 L1450.0,1213.9 L1449.0,1213.9 L1448.0,1213.9 L1447.0,1213.9 L1446.0,1213.9 L1445.0,1213.9 L1444.0,1213.9 L1443.0,1213.9 L1442.0,1213.9 L1441.0,1213.9 L1440.0,1213.9 L1439.0,1213.9 L1438.0,1213.9 L1437.0,1213.9 L1436.0,1213.9 L1435.0,1213.9 L1434.0,1213.9 L1433.0,1213.9 L1432.0,1213.9 L1431.0,1213.9 L1430.0,1213.9 L1429.0,1213.9 L1428.0,1213.9 L1427.0,1213.9 L1426.0,1213.9 L1425.0,1213.9 L1424.0,1213.9 L1423.0,1213.9 L1422.0,1213.9 L1421.0,1213.9 L1420.0,1213.9 L1419.0,1213.9 L1418.0,1213.9 L1417.0,1213.9 L1416.0,1213.9 L1415.0,1213.9 L1414.0,1213.9 L1413.0,1213.9 L1412.0,1213.9 L1411.0,1213.9 L1410.0,1213.9 L1409.0,1213.9 L1408.0,1213.9 L1407.0,1213.9 L1406.0,1213.9 L1405.0,1213.9 L1404.0,1213.9 L1403.0,1213.9 L1402.0,1213.9 L1401.0,1213.9 L1400.0,1213.9 L1399.0,1213.9 L1398.0,1213.9 L1397.0,1213.9 L1396.0,1213.9 L1395.0,1213.9 L1394.0,1213.9 L1393.0,1213.9 L1392.0,1213.9 L1391.0,1213.9 L1390.0,1213.9 L1389.0,1213.9 L1388.0,1213.9 L1387.0,1213.9 L1386.0,1213.9 L1385.0,1213.9 L1384.0,1213.9 L1383.0,1213.9 L1382.0,1213.9 L1381.0,1213.9 L1380.0,1213.9 L1379.0,1213.9 L1378.0,1213.9 L1377.0,1213.9 L1376.0,1213.9 L1375.0,1213.9 L1374.0,1213.9 L1373.0,1213.9 L1372.0,1213.9 L1371.0,1213.9 L1370.0,1213.9 L1369.0,1213.9 L1368.0,1213.9 L1367.0,1213.9 L1366.0,1213.9 L1365.0,1213.9 L1364.0,1213.9 L1363.0,1213.9 L1362.0,1213.9 L1361.0,1213.9 L1360.0,1213.9 L1359.0,1213.9 L1358.0,1213.9 L1357.0,1213.9 L1356.0,1213.9 L1355.0,1213.9 L1354.0,1213.9 L1353.0,1213.9 L1352.0,1213.9 L1351.0,1213.9 L1350.0,1213.9 L1349.0,1213.9 L1348.0,1213.9 L1347.0,1213.9 L1346.0,1213.9 L1345.0,1213.9 L1344.0,1213.9 L1343.0,1213.9 L1342.0,1213.9 L1341.0,1213.9 L1340.0,1213.9 L1339.0,1213.9 L1338.0,1213.9 L1337.0,1213.9 L1336.0,1213.9 L1335.0,1213.9 L1334.0,1213.9 L1333.0,1213.9 L1332.0,1213.9 L1331.0,1213.9 L1330.0,1213.9 L1329.0,1213.9 L1328.0,1213.9 L1327.0,1213.9 L1326.0,1213.9 L1325.0,1213.9 L1324.0,1213.9 L1323.0,1213.9 L1322.0,1213.9 L1321.0,1213.9 L1320.0,1213.9 L1319.0,1213.9 L1318.0,1213.9 L1317.0,1213.9 L1316.0,1213.9 L1315.0,1213.9 L1314.0,1213.9 L1313.0,1213.9 L1312.0,1213.9 L1311.0,1213.9 L1310.0,1213.9 L1309.0,1213.9 L1308.0,1213.9 L1307.0,1213.9 L1306.0,1213.9 L1305.0,1213.9 L1304.0,1213.9 L1303.0,1213.9 L1302.0,1213.9 L1301.0,1213.9 L1300.0,1213.9 L1299.0,1213.9 L1298.0,1213.9 L1297.0,1213.9 L1296.0,1213.9 L1295.0,1213.9 L1294.0,1213.9 L1293.0,1213.9 L1292.0,1213.9 L1291.0,1213.9 L1290.0,1213.9 L1289.0,1213.9 L1288.0,1213.9 L1287.0,1213.9 L1286.0,1213.9 L1285.0,1213.9 L1284.0,1213.9 L1283.0,1213.9 L1282.0,1213.9 L1281.0,1213.9 L1280.0,1213.9 L1279.0,1213.9 L1278.0,1213.9 L1277.0,1213.9 L1276.0,1213.9 L1275.0,1213.9 L1274.0,1213.9 L1273.0,1213.9 L1272.0,1213.9 L1271.0,1213.9 L1270.0,1213.9 L1269.0,1213.9 L1268.0,1213.9 L1267.0,1213.9 L1266.0,1213.9 L1265.0,1213.9 L1264.0,1213.9 L1263.0,1213.9 L1262.0,1213.9 L1261.0,1213.9 L1260.0,1213.9 L1259.0,1213.9 L1258.0,1213.9 L1257.0,1213.9 L1256.0,1213.9 L1255.0,1213.9 L1254.0,1213.9 L1253.0,1213.9 L1252.0,1213.9 L1251.0,1213.9 L1250.0,1213.9 L1249.0,1213.9 L1248.0,1213.9 L1247.0,1213.9 L1246.0,1213.9 L1245.0,1213.9 L1244.0,1213.9 L1243.0,1213.9 L1242.0,1213.9 L1241.0,1213.9 L1240.0,1213.9 L1239.0,1213.9 L1238.0,1213.9 L1237.0,1213.9 L1236.0,1213.9 L1235.0,1213.9 L1234.0,1213.9 L1233.0,1213.9 L1232.0,1213.9 L1231.0,1213.9 L1230.0,1213.9 L1229.0,1213.9 L1228.0,1213.9 L1227.0,1213.9 L1226.0,1213.9 L1225.0,1213.9 L1224.0,1213.9 L1223.0,1213.9 L1222.0,1213.9 L1221.0,1213.9 L1220.0,1213.9 L1219.0,1213.9 L1218.0,1213.9 L1217.0,1213.9 L1216.0,1213.9 L1215.0,1213.9 L1214.0,1213.9 L1213.0,1213.9 L1212.0,1213.9 L1211.0,1213.9 L1210.0,1213.9 L1209.0,1213.9 L1208.0,1213.9 L1207.0,1213.9 L1206.0,1213.9 L1205.0,1213.9 L1204.0,1213.9 L1203.0,1213.9 L1202.0,1213.9 L1201.0,1213.9 L1200.0,1213.9 L1199.0,1213.9 L1198.0,1213.9 L1197.0,1213.9 L1196.0,1213.9 L1195.0,1213.9 L1194.0,1213.9 L1193.0,1213.9 L1192.0,1213.9 L1191.0,1213.9 L1190.0,1213.9 L1189.0,1213.9 L1188.0,1213.9 L1187.0,1213.9 L1186.0,1213.9 L1185.0,1213.9 L1184.0,1213.9 L1183.0,1213.9 L1182.0,1213.9 L1181.0,1213.9 L1180.0,1213.9 L1179.0,1213.9 L1178.0,1213.9 L1177.0,1213.9 L1176.0,1213.9 L1175.0,1213.9 L1174.0,1213.9 L1173.0,1213.9 L1172.0,1213.9 L1171.0,1213.9 L1170.0,1213.9 L1169.0,1213.9 L1168.0,1213.9 L1167.0,1213.9 L1166.0,1213.9 L1165.0,1213.9 L1164.0,1213.9 L1163.0,1213.9 L1162.0,1213.9 L1161.0,1213.9 L1160.0,1213.9 L1159.0,1213.9 L1158.0,1213.9 L1157.0,1213.9 L1156.0,1213.9 L1155.0,1213.9 L1154.0,1213.9 L1153.0,1213.9 L1152.0,1213.9 L1151.0,1213.9 L1150.0,1213.9 L1149.0,1213.9 L1148.0,1213.9 L1147.0,1213.9 L1146.0,1213.9 L1145.0,1213.9 L1144.0,1213.9 L1143.0,1213.9 L1142.0,1213.9 L1141.0,1213.9 L1140.0,1213.9 L1139.0,1213.9 L1138.0,1213.9 L1137.0,1213.9 L1136.0,1213.9 L1135.0,1213.9 L1134.0,1213.9 L1133.0,1213.9 L1132.0,1213.9 L1131.0,1213.9 L1130.0,1213.9 L1129.0,1213.9 L1128.0,1213.9 L1127.0,1213.9 L1126.0,1213.9 L1125.0,1213.9 L1124.0,1213.9 L1123.0,1213.9 L1122.0,1213.9 L1121.0,1213.9 L1120.0,1213.9 L1119.0,1213.9 L1118.0,1213.9 L1117.0,1213.9 L1116.0,1213.9 L1115.0,1213.9 L1114.0,1213.9 L1113.0,1213.9 L1112.0,1213.9 L1111.0,1213.9 L1110.0,1213.9 L1109.0,1213.9 L1108.0,1213.9 L1107.0,1213.9 L1106.0,1213.9 L1105.0,1213.9 L1104.0,1213.9 L1103.0,1213.9 L1102.0,1213.9 L1101.0,1213.9 L1100.0,1213.9 L1099.0,1213.9 L1098.0,1213.9 L1097.0,1213.9 L1096.0,1213.9 L1095.0,1213.9 L1094.0,1213.9 L1093.0,1213.9 L1092.0,1213.9 L1091.0,1213.9 L1090.0,1213.9 L1089.0,1213.9 L1088.0,1213.9 L1087.0,1213.9 L1086.0,1213.9 L1085.0,1213.9 L1084.0,1213.9 L1083.0,1213.9 L1082.0,1213.9 L1081.0,1213.9 L1080.0,1213.9 L1079.0,1213.9 L1078.0,1213.9 L1077.0,1213.9 L1076.0,1213.9 L1075.0,1213.9 L1074.0,1213.9 L1073.0,1213.9 L1072.0,1213.9 L1071.0,1213.9 L1070.0,1213.9 L1069.0,1213.9 L1068.0,1213.9 L1067.0,1213.9 L1066.0,1213.9 L1065.0,1213.9 L1064.0,1213.9 L1063.0,1213.9 L1062.0,1213.9 L1061.0,1213.9 L1060.0,1213.9 L1059.0,1213.9 L1058.0,1213.9 L1057.0,1213.9 L1056.0,1213.9 L1055.0,1213.9 L1054.0,1213.9 L1053.0,1213.9 L1052.0,1213.9 L1051.0,1213.9 L1050.0,1213.9 L1049.0,1213.9 L1048.0,1213.9 L1047.0,1213.9 L1046.0,1213.9 L1045.0,1213.9 L1044.0,1213.9 L1043.0,1213.9 L1042.0,1213.9 L1041.0,1213.9 L1040.0,1213.9 L1039.0,1213.9 L1038.0,1213.9 L1037.0,1213.9 L1036.0,1213.9 L1035.0,1213.9 L1034.0,1213.9 L1033.0,1213.9 L1032.0,1213.9 L1031.0,1213.9 L1030.0,1213.9 L1029.0,1213.9 L1028.0,1213.9 L1027.0,1213.9 L1026.0,1213.9 L1025.0,1213.9 L1024.0,1213.9 L1023.0,1213.9 L1022.0,1213.9 L1021.0,1213.9 L1020.0,1213.9 L1019.0,1213.9 L1018.0,1213.9 L1017.0,1213.9 L1016.0,1213.9 L1015.0,1213.9 L1014.0,1213.9 L1013.0,1213.9 L1012.0,1213.9 L1011.0,1213.9 L1010.0,1213.9 L1009.0,1213.9 L1008.0,1213.9 L1007.0,1213.9 L1006.0,1213.9 L1005.0,1213.9 L1004.0,1213.9 L1003.0,1213.9 L1002.0,1213.9 L1001.0,1213.9 L1000.0,1213.9 L999.0,1213.9 L998.0,1213.9 L997.0,1213.9 L996.0,1213.9 L995.0,1213.9 L994.0,1213.9 L993.0,1213.9 L992.0,1213.9 L991.0,1213.9 L990.0,1213.9 L989.0,1213.9 L988.0,1213.9 L987.0,1213.9 L986.0,1213.9 L985.0,1213.9 L984.0,1213.9 L983.0,1213.9 L982.0,1213.9 L981.0,1213.9 L980.0,1213.9 L979.0,1213.9 L978.0,1213.9 L977.0,1213.9 L976.0,1213.9 L975.0,1213.9 L974.0,1213.9 L973.0,1213.9 L972.0,1213.9 L971.0,1213.9 L970.0,1213.9 L969.0,1213.9 L968.0,1213.9 L967.0,1213.9 L966.0,1213.9 L965.0,1213.9 L964.0,1213.8 L963.0,1213.8 L962.0,1213.8 L961.0,1104.7 L960.0,650.8 L959.0,339.9 L958.0,205.8 L957.0,147.9 L956.0,120.6 L955.0,106.4 L954.0,98.5 L953.0,93.8 L952.0,90.9 L951.0,89.1 L950.0,90.9 L949.0,93.8 L948.0,98.5 L947.0,106.4 L946.0,120.6 L945.0,147.9 L944.0,205.8 L943.0,339.9 L942.0,650.8 L941.0,1104.7 L940.0,1213.8 L939.0,1213.8 L938.0,1213.8 L937.0,1213.9 L936.0,1213.9 L935.0,1213.9 L934.0,1213.9 L933.0,1213.9 L932.0,1213.9 L931.0,1213.9 L930.0,1213.9 L929.0,1213.9 L928.0,1213.9 L927.0,1213.9 L926.0,1213.9 L925.0,1213.9 L924.0,1213.9 L923.0,1213.9 L922.0,1213.9 L921.0,1213.9 L920.0,1213.9 L919.0,1213.9 L918.0,1213.9 L917.0,1213.9 L916.0,1213.9 L915.0,1213.9 L914.0,1213.9 L913.0,1213.9 L912.0,1213.9 L911.0,1213.9 L910.0,1213.9 L909.0,1213.9 L908.0,1213.9 L907.0,1213.9 L906.0,1213.9 L905.0,1213.9 L904.0,1213.9 L903.0,1213.9 L902.0,1213.9 L901.0,1213.9 L900.0,1213.9 L899.0,1213.9 L898.0,1213.9 L897.0,1213.9 L896.0,1213.9 L895.0,1213.9 L894.0,1213.9 L893.0,1213.9 L892.0,1213.9 L891.0,1213.9 L890.0,1213.9 L889.0,1213.9 L888.0,1213.9 L887.0,1213.9 L886.0,1213.9 L885.0,1213.9 L884.0,1213.9 L883.0,1213.9 L882.0,1213.9 L881.0,1213.9 L880.0,1213.9 L879.0,1213.9 L878.0,1213.9 L877.0,1213.9 L876.0,1213.9 L875.0,1213.9 L874.0,1213.9 L873.0,1213.9 L872.0,1213.9 L871.0,1213.9 L870.0,1213.9 L869.0,1213.9 L868.0,1213.9 L867.0,1213.9 L866.0,1213.9 L865.0,1213.9 L864.0,1213.9 L863.0,1213.9 L862.0,1213.9 L861.0,1213.9 L860.0,1213.9 L859.0,1213.9 L858.0,1213.9 L857.0,1213.9 L856.0,1213.9 L855.0,1213.9 L854.0,1213.9 L853.0,1213.9 L852.0,1213.9 L851.0,1213.9 L850.0,1213.9 L849.0,1213.9 L848.0,1213.9 L847.0,1213.9 L846.0,1213.9 L845.0,1213.9 L844.0,1213.9 L843.0,1213.9 L842.0,1213.9 L841.0,1213.9 L840.0,1213.9 L839.0,1213.9 L838.0,1213.9 L837.0,1213.9 L836.0,1213.9 L835.0,1213.9 L834.0,1213.9 L833.0,1213.9 L832.0,1213.9 L831.0,1213.9 L830.0,1213.9 L829.0,1213.9 L828.0,1213.9 L827.0,1213.9 L826.0,1213.9 L825.0,1213.9 L824.0,1213.9 L823.0,1213.9 L822.0,1213.9 L821.0,1213.9 L820.0,1213.9 L819.0,1213.9 L818.0,1213.9 L817.0,1213.9 L816.0,1213.9 L815.0,1213.9 L814.0,1213.9 L813.0,1213.9 L812.0,1213.9 L811.0,1213.9 L810.0,1213.9 L809.0,1213.9 L808.0,1213.9 L807.0,1213.9 L806.0,1213.9 L805.0,1213.9 L804.0,1213.9 L803.0,1213.9 L802.0,1213.9 L801.0,1213.9 L800.0,1213.9 L799.0,1213.9 L798.0,1213.9 L797.0,1213.9 L796.0,1213.9 L795.0,1213.9 L794.0,1213.9 L793.0,1213.9 L792.0,1213.9 L791.0,1213.9 L790.0,1213.9 L789.0,1213.9 L788.0,1213.9 L787.0,1213.9 L786.0,1213.9 L785.0,1213.9 L784.0,1213.9 L783.0,1213.9 L782.0,1213.9 L781.0,1213.9 L780.0,1213.9 L779.0,1213.9 L778.0,1213.9 L777.0,1213.9 L776.0,1213.9 L775.0,1213.9 L774.0,1213.9 L773.0,1213.9 L772.0,1213.9 L771.0,1213.9 L770.0,1213.9 L769.0,1213.9 L768.0,1213.9 L767.0,1213.9 L766.0,1213.9 L765.0,1213.9 L764.0,1213.9 L763.0,1213.9 L762.0,1213.9 L761.0,1213.9 L760.0,1213.9 L759.0,1213.9 L758.0,1213.9 L757.0,1213.9 L756.0,1213.9 L755.0,1213.9 L754.0,1213.9 L753.0,1213.9 L752.0,1213.9 L751.0,1213.9 L750.0,1213.9 L749.0,1213.9 L748.0,1213.9 L747.0,1213.9 L746.0,1213.9 L745.0,1213.9 L744.0,1213.9 L743.0,1213.9 L742.0,1213.9 L741.0,1213.9 L740.0,1213.9 L739.0,1213.9 L738.0,1213.9 L737.0,1213.9 L736.0,1213.9 L735.0,1213.9 L734.0,1213.9 L733.0,1213.9 L732.0,1213.9 L731.0,1213.9 L730.0,1213.9 L729.0,1213.9 L728.0,1213.9 L727.0,1213.9 L726.0,1213.9 L725.0,1213.9 L724.0,1213.9 L723.0,1213.9 L722.0,1213.9 L721.0,1213.9 L720.0,1213.9 L719.0,1213.9 L718.0,1213.9 L717.0,1213.9 L716.0,1213.9 L715.0,1213.9 L714.0,1213.9 L713.0,1213.9 L712.0,1213.9 L711.0,1213.9 L710.0,1213.9 L709.0,1213.9 L708.0,1213.9 L707.0,1213.9 L706.0,1213.9 L705.0,1213.9 L704.0,1213.9 L703.0,1213.9 L702.0,1213.9 L701.0,1213.9 L700.0,1213.9 L699.0,1213.9 L698.0,1213.9 L697.0,1213.9 L696.0,1213.9 L695.0,1213.9 L694.0,1213.9 L693.0,1213.9 L692.0,1213.9 L691.0,1213.9 L690.0,1213.9 L689.0,1213.9 L688.0,1213.9 L687.0,1213.9 L686.0,1213.9 L685.0,1213.9 L684.0,1213.9 L683.0,1213.9 L682.0,1213.9 L681.0,1213.9 L680.0,1213.9 L679.0,1213.9 L678.0,1213.9 L677.0,1213.9 L676.0,1213.9 L675.0,1213.9 L674.0,1213.9 L673.0,1213.9 L672.0,1213.9 L671.0,1213.9 L670.0,1213.9 L669.0,1213.9 L668.0,1213.9 L667.0,1213.9 L666.0,1213.9 L665.0,1213.9 L664.0,1213.9 L663.0,1213.9 L662.0,1213.9 L661.0,1213.9 L660.0,1213.9 L659.0,1213.9 L658.0,1213.9 L657.0,1213.9 L656.0,1213.9 L655.0,1213.9 L654.0,1213.9 L653.0,1213.9 L652.0,1213.9 L651.0,1213.9 L650.0,1213.9 L649.0,1213.9 L648.0,1213.9 L647.0,1213.9 L646.0,1213.9 L645.0,1213.9 L644.0,1213.9 L643.0,1213.9 L642.0,1213.9 L641.0,1213.9 L640.0,1213.9 L639.0,1213.9 L638.0,1213.9 L637.0,1213.9 L636.0,1213.9 L635.0,1213.9 L634.0,1213.9 L633.0,1213.9 L632.0,1213.9 L631.0,1213.9 L630.0,1213.9 L629.0,1213.9 L628.0,1213.9 L627.0,1213.9 L626.0,1213.9 L625.0,1213.9 L624.0,1213.9 L623.0,1213.9 L622.0,1213.9 L621.0,1213.9 L620.0,1213.9 L619.0,1213.9 L618.0,1213.9 L617.0,1213.9 L616.0,1213.9 L615.0,1213.9 L614.0,1213.9 L613.0,1213.9 L612.0,1213.9 L611.0,1213.9 L610.0,1213.9 L609.0,1213.9 L608.0,1213.9 L607.0,1213.9 L606.0,1213.9 L605.0,1213.9 L604.0,1213.9 L603.0,1213.9 L602.0,1213.9 L601.0,1213.9 L600.0,1213.9 L599.0,1213.9 L598.0,1213.9 L597.0,1213.9 L596.0,1213.9 L595.0,1213.9 L594.0,1213.9 L593.0,1213.9 L592.0,1213.9 L591.0,1213.9 L590.0,1213.9 L589.0,1213.9 L588.0,1213.9 L587.0,1213.9 L586.0,1213.9 L585.0,1213.9 L584.0,1213.9 L583.0,1213.9 L582.0,1213.9 L581.0,1213.9 L580.0,1213.9 L579.0,1213.9 L578.0,1213.9 L577.0,1213.9 L576.0,1213.9 L575.0,1213.9 L574.0,1213.9 L573.0,1213.9 L572.0,1213.9 L571.0,1213.9 L570.0,1213.9 L569.0,1213.9 L568.0,1213.9 L567.0,1213.9 L566.0,1213.9 L565.0,1213.9 L564.0,1213.9 L563.0,1213.9 L562.0,1213.9 L561.0,1213.9 L560.0,1213.9 L559.0,1213.9 L558.0,1213.9 L557.0,1213.9 L556.0,1213.9 L555.0,1213.9 L554.0,1213.9 L553.0,1213.9 L552.0,1213.9 L551.0,1213.9 L550.0,1213.9 L549.0,1213.9 L548.0,1213.9 L547.0,1213.9 L546.0,1213.9 L545.0,1213.9 L544.0,1213.9 L543.0,1213.9 L542.0,1213.9 L541.0,1213.9 L540.0,1213.9 L539.0,1213.9 L538.0,1213.9 L537.0,1213.9 L536.0,1213.9 L535.0,1213.9 L534.0,1213.9 L533.0,1213.9 L532.0,1213.9 L531.0,1213.9 L530.0,1213.9 L529.0,1213.9 L528.0,1213.9 L527.0,1213.9 L526.0,1213.9 L525.0,1213.9 L524.0,1213.9 L523.0,1213.9 L522.0,1213.9 L521.0,1213.9 L520.0,1213.9 L519.0,1213.9 L518.0,1213.9 L517.0,1213.9 L516.0,1213.9 L515.0,1213.9 L514.0,1213.9 L513.0,1213.9 L512.0,1213.9 L511.0,1213.9 L510.0,1213.9 L509.0,1213.9 L508.0,1213.9 L507.0,1213.9 L506.0,1213.9 L505.0,1213.9 L504.0,1213.9 L503.0,1213.9 L502.0,1213.9 L501.0,1213.9 L500.0,1213.9 L499.0,1213.9 L498.0,1213.9 L497.0,1213.9 L496.0,1213.9 L495.0,1213.9 L494.0,1213.9 L493.0,1213.9 L492.0,1213.9 L491.0,1213.9 L490.0,1213.9 L489.0,1213.9 L488.0,1213.9 L487.0,1213.9 L486.0,1213.9 L485.0,1213.9 L484.0,1213.9 L483.0,1213.9 L482.0,1213.9 L481.0,1213.9 L480.0,1213.9 L479.0,1213.9 L478.0,1213.9 L477.0,1213.9 L476.0,1213.9 L475.0,1213.9 L474.0,1213.9 L473.0,1213.9 L472.0,1213.9 L471.0,1213.9 L470.0,1213.9 L469.0,1213.9 L468.0,1213.9 L467.0,1213.9 L466.0,1213.9 L465.0,1213.9 L464.0,1213.9 L463.0,1213.9 L462.0,1213.9 L461.0,1213.9 L460.0,1213.9 L459.0,1213.9 L458.0,1213.9 L457.0,1213.9 L456.0,1213.9 L455.0,1213.9 L454.0,1213.9 L453.0,1213.9 L452.0,1213.9 L451.0,1213.9 L450.0,1213.9 L449.0,1213.9 L448.0,1213.9 L447.0,1213.9 L446.0,1213.9 L445.0,1213.9 L444.0,1213.9 L443.0,1213.9 L442.0,1213.9 L441.0,1213.9 L440.0,1213.9 L439.0,1213.9 L438.0,1213.9 L437.0,1213.9 L436.0,1213.9 L435.0,1213.9 L434.0,1213.9 L433.0,1213.9 L432.0,1213.9 L431.0,1213.9 L430.0,1213.9 L429.0,1213.9 L428.0,1213.9 L427.0,1213.9 L426.0,1213.9 L425.0,1213.9 L424.0,1213.9 L423.0,1213.9 L422.0,1213.9 L421.0,1213.9 L420.0,1213.9 L419.0,1213.9 L418.0,1213.9 L417.0,1213.9 L416.0,1213.9 L415.0,1213.9 L414.0,1213.9 L413.0,1213.9 L412.0,1213.9 L411.0,1213.9 L410.0,1213.9 L409.0,1213.9 L408.0,1213.9 L407.0,1213.9 L406.0,1213.9 L405.0,1213.9 L404.0,1213.9 L403.0,1213.9 L402.0,1213.9 L401.0,1213.9 L400.0,1213.9 L399.0,1213.9 L398.0,1213.9 L397.0,1213.9 L396.0,1213.9 L395.0,1213.9 L394.0,1213.9 L393.0,1213.9 L392.0,1213.9 L391.0,1213.9 L390.0,1213.9 L389.0,1213.9 L388.0,1213.9 L387.0,1213.9 L386.0,1213.9 L385.0,1213.9 L384.0,1213.9 L383.0,1213.9 L382.0,1213.9 L381.0,1213.9 L380.0,1213.9 L379.0,1213.9 L378.0,1213.9 L377.0,1213.9 L376.0,1213.9 L375.0,1213.9 L374.0,1213.9 L373.0,1213.9 L372.0,1213.9 L371.0,1213.9 L370.0,1213.9 L369.0,1213.9 L368.0,1213.9 L367.0,1213.9 L366.0,1213.9 L365.0,1213.9 L364.0,1213.9 L363.0,1213.9 L362.0,1213.9 L361.0,1213.9 L360.0,1213.9 L359.0,1213.9 L358.0,1213.9 L357.0,1213.9 L356.0,1213.9 L355.0,1213.9 L354.0,1213.9 L353.0,1213.9 L352.0,1213.9 L351.0,1213.9 L350.0,1213.9 L349.0,1213.9 L348.0,1213.9 L347.0,1213.9 L346.0,1213.9 L345.0,1213.9 L344.0,1213.9 L343.0,1213.9 L342.0,1213.9 L341.0,1213.9 L340.0,1213.9 L339.0,1213.9 L338.0,1213.9 L337.0,1213.9 L336.0,1213.9 L335.0,1213.9 L334.0,1213.9 L333.0,1213.9 L332.0,1213.9 L331.0,1213.9 L330.0,1213.9 L329.0,1213.9 L328.0,1213.9 L327.0,1213.9 L326.0,1213.9 L325.0,1213.9 L324.0,1213.9 L323.0,1213.9 L322.0,1213.9 L321.0,1213.9 L320.0,1213.9 L319.0,1213.9 L318.0,1213.9 L317.0,1213.9 L316.0,1213.9 L315.0,1213.9 L314.0,1213.9 L313.0,1213.9 L312.0,1213.9 L311.0,1213.9 L310.0,1213.9 L309.0,1213.9 L308.0,1213.9 L307.0,1213.9 L306.0,1213.9 L305.0,1213.9 L304.0,1213.9 L303.0,1213.9 L302.0,1213.9 L301.0,1213.9 L300.0,1213.9 L299.0,1213.9 L298.0,1213.9 L297.0,1213.9 L296.0,1213.9 L295.0,1213.9 L294.0,1213.9 L293.0,1213.9 L292.0,1213.9 L291.0,1213.9 L290.0,1213.9 L289.0,1213.9 L288.0,1213.9 L287.0,1213.9 L286.0,1213.9 L285.0,1213.9 L284.0,1213.9 L283.0,1213.9 L282.0,1213.9 L281.0,1213.9 L280.0,1213.9 L279.0,1213.9 L278.0,1213.9 L277.0,1213.9 L276.0,1213.9 L275.0,1213.9 L274.0,1213.9Z" fill="#0000ff"/>
<path d="M274.0,1206.1 L275.0,1206.1 L276.0,1206.1 L277.0,1206.1 L278.0,1206.1 L279.0,1206.1 L280.0,1206.1 L281.0,1206.1 L282.0,1206.1 L283.0,1206.1 L284.0,1206.1 L285.0,1206.1 L286.0,1206.1 L287.0,1206.1 L288.0,1206.1 L289.0,1206.1 L290.0,1206.1 L291.0,1206.1 L292.0,1206.1 L293.0,1206.1 L294.0,1206.1 L295.0,1206.1 L296.0,1206.1 L297.0,1206.1 L298.0,1206.1 L299.0,1206.1 L300.0,1206.1 L301.0,1206.1 L302.0,1206.1 L303.0,1206.1 L304.0,1206.1 L305.0,1206.1 L306.0,1206.1 L307.0,1206.1 L308.0,1206.1 L309.0,1206.1 L310.0,1206.1 L311.0,1206.1 L312.0,1206.1 L313.0,1206.1 L314.0,1206.1 L315.0,1206.1 L316.0,1206.1 L317.0,1206.1 L318.0,1206.1 L319.0,1206.1 L320.0,1206.1 L321.0,1206.1 L322.0,1206.1 L323.0,1206.1 L324.0,1206.1 L325.0,1206.1 L326.0,1206.1 L327.0,1206.1 L328.0,1206.1 L329.0,1206.1 L330.0,1206.1 L331.0,1206.1 L332.0,1206.1 L333.0,1206.1 L334.0,1206.1 L335.0,1206.1 L336.0,1206.1 L337.0,1206.1 L338.0,1206.1 L339.0,1206.1 L340.0,1206.1 L341.0,1206.1 L342.0,1206.1 L343.0,1206.1 L344.0,1206.1 L345.0,1206.1 L346.0,1206.1 L347.0,1206.1 L348.0,1206.1 L349.0,1206.1 L350.0,1206.1 L351.0,1206.1 L352.0,1206.1 L353.0,1206.1 L354.0,1206.1 L355.0,1206.0 L356.0,1206.0 L357.0,1206.0 L358.0,1206.0 L359.0,1206.0 L360.0,1206.0 L361.0,1206.0 L362.0,1206.1 L363.0,1206.1 L364.0,1206.0 L365.0,1206.0 L366.0,1206.0 L367.0,1206.0 L368.0,1206.0 L369.0,1206.0 L370.0,1206.0 L371.0,1206.0 L372.0,1206.1 L373.0,1206.0 L374.0,1206.0 L375.0,1206.0 L376.0,1206.0 L377.0,1206.0 L378.0,1206.0 L379.0,1206.0 L380.0,1206.0 L381.0,1206.1 L382.0,1206.1 L383.0,1206.0 L384.0,1206.0 L385.0,1206.0 L386.0,1206.0 L387.0,1206.0 L388.0,1206.0 L389.0,1206.0 L390.0,1206.0 L391.0,1206.1 L392.0,1206.0 L393.0,1206.0 L394.0,1206.0 L395.0,1206.0 L396.0,1206.0 L397.0,1206.0 L398.0,1206.0 L399.0,1206.0 L400.0,1206.0 L401.0,1206.1 L402.0,1206.0 L403.0,1206.0 L404.0,1206.0 L405.0,1206.0 L406.0,1206.0 L407.0,1206.0 L408.0,1206.0 L409.0,1206.0 L410.0,1206.1 L411.0,1206.0 L412.0,1206.0 L413.0,1206.0 L414.0,1206.0 L415.0,1206.0 L416.0,1206.0 L417.0,1206.0 L418.0,1206.0 L419.0,1206.0 L420.0,1206.1 L421.0,1206.0 L422.0,1206.0 L423.0,1206.0 L424.0,1206.0 L425.0,1206.0 L426.0,1206.0 L427.0,1206.0 L428.0,1206.0 L429.0,1206.0 L430.0,1206.0 L431.0,1206.0 L432.0,1206.0 L433.0,1206.0 L434.0,1206.0 L435.0,1206.0 L436.0,1206.0 L437.0,1206.0 L438.0,1206.0 L439.0,1206.1 L440.0,1206.0 L441.0,1206.0 L442.0,1206.0 L443.0,1206.0 L444.0,1206.0 L445.0,1206.0 L446.0,1206.0 L447.0,1206.0 L448.0,1206.0 L449.0,1206.0 L450.0,1206.0 L451.0,1205.9 L452.0,1205.9 L453.0,1205.9 L454.0,1205.9 L455.0,1205.9 L456.0,1205.9 L457.0,1206.0 L458.0,1206.0 L459.0,1206.0 L460.0,1205.9 L461.0,1205.9 L462.0,1205.9 L463.0,1205.9 L464.0,1205.9 L465.0,1205.9 L466.0,1205.9 L467.0,1206.0 L468.0,1206.0 L469.0,1205.9 L470.0,1205.9 L471.0,1205.9 L472.0,1205.9 L473.0,1205.9 L474.0,1205.9 L475.0,1205.9 L476.0,1205.9 L477.0,1206.0 L478.0,1206.0 L479.0,1205.9 L480.0,1205.9 L481.0,1205.9 L482.0,1205.9 L483.0,1205.9 L484.0,1205.9 L485.0,1205.9 L486.0,1205.9 L487.0,1206.0 L488.0,1205.9 L489.0,1205.9 L490.0,1205.9 L491.0,1205.9 L492.0,1205.9 L493.0,1205.9 L494.0,1205.9 L495.0,1205.9 L496.0,1205.9 L497.0,1206.0 L498.0,1205.9 L499.0,1205.9 L500.0,1205.9 L501.0,1205.9 L502.0,1205.9 L503.0,1205.9 L504.0,1205.9 L505.0,1205.9 L506.0,1206.0 L507.0,1205.9 L508.0,1205.8 L509.0,1205.8 L510.0,1205.8 L511.0,1205.8 L512.0,1205.8 L513.0,1205.8 L514.0,1205.8 L515.0,1205.9 L516.0,1205.9 L517.0,1205.8 L518.0,1205.8 L519.0,1205.8 L520.0,1205.8 L521.0,1205.8 L522.0,1205.8 L523.0,1205.8 L524.0,1205.8 L525.0,1205.9 L526.0,1205.9 L527.0,1205.8 L528.0,1205.8 L529.0,1205.8 L530.0,1205.8 L531.0,1205.8 L532.0,1205.8 L533.0,1205.8 L534.0,1205.8 L535.0,1205.9 L536.0,1205.8 L537.0,1205.8 L538.0,1205.8 L539.0,1205.8 L540.0,1205.8 L541.0,1205.8 L542.0,1205.8 L543.0,1205.8 L544.0,1205.9 L545.0,1205.9 L546.0,1205.8 L547.0,1205.8 L548.0,1205.8 L549.0,1205.8 L550.0,1205.8 L551.0,1205.8 L552.0,1205.8 L553.0,1205.8 L554.0,1205.9 L555.0,1205.8 L556.0,1205.7 L557.0,1205.7 L558.0,1205.7 L559.0,1205.7 L560.0,1205.7 L561.0,1205.7 L562.0,1205.7 L563.0,1205.8 L564.0,1205.8 L565.0,1205.7 L566.0,1205.7 L567.0,1205.7 L568.0,1205.7 L569.0,1205.7 L570.0,1205.7 L571.0,1205.7 L572.0,1205.7 L573.0,1205.8 L574.0,1205.8 L575.0,1205.7 L576.0,1205.7 L577.0,1205.7 L578.0,1205.7 L579.0,1205.7 L580.0,1205.7 L581.0,1205.7 L582.0,1205.7 L583.0,1205.8 L584.0,1205.7 L585.0,1205.7 L586.0,1205.7 L587.0,1205.7 L588.0,1205.7 L589.0,1205.7 L590.0,1205.7 L591.0,1205.7 L592.0,1205.8 L593.0,1205.7 L594.0,1205.6 L595.0,1205.6 L596.0,1205.6 L597.0,1205.6 L598.0,1205.6 L599.0,1205.6 L600.0,1205.6 L601.0,1205.7 L602.0,1205.8 L603.0,1205.6 L604.0,1205.6 L605.0,1205.6 L606.0,1205.6 L607.0,1205.6 L608.0,1205.6 L609.0,1205.6 L610.0,1205.6 L611.0,1205.7 L612.0,1205.7 L613.0,1205.6 L614.0,1205.6 L615.0,1205.6 L616.0,1205.6 L617.0,1205.6 L618.0,1205.6 L619.0,1205.6 L620.0,1205.6 L621.0,1205.7 L622.0,1205.6 L623.0,1205.5 L624.0,1205.5 L625.0,1205.5 L626.0,1205.5 L627.0,1205.5 L628.0,1205.5 L629.0,1205.5 L630.0,1205.6 L631.0,1205.7 L632.0,1205.5 L633.0,1205.5 L634.0,1205.5 L635.0,1205.5 L636.0,1205.5 L637.0,1205.5 L638.0,1205.5 L639.0,1205.5 L640.0,1205.6 L641.0,1205.5 L642.0,1205.4 L643.0,1205.4 L644.0,1205.4 L645.0,1205.4 L646.0,1205.4 L647.0,1205.4 L648.0,1205.4 L649.0,1205.5 L650.0,1205.6 L651.0,1205.4 L652.0,1205.4 L653.0,1205.4 L654.0,1205.4 L655.0,1205.4 L656.0,1205.4 L657.0,1205.4 L658.0,1205.4 L659.0,1205.5 L660.0,1205.5 L661.0,1205.3 L662.0,1205.3 L663.0,1205.3 L664.0,1205.3 L665.0,1205.3 L666.0,1205.3 L667.0,1205.3 L668.0,1205.4 L669.0,1205.6 L670.0,1205.3 L671.0,1205.3 L672.0,1205.3 L673.0,1205.3 L674.0,1205.3 L675.0,1205.3 L676.0,1205.3 L677.0,1205.3 L678.0,1205.4 L679.0,1205.4 L680.0,1205.2 L681.0,1205.2 L682.0,1205.2 L683.0,1205.2 L684.0,1205.2 L685.0,1205.2 L686.0,1205.2 L687.0,1205.2 L688.0,1205.5 L689.0,1205.2 L690.0,1205.1 L691.0,1205.1 L692.0,1205.1 L693.0,1205.1 L694.0,1205.1 L695.0,1205.1 L696.0,1205.1 L697.0,1205.2 L698.0,1205.4 L699.0,1205.1 L700.0,1205.0 L701.0,1205.0 L702.0,1205.0 L703.0,1205.0 L704.0,1205.0 L705.0,1205.0 L706.0,1205.1 L707.0,1205.3 L708.0,1205.1 L709.0,1204.9 L710.0,1204.9 L711.0,1204.9 L712.0,1204.9 L713.0,1204.9 L714.0,1204.9 L715.0,1204.9 L716.0,1205.0 L717.0,1205.3 L718.0,1204.9 L719.0,1204.8 L720.0,1204.8 L721.0,1204.8 L722.0,1204.8 L723.0,1204.8 L724.0,1204.8 L725.0,1204.9 L726.0,1205.1 L727.0,1205.0 L728.0,1204.7 L729.0,1204.7 L730.0,1204.7 L731.0,1204.7 L732.0,1204.7 L733.0,1204.7 L734.0,1204.7 L735.0,1204.8 L736.0,1205.2 L737.0,1204.8 L738.0,1204.6 L739.0,1204.6 L740.0,1204.6 L741.0,1204.6 L742.0,1204.6 L743.0,1204.6 L744.0,1204.6 L745.0,1204.8 L746.0,1204.9 L747.0,1204.5 L748.0,1204.5 L749.0,1204.5 L750.0,1204.5 L751.0,1204.5 L752.0,1204.5 L753.0,1204.5 L754.0,1204.5 L755.0,1204.9 L756.0,1204.5 L757.0,1204.3 L758.0,1204.3 L759.0,1204.3 L760.0,1204.3 L761.0,1204.3 L762.0,1204.3 L763.0,1204.3 L764.0,1204.5 L765.0,1204.7 L766.0,1204.2 L767.0,1204.1 L768.0,1204.1 L769.0,1204.1 L770.0,1204.1 L771.0,1204.1 L772.0,1204.1 L773.0,1204.2 L774.0,1204.5 L775.0,1204.3 L776.0,1203.9 L777.0,1203.9 L778.0,1203.9 L779.0,1203.9 L780.0,1203.9 L781.0,1203.9 L782.0,1203.9 L783.0,1204.1 L784.0,1204.5 L785.0,1203.8 L786.0,1203.7 L787.0,1203.7 L788.0,1203.7 L789.0,1203.7 L790.0,1203.7 L791.0,1203.7 L792.0,1203.7 L793.0,1204.1 L794.0,1203.9 L795.0,1203.4 L796.0,1203.4 L797.0,1203.4 L798.0,1203.4 L799.0,1203.4 L800.0,1203.4 L801.0,1203.4 L802.0,1203.5 L803.0,1204.2 L804.0,1203.4 L805.0,1203.1 L806.0,1203.1 L807.0,1203.1 L808.0,1203.1 L809.0,1203.1 L810.0,1203.1 L811.0,1203.1 L812.0,1203.5 L813.0,1203.5 L814.0,1202.8 L815.0,1202.7 L816.0,1202.7 L817.0,1202.7 L818.0,1202.7 L819.0,1202.7 L820.0,1202.7 L821.0,1202.8 L822.0,1203.5 L823.0,1202.7 L824.0,1202.3 L825.0,1202.3 L826.0,1202.3 L827.0,1202.3 L828.0,1202.3 L829.0,1202.3 L830.0,1202.3 L831.0,1202.6 L832.0,1202.9 L833.0,1201.9 L834.0,1201.7 L835.0,1201.7 L836.0,1201.7 L837.0,1201.7 L838.0,1201.7 L839.0,1201.7 L840.0,1201.8 L841.0,1202.6 L842.0,1201.8 L843.0,1201.1 L844.0,1201.1 L845.0,1201.1 L846.0,1201.1 L847.0,1201.1 L848.0,1201.1 L849.0,1201.1 L850.0,1201.4 L851.0,1202.0 L852.0,1200.6 L853.0,1200.3 L854.0,1200.3 L855.0,1200.3 L856.0,1200.3 L857.0,1200.3 L858.0,1200.3 L859.0,1200.3 L860.0,1201.2 L861.0,1200.5 L862.0,1199.4 L863.0,1199.3 L864.0,1199.3 L865.0,1199.3 L866.0,1199.3 L867.0,1199.3 L868.0,1199.3 L869.0,1199.6 L870.0,1200.7 L871.0,1198.7 L872.0,1198.0 L873.0,1198.0 L874.0,1198.0 L875.0,1198.0 L876.0,1198.0 L877.0,1198.0 L878.0,1198.0 L879.0,1199.1 L880.0,1198.4 L881.0,1196.6 L882.0,1196.4 L883.0,1196.4 L884.0,1196.4 L885.0,1196.4 L886.0,1196.4 L887.0,1196.4 L888.0,1196.7 L889.0,1198.5 L890.0,1195.4 L891.0,1194.2 L892.0,1194.2 L893.0,1194.2 L894.0,1194.2 L895.0,1194.2 L896.0,1194.2 L897.0,1194.2 L898.0,1195.6 L899.0,1194.5 L900.0,1191.6 L901.0,1191.2 L902.0,1191.2 L903.0,1191.2 L904.0,1191.2 L905.0,1191.2 L906.0,1191.2 L907.0,1191.6 L908.0,1194.2 L909.0,1189.0 L910.0,1187.0 L911.0,1187.0 L912.0,1187.0 L913.0,1187.0 L914.0,1187.0 L915.0,1187.0 L916.0,1187.0 L917.0,1189.0 L918.0,1186.5 L919.0,1181.5 L920.0,1180.7 L921.0,1180.7 L922.0,1180.7 L923.0,1180.7 L924.0,1180.7 L925.0,1180.7 L926.0,1181.4 L927.0,1183.8 L928.0,1174.5 L929.0,1170.9 L930.0,1170.9 L931.0,1170.9 L932.0,1170.9 L933.0,1170.9 L934.0,1170.9 L935.0,1170.9 L936.0,1174.7 L937.0,1164.5 L938.0,1155.2 L939.0,1154.2 L940.0,1154.2 L941.0,1154.2 L942.0,1154.2 L943.0,1154.2 L944.0,1154.2 L945.0,1156.1 L946.0,1147.0 L947.0,1127.6 L948.0,1122.5 L949.0,1122.5 L950.0,1122.5 L951.0,1122.5 L952.0,1122.5 L953.0,1122.5 L954.0,1123.0 L955.0,1104.9 L956.0,1065.9 L957.0,1052.4 L958.0,1052.4 L959.0,1052.4 L960.0,1052.4 L961.0,1052.4 L962.0,1052.4 L963.0,1052.5 L964.0,944.7 L965.0,871.9 L966.0,857.9 L967.0,857.9 L968.0,857.9 L969.0,857.9 L970.0,831.4 L971.0,430.2 L972.0,240.0 L973.0,159.8 L974.0,123.3 L975.0,105.1 L976.0,95.2 L977.0,89.4 L978.0,85.9 L979.0,83.7 L980.0,82.4 L981.0,81.6 L982.0,81.3 L983.0,81.3 L984.0,81.3 L985.0,81.3 L986.0,81.3 L987.0,81.3 L988.0,81.3 L989.0,81.3 L990.0,81.7 L991.0,82.6 L992.0,84.1 L993.0,86.5 L994.0,90.3 L995.0,96.7 L996.0,107.8 L997.0,128.7 L998.0,171.0 L999.0,266.0 L1000.0,491.8 L1001.0,857.9 L1002.0,857.9 L1003.0,857.9 L1004.0,857.9 L1005.0,857.9 L1006.0,882.0 L1007.0,965.0 L1008.0,1052.4 L1009.0,1052.4 L1010.0,1052.4 L1011.0,1052.4 L1012.0,1052.4 L1013.0,1052.4 L1014.0,1052.7 L1015.0,1072.1 L1016.0,1114.5 L1017.0,1122.5 L1018.0,1122.5 L1019.0,1122.5 L1020.0,1122.5 L1021.0,1122.5 L1022.0,1122.5 L1023.0,1122.5 L1024.0,1130.5 L1025.0,1152.1 L1026.0,1155.0 L1027.0,1154.2 L1028.0,1154.2 L1029.0,1154.2 L1030.0,1154.2 L1031.0,1154.2 L1032.0,1154.2 L1033.0,1156.3 L1034.0,1167.3 L1035.0,1173.4 L1036.0,1170.9 L1037.0,1170.9 L1038.0,1170.9 L1039.0,1170.9 L1040.0,1170.9 L1041.0,1170.9 L1042.0,1171.0 L1043.0,1176.0 L1044.0,1185.1 L1045.0,1181.0 L1046.0,1180.7 L1047.0,1180.7 L1048.0,1180.7 L1049.0,1180.7 L1050.0,1180.7 L1051.0,1180.7 L1052.0,1182.1 L1053.0,1187.9 L1054.0,1188.3 L1055.0,1187.0 L1056.0,1187.0 L1057.0,1187.0 L1058.0,1187.0 L1059.0,1187.0 L1060.0,1187.0 L1061.0,1187.1 L1062.0,1189.9 L1063.0,1193.8 L1064.0,1191.4 L1065.0,1191.2 L1066.0,1191.2 L1067.0,1191.2 L1068.0,1191.2 L1069.0,1191.2 L1070.0,1191.2 L1071.0,1192.0 L1072.0,1195.4 L1073.0,1195.1 L1074.0,1194.2 L1075.0,1194.2 L1076.0,1194.2 L1077.0,1194.2 L1078.0,1194.2 L1079.0,1194.2 L1080.0,1194.2 L1081.0,1195.9 L1082.0,1198.3 L1083.0,1196.5 L1084.0,1196.4 L1085.0,1196.4 L1086.0,1196.4 L1087.0,1196.4 L1088.0,1196.4 L1089.0,1196.4 L1090.0,1196.8 L1091.0,1198.9 L1092.0,1198.8 L1093.0,1198.0 L1094.0,1198.0 L1095.0,1198.0 L1096.0,1198.0 L1097.0,1198.0 L1098.0,1198.0 L1099.0,1198.0 L1100.0,1199.0 L1101.0,1200.8 L1102.0,1199.5 L1103.0,1199.3 L1104.0,1199.3 L1105.0,1199.3 L1106.0,1199.3 L1107.0,1199.3 L1108.0,1199.3 L1109.0,1199.5 L1110.0,1200.9 L1111.0,1201.0 L1112.0,1200.3 L1113.0,1200.3 L1114.0,1200.3 L1115.0,1200.3 L1116.0,1200.3 L1117.0,1200.3 L1118.0,1200.3 L1119.0,1200.8 L1120.0,1202.4 L1121.0,1201.3 L1122.0,1201.1 L1123.0,1201.1 L1124.0,1201.1 L1125.0,1201.1 L1126.0,1201.1 L1127.0,1201.1 L1128.0,1201.2 L1129.0,1202.1 L1130.0,1202.4 L1131.0,1201.7 L1132.0,1201.7 L1133.0,1201.7 L1134.0,1201.7 L1135.0,1201.7 L1136.0,1201.7 L1137.0,1201.7 L1138.0,1202.1 L1139.0,1203.2 L1140.0,1202.5 L1141.0,1202.3 L1142.0,1202.3 L1143.0,1202.3 L1144.0,1202.3 L1145.0,1202.3 L1146.0,1202.3 L1147.0,1202.3 L1148.0,1202.9 L1149.0,1203.3 L1150.0,1202.7 L1151.0,1202.7 L1152.0,1202.7 L1153.0,1202.7 L1154.0,1202.7 L1155.0,1202.7 L1156.0,1202.7 L1157.0,1202.9 L1158.0,1203.7 L1159.0,1203.3 L1160.0,1203.1 L1161.0,1203.1 L1162.0,1203.1 L1163.0,1203.1 L1164.0,1203.1 L1165.0,1203.1 L1166.0,1203.1 L1167.0,1203.5 L1168.0,1204.0 L1169.0,1203.5 L1170.0,1203.4 L1171.0,1203.4 L1172.0,1203.4 L1173.0,1203.4 L1174.0,1203.4 L1175.0,1203.4 L1176.0,1203.5 L1177.0,1204.1 L1178.0,1204.0 L1179.0,1203.7 L1180.0,1203.7 L1181.0,1203.7 L1182.0,1203.7 L1183.0,1203.7 L1184.0,1203.7 L1185.0,1203.7 L1186.0,1203.9 L1187.0,1204.5 L1188.0,1204.0 L1189.0,1203.9 L1190.0,1203.9 L1191.0,1203.9 L1192.0,1203.9 L1193.0,1203.9 L1194.0,1203.9 L1195.0,1204.0 L1196.0,1204.4 L1197.0,1204.4 L1198.0,1204.1 L1199.0,1204.1 L1200.0,1204.1 L1201.0,1204.1 L1202.0,1204.1 L1203.0,1204.1 L1204.0,1204.1 L1205.0,1204.3 L1206.0,1204.8 L1207.0,1204.4 L1208.0,1204.3 L1209.0,1204.3 L1210.0,1204.3 L1211.0,1204.3 L1212.0,1204.3 L1213.0,1204.3 L1214.0,1204.3 L1215.0,1204.6 L1216.0,1204.8 L1217.0,1204.5 L1218.0,1204.5 L1219.0,1204.5 L1220.0,1204.5 L1221.0,1204.5 L1222.0,1204.5 L1223.0,1204.5 L1224.0,1204.6 L1225.0,1205.0 L1226.0,1204.7 L1227.0,1204.6 L1228.0,1204.6 L1229.0,1204.6 L1230.0,1204.6 L1231.0,1204.6 L1232.0,1204.6 L1233.0,1204.6 L1234.0,1204.8 L1235.0,1205.1 L1236.0,1204.8 L1237.0,1204.7 L1238.0,1204.7 L1239.0,1204.7 L1240.0,1204.7 L1241.0,1204.7 L1242.0,1204.7 L1243.0,1204.8 L1244.0,1205.1 L1245.0,1205.0 L1246.0,1204.8 L1247.0,1204.8 L1248.0,1204.8 L1249.0,1204.8 L1250.0,1204.8 L1251.0,1204.8 L1252.0,1204.8 L1253.0,1205.0 L1254.0,1205.3 L1255.0,1205.0 L1256.0,1204.9 L1257.0,1204.9 L1258.0,1204.9 L1259.0,1204.9 L1260.0,1204.9 L1261.0,1204.9 L1262.0,1205.0 L1263.0,1205.2 L1264.0,1205.2 L1265.0,1205.0 L1266.0,1205.0 L1267.0,1205.0 L1268.0,1205.0 L1269.0,1205.0 L1270.0,1205.0 L1271.0,1205.0 L1272.0,1205.1 L1273.0,1205.4 L1274.0,1205.2 L1275.0,1205.1 L1276.0,1205.1 L1277.0,1205.1 L1278.0,1205.1 L1279.0,1205.1 L1280.0,1205.1 L1281.0,1205.1 L1282.0,1205.3 L1283.0,1205.4 L1284.0,1205.2 L1285.0,1205.2 L1286.0,1205.2 L1287.0,1205.2 L1288.0,1205.2 L1289.0,1205.2 L1290.0,1205.2 L1291.0,1205.2 L1292.0,1205.5 L1293.0,1205.4 L1294.0,1205.3 L1295.0,1205.3 L1296.0,1205.3 L1297.0,1205.3 L1298.0,1205.3 L1299.0,1205.3 L1300.0,1205.3 L1301.0,1205.4 L1302.0,1205.5 L1303.0,1205.3 L1304.0,1205.3 L1305.0,1205.3 L1306.0,1205.3 L1307.0,1205.3 L1308.0,1205.3 L1309.0,1205.3 L1310.0,1205.3 L1311.0,1205.5 L1312.0,1205.5 L1313.0,1205.4 L1314.0,1205.4 L1315.0,1205.4 L1316.0,1205.4 L1317.0,1205.4 L1318.0,1205.4 L1319.0,1205.4 L1320.0,1205.5 L1321.0,1205.7 L1322.0,1205.5 L1323.0,1205.4 L1324.0,1205.4 L1325.0,1205.4 L1326.0,1205.4 L1327.0,1205.4 L1328.0,1205.4 L1329.0,1205.4 L1330.0,1205.6 L1331.0,1205.6 L1332.0,1205.5 L1333.0,1205.5 L1334.0,1205.5 L1335.0,1205.5 L1336.0,1205.5 L1337.0,1205.5 L1338.0,1205.5 L1339.0,1205.5 L1340.0,1205.7 L1341.0,1205.6 L1342.0,1205.5 L1343.0,1205.5 L1344.0,1205.5 L1345.0,1205.5 L1346.0,1205.5 L1347.0,1205.5 L1348.0,1205.5 L1349.0,1205.6 L1350.0,1205.7 L1351.0,1205.6 L1352.0,1205.6 L1353.0,1205.6 L1354.0,1205.6 L1355.0,1205.6 L1356.0,1205.6 L1357.0,1205.6 L1358.0,1205.6 L1359.0,1205.7 L1360.0,1205.7 L1361.0,1205.6 L1362.0,1205.6 L1363.0,1205.6 L1364.0,1205.6 L1365.0,1205.6 L1366.0,1205.6 L1367.0,1205.6 L1368.0,1205.7 L1369.0,1205.8 L1370.0,1205.7 L1371.0,1205.6 L1372.0,1205.6 L1373.0,1205.6 L1374.0,1205.6 L1375.0,1205.6 L1376.0,1205.6 L1377.0,1205.6 L1378.0,1205.8 L1379.0,1205.7 L1380.0,1205.7 L1381.0,1205.7 L1382.0,1205.7 L1383.0,1205.7 L1384.0,1205.7 L1385.0,1205.7 L1386.0,1205.7 L1387.0,1205.7 L1388.0,1205.9 L1389.0,1205.7 L1390.0,1205.7 L1391.0,1205.7 L1392.0,1205.7 L1393.0,1205.7 L1394.0,1205.7 L1395.0,1205.7 L1396.0,1205.7 L1397.0,1205.8 L1398.0,1205.8 L1399.0,1205.7 L1400.0,1205.7 L1401.0,1205.7 L1402.0,1205.7 L1403.0,1205.7 L1404.0,1205.7 L1405.0,1205.7 L1406.0,1205.7 L1407.0,1205.9 L1408.0,1205.8 L1409.0,1205.7 L1410.0,1205.7 L1411.0,1205.7 L1412.0,1205.7 L1413.0,1205.7 L1414.0,1205.7 L1415.0,1205.7 L1416.0,1205.8 L1417.0,1205.9 L1418.0,1205.8 L1419.0,1205.8 L1420.0,1205.8 L1421.0,1205.8 L1422.0,1205.8 L1423.0,1205.8 L1424.0,1205.8 L1425.0,1205.8 L1426.0,1205.9 L1427.0,1205.8 L1428.0,1205.8 L1429.0,1205.8 L1430.0,1205.8 L1431.0,1205.8 L1432.0,1205.8 L1433.0,1205.8 L1434.0,1205.8 L1435.0,1205.8 L1436.0,1205.9 L1437.0,1205.8 L1438.0,1205.8 L1439.0,1205.8 L1440.0,1205.8 L1441.0,1205.8 L1442.0,1205.8 L1443.0,1205.8 L1444.0,1205.8 L1445.0,1205.9 L1446.0,1205.9 L1447.0,1205.8 L1448.0,1205.8 L1449.0,1205.8 L1450.0,1205.8 L1451.0,1205.8 L1452.0,1205.8 L1453.0,1205.8 L1454.0,1205.9 L1455.0,1206.0 L1456.0,1205.9 L1457.0,1205.8 L1458.0,1205.8 L1459.0,1205.8 L1460.0,1205.8 L1461.0,1205.8 L1462.0,1205.8 L1463.0,1205.9 L1464.0,1205.9 L1465.0,1205.9 L1466.0,1205.9 L1467.0,1205.9 L1468.0,1205.9 L1469.0,1205.9 L1470.0,1205.9 L1471.0,1205.9 L1472.0,1205.9 L1473.0,1205.9 L1474.0,1206.0 L1475.0,1205.9 L1476.0,1205.9 L1477.0,1205.9 L1478.0,1205.9 L1479.0,1205.9 L1480.0,1205.9 L1481.0,1205.9 L1482.0,1205.9 L1483.0,1205.9 L1484.0,1206.0 L1485.0,1205.9 L1486.0,1205.9 L1487.0,1205.9 L1488.0,1205.9 L1489.0,1205.9 L1490.0,1205.9 L1491.0,1205.9 L1492.0,1205.9 L1493.0,1206.0 L1494.0,1206.0 L1495.0,1205.9 L1496.0,1205.9 L1497.0,1205.9 L1498.0,1205.9 L1499.0,1205.9 L1500.0,1205.9 L1501.0,1205.9 L1502.0,1205.9 L1503.0,1206.0 L1504.0,1205.9 L1505.0,1205.9 L1506.0,1205.9 L1507.0,1205.9 L1508.0,1205.9 L1509.0,1205.9 L1510.0,1205.9 L1511.0,1205.9 L1512.0,1206.0 L1513.0,1206.0 L1514.0,1205.9 L1515.0,1205.9 L1516.0,1205.9 L1517.0,1205.9 L1518.0,1205.9 L1519.0,1205.9 L1520.0,1205.9 L1521.0,1206.0 L1522.0,1206.0 L1523.0,1206.0 L1524.0,1206.0 L1525.0,1206.0 L1526.0,1206.0 L1527.0,1206.0 L1528.0,1206.0 L1529.0,1206.0 L1530.0,1206.0 L1531.0,1206.0 L1532.0,1206.0 L1533.0,1206.0 L1534.0,1206.0 L1535.0,1206.0 L1536.0,1206.0 L1537.0,1206.0 L1538.0,1206.0 L1539.0,1206.0 L1540.0,1206.0 L1541.0,1206.0 L1542.0,1206.0 L1543.0,1206.0 L1544.0,1206.0 L1545.0,1206.0 L1546.0,1206.0 L1547.0,1206.0 L1548.0,1206.0 L1549.0,1206.0 L1550.0,1206.0 L1551.0,1206.1 L1552.0,1206.0 L1553.0,1206.0 L1554.0,1206.0 L1555.0,1206.0 L1556.0,1206.0 L1557.0,1206.0 L1558.0,1206.0 L1559.0,1206.0 L1560.0,1206.1 L1561.0,1206.0 L1562.0,1206.0 L1563.0,1206.0 L1564.0,1206.0 L1565.0,1206.0 L1566.0,1206.0 L1567.0,1206.0 L1568.0,1206.0 L1569.0,1206.0 L1570.0,1206.1 L1571.0,1206.0 L1572.0,1206.0 L1573.0,1206.0 L1574.0,1206.0 L1575.0,1206.0 L1576.0,1206.0 L1577.0,1206.0 L1578.0,1206.0 L1579.0,1206.1 L1580.0,1206.1 L1581.0,1206.0 L1582.0,1206.0 L1583.0,1206.0 L1584.0,1206.0 L1585.0,1206.0 L1586.0,1206.0 L1587.0,1206.0 L1588.0,1206.0 L1589.0,1206.1 L1590.0,1206.1 L1591.0,1206.0 L1592.0,1206.0 L1593.0,1206.0 L1594.0,1206.0 L1595.0,1206.0 L1596.0,1206.0 L1597.0,1206.0 L1598.0,1206.1 L1599.0,1206.1 L1600.0,1206.0 L1601.0,1206.0 L1602.0,1206.0 L1603.0,1206.0 L1604.0,1206.0 L1605.0,1206.0 L1606.0,1206.0 L1607.0,1206.0 L1608.0,1206.1 L1609.0,1206.1 L1610.0,1206.0 L1611.0,1206.0 L1612.0,1206.0 L1613.0,1206.0 L1614.0,1206.0 L1615.0,1206.0 L1616.0,1206.0 L1617.0,1206.1 L1618.0,1206.1 L1619.0,1206.1 L1620.0,1206.1 L1621.0,1206.1 L1622.0,1206.1 L1623.0,1206.1 L1624.0,1206.1 L1625.0,1206.1 L1626.0,1206.1 L1627.0,1206.1 L1628.0,1206.1 L1629.0,1206.1 L1630.0,1206.1 L1631.0,1206.1 L1632.0,1206.1 L1633.0,1206.1 L1634.0,1206.1 L1635.0,1206.1 L1636.0,1206.1 L1637.0,1206.1 L1638.0,1206.1 L1639.0,1206.1 L1640.0,1206.1 L1641.0,1206.1 L1642.0,1206.1 L1643.0,1206.1 L1644.0,1206.1 L1645.0,1206.1 L1646.0,1206.1 L1647.0,1206.1 L1648.0,1206.1 L1649.0,1206.1 L1650.0,1206.1 L1651.0,1206.1 L1652.0,1206.1 L1653.0,1206.1 L1654.0,1206.1 L1655.0,1206.1 L1656.0,1206.1 L1657.0,1206.1 L1658.0,1206.1 L1659.0,1206.1 L1660.0,1206.1 L1661.0,1206.1 L1662.0,1206.1 L1663.0,1206.1 L1664.0,1206.1 L1665.0,1206.1 L1666.0,1206.1 L1667.0,1206.1 L1668.0,1206.1 L1669.0,1206.1 L1670.0,1206.1 L1671.0,1206.1 L1672.0,1206.1 L1673.0,1206.1 L1674.0,1206.1 L1675.0,1206.1 L1676.0,1206.1 L1677.0,1206.1 L1678.0,1206.1 L1679.0,1206.1 L1680.0,1206.1 L1681.0,1206.1 L1682.0,1206.1 L1683.0,1206.1 L1684.0,1206.1 L1685.0,1206.2 L1686.0,1206.1 L1687.0,1206.1 L1688.0,1206.1 L1689.0,1206.1 L1690.0,1206.1 L1691.0,1206.1 L1692.0,1206.1 L1693.0,1206.1 L1694.0,1206.1 L1695.0,1206.1 L1696.0,1206.1 L1697.0,1206.1 L1698.0,1206.1 L1699.0,1206.1 L1700.0,1206.1 L1701.0,1206.1 L1702.0,1206.1 L1703.0,1206.1 L1704.0,1206.2 L1705.0,1206.1 L1705.0,1213.9 L1704.0,1213.9 L1703.0,1213.9 L1702.0,1213.9 L1701.0,1213.9 L1700.0,1213.9 L1699.0,1213.9 L1698.0,1213.9 L1697.0,1213.9 L1696.0,1213.9 L1695.0,1213.9 L1694.0,1213.9 L1693.0,1213.9 L1692.0,1213.9 L1691.0,1213.9 L1690.0,1213.9 L1689.0,1213.9 L1688.0,1213.9 L1687.0,1213.9 L1686.0,1213.9 L1685.0,1213.9 L1684.0,1213.9 L1683.0,1213.9 L1682.0,1213.9 L1681.0,1213.9 L1680.0,1213.9 L1679.0,1213.9 L1678.0,1213.9 L1677.0,1213.9 L1676.0,1213.9 L1675.0,1213.9 L1674.0,1213.9 L1673.0,1213.9 L1672.0,1213.9 L1671.0,1213.9 L1670.0,1213.9 L1669.0,1213.9 L1668.0,1213.9 L1667.0,1213.9 L1666.0,1213.9 L1665.0,1213.9 L1664.0,1213.9 L1663.0,1213.9 L1662.0,1213.9 L1661.0,1213.9 L1660.0,1213.9 L1659.0,1213.9 L1658.0,1213.9 L1657.0,1213.9 L1656.0,1213.9 L1655.0,1213.9 L1654.0,1213.9 L1653.0,1213.9 L1652.0,1213.9 L1651.0,1213.9 L1650.0,1213.9 L1649.0,1213.9 L1648.0,1213.9 L1647.0,1213.9 L1646.0,1213.9 L1645.0,1213.9 L1644.0,1213.9 L1643.0,1213.9 L1642.0,1213.9 L1641.0,1213.9 L1640.0,1213.9 L1639.0,1213.9 L1638.0,1213.9 L1637.0,1213.9 L1636.0,1213.9 L1635.0,1213.9 L1634.0,1213.9 L1633.0,1213.9 L1632.0,1213.9 L1631.0,1213.9 L1630.0,1213.9 L1629.0,1213.9 L1628.0,1213.9 L1627.0,1213.9 L1626.0,1213.9 L1625.0,1213.9 L1624.0,1213.9 L1623.0,1213.9 L1622.0,1213.9 L1621.0,1213.9 L1620.0,1213.9 L1619.0,1213.9 L1618.0,1213.9 L1617.0,1213.9 L1616.0,1213.9 L1615.0,1213.9 L1614.0,1213.9 L1613.0,1213.9 L1612.0,1213.9 L1611.0,1213.9 L1610.0,1213.9 L1609.0,1213.9 L1608.0,1213.9 L1607.0,1213.9 L1606.0,1213.9 L1605.0,1213.9 L1604.0,1213.9 L1603.0,1213.9 L1602.0,1213.9 L1601.0,1213.9 L1600.0,1213.9 L1599.0,1213.9 L1598.0,1213.9 L1597.0,1213.9 L1596.0,1213.9 L1595.0,1213.9 L1594.0,1213.9 L1593.0,1213.9 L1592.0,1213.9 L1591.0,1213.9 L1590.0,1213.9 L1589.0,1213.9 L1588.0,1213.9 L1587.0,1213.9 L1586.0,1213.9 L1585.0,1213.9 L1584.0,1213.9 L1583.0,1213.9 L1582.0,1213.9 L1581.0,1213.9 L1580.0,1213.9 L1579.0,1213.9 L1578.0,1213.9 L1577.0,1213.9 L1576.0,1213.9 L1575.0,1213.9 L1574.0,1213.9 L1573.0,1213.9 L1572.0,1213.9 L1571.0,1213.9 L1570.0,1213.9 L1569.0,1213.9 L1568.0,1213.9 L1567.0,1213.9 L1566.0,1213.9 L1565.0,1213.9 L1564.0,1213.9 L1563.0,1213.9 L1562.0,1213.9 L1561.0,1213.9 L1560.0,1213.9 L1559.0,1213.9 L1558.0,1213.9 L1557.0,1213.9 L1556.0,1213.9 L1555.0,1213.9 L1554.0,1213.9 L1553.0,1213.9 L1552.0,1213.9 L1551.0,1213.9 L1550.0,1213.9 L1549.0,1213.9 L1548.0,1213.9 L1547.0,1213.9 L1546.0,1213.9 L1545.0,1213.9 L1544.0,1213.9 L1543.0,1213.9 L1542.0,1213.9 L1541.0,1213.9 L1540.0,1213.9 L1539.0,1213.9 L1538.0,1213.9 L1537.0,1213.9 L1536.0,1213.9 L1535.0,1213.9 L1534.0,1213.9 L1533.0,1213.9 L1532.0,1213.9 L1531.0,1213.9 L1530.0,1213.9 L1529.0,1213.9 L1528.0,1213.9 L1527.0,1213.9 L1526.0,1213.9 L1525.0,1213.9 L1524.0,1213.9 L1523.0,1213.9 L1522.0,1213.9 L1521.0,1213.9 L1520.0,1213.9 L1519.0,1213.9 L1518.0,1213.9 L1517.0,1213.9 L1516.0,1213.9 L1515.0,1213.9 L1514.0,1213.9 L1513.0,1213.9 L1512.0,1213.9 L1511.0,1213.9 L1510.0,1213.9 L1509.0,1213.9 L1508.0,1213.9 L1507.0,1213.9 L1506.0,1213.9 L1505.0,1213.9 L1504.0,1213.9 L1503.0,1213.9 L1502.0,1213.9 L1501.0,1213.9 L1500.0,1213.9 L1499.0,1213.9 L1498.0,1213.9 L1497.0,1213.9 L1496.0,1213.9 L1495.0,1213.9 L1494.0,1213.9 L1493.0,1213.9 L1492.0,1213.9 L1491.0,1213.9 L1490.0,1213.9 L1489.0,1213.9 L1488.0,1213.9 L1487.0,1213.9 L1486.0,1213.9 L1485.0,1213.9 L1484.0,1213.9 L1483.0,1213.9 L1482.0,1213.9 L1481.0,1213.9 L1480.0,1213.9 L1479.0,1213.9 L1478.0,1213.9 L1477.0,1213.9 L1476.0,1213.9 L1475.0,1213.9 L1474.0,1213.9 L1473.0,1213.9 L1472.0,1213.9 L1471.0,1213.9 L1470.0,1213.9 L1469.0,1213.9 L1468.0,1213.9 L1467.0,1213.9 L1466.0,1213.9 L1465.0,1213.9 L1464.0,1213.9 L1463.0,1213.9 L1462.0,1213.9 L1461.0,1213.9 L1460.0,1213.9 L1459.0,1213.9 L1458.0,1213.9 L1457.0,1213.9 L1456.0,1213.9 L1455.0,1213.9 L1454.0,1213.9 L1453.0,1213.9 L1452.0,1213.9 L1451.0,1213.9 L1450.0,1213.9 L1449.0,1213.9 L1448.0,1213.9 L1447.0,1213.9 L1446.0,1213.9 L1445.0,1213.9 L1444.0,1213.9 L1443.0,1213.9 L1442.0,1213.9 L1441.0,1213.9 L1440.0,1213.9 L1439.0,1213.9 L1438.0,1213.9 L1437.0,1213.9 L1436.0,1213.9 L1435.0,1213.9 L1434.0,1213.9 L1433.0,1213.9 L1432.0,1213.9 L1431.0,1213.9 L1430.0,1213.9 L1429.0,1213.9 L1428.0,1213.9 L1427.0,1213.9 L1426.0,1213.9 L1425.0,1213.9 L1424.0,1213.9 L1423.0,1213.9 L1422.0,1213.9 L1421.0,1213.9 L1420.0,1213.9 L1419.0,1213.9 L1418.0,1213.9 L1417.0,1213.9 L1416.0,1213.9 L1415.0,1213.9 L1414.0,1213.9 L1413.0,1213.9 L1412.0,1213.9 L1411.0,1213.9 L1410.0,1213.9 L1409.0,1213.9 L1408.0,1213.9 L1407.0,1213.9 L1406.0,1213.9 L1405.0,1213.9 L1404.0,1213.9 L1403.0,1213.9 L1402.0,1213.9 L1401.0,1213.9 L1400.0,1213.9 L1399.0,1213.9 L1398.0,1213.9 L1397.0,1213.9 L1396.0,1213.9 L1395.0,1213.9 L1394.0,1213.9 L1393.0,1213.9 L1392.0,1213.9 L1391.0,1213.9 L1390.0,1213.9 L1389.0,1213.9 L1388.0,1213.9 L1387.0,1213.9 L1386.0,1213.9 L1385.0,1213.9 L1384.0,1213.9 L1383.0,1213.9 L1382.0,1213.9 L1381.0,1213.9 L1380.0,1213.9 L1379.0,1213.9 L1378.0,1213.9 L1377.0,1213.9 L1376.0,1213.9 L1375.0,1213.9 L1374.0,1213.9 L1373.0,1213.9 L1372.0,1213.9 L1371.0,1213.9 L1370.0,1213.9 L1369.0,1213.9 L1368.0,1213.9 L1367.0,1213.9 L1366.0,1213.9 L1365.0,1213.9 L1364.0,1213.9 L1363.0,1213.9 L1362.0,1213.9 L1361.0,1213.9 L1360.0,1213.9 L1359.0,1213.9 L1358.0,1213.9 L1357.0,1213.9 L1356.0,1213.9 L1355.0,1213.9 L1354.0,1213.9 L1353.0,1213.9 L1352.0,1213.9 L1351.0,1213.9 L1350.0,1213.9 L1349.0,1213.9 L1348.0,1213.9 L1347.0,1213.9 L1346.0,1213.9 L1345.0,1213.9 L1344.0,1213.9 L1343.0,1213.9 L1342.0,1213.9 L1341.0,1213.9 L1340.0,1213.9 L1339.0,1213.9 L1338.0,1213.9 L1337.0,1213.9 L1336.0,1213.9 L1335.0,1213.9 L1334.0,1213.9 L1333.0,1213.9 L1332.0,1213.9 L1331.0,1213.9 L1330.0,1213.9 L1329.0,1213.9 L1328.0,1213.9 L1327.0,1213.9 L1326.0,1213.9 L1325.0,1213.9 L1324.0,1213.9 L1323.0,1213.9 L1322.0,1213.9 L1321.0,1213.9 L1320.0,1213.9 L1319.0,1213.9 L1318.0,1213.9 L1317.0,1213.9 L1316.0,1213.9 L1315.0,1213.9 L1314.0,1213.9 L1313.0,1213.9 L1312.0,1213.9 L1311.0,1213.9 L1310.0,1213.9 L1309.0,1213.9 L1308.0,1213.9 L1307.0,1213.9 L1306.0,1213.9 L1305.0,1213.9 L1304.0,1213.9 L1303.0,1213.9 L1302.0,1213.9 L1301.0,1213.9 L1300.0,1213.9 L1299.0,1213.9 L1298.0,1213.9 L1297.0,1213.9 L1296.0,1213.9 L1295.0,1213.9 L1294.0,1213.9 L1293.0,1213.9 L1292.0,1213.9 L1291.0,1213.9 L1290.0,1213.9 L1289.0,1213.9 L1288.0,1213.9 L1287.0,1213.9 L1286.0,1213.9 L1285.0,1213.9 L1284.0,1213.9 L1283.0,1213.9 L1282.0,1213.9 L1281.0,1213.9 L1280.0,1213.9 L1279.0,1213.9 L1278.0,1213.9 L1277.0,1213.9 L1276.0,1213.9 L1275.0,1213.9 L1274.0,1213.9 L1273.0,1213.9 L1272.0,1213.9 L1271.0,1213.9 L1270.0,1213.9 L1269.0,1213.9 L1268.0,1213.9 L1267.0,1213.9 L1266.0,1213.9 L1265.0,1213.9 L1264.0,1213.9 L1263.0,1213.9 L1262.0,1213.9 L1261.0,1213.9 L1260.0,1213.9 L1259.0,1213.9 L1258.0,1213.9 L1257.0,1213.9 L1256.0,1213.9 L1255.0,1213.9 L1254.0,1213.9 L1253.0,1213.9 L1252.0,1213.9 L1251.0,1213.9 L1250.0,1213.9 L1249.0,1213.9 L1248.0,1213.9 L1247.0,1213.9 L1246.0,1213.9 L1245.0,1213.9 L1244.0,1213.9 L1243.0,1213.9 L1242.0,1213.9 L1241.0,1213.9 L1240.0,1213.9 L1239.0,1213.9 L1238.0,1213.9 L1237.0,1213.9 L1236.0,1213.9 L1235.0,1213.9 L1234.0,1213.9 L1233.0,1213.9 L1232.0,1213.9 L1231.0,1213.9 L1230.0,1213.9 L1229.0,1213.9 L1228.0,1213.9 L1227.0,1213.9 L1226.0,1213.9 L1225.0,1213.9 L1224.0,1213.9 L1223.0,1213.9 L1222.0,1213.9 L1221.0,1213.9 L1220.0,1213.9 L1219.0,1213.9 L1218.0,1213.9 L1217.0,1213.9 L1216.0,1213.9 L1215.0,1213.9 L1214.0,1213.9 L1213.0,1213.9 L1212.0,1213.9 L1211.0,1213.9 L1210.0,1213.9 L1209.0,1213.9 L1208.0,1213.9 L1207.0,1213.9 L1206.0,1213.9 L1205.0,1213.9 L1204.0,1213.9 L1203.0,1213.9 L1202.0,1213.9 L1201.0,1213.9 L1200.0,1213.9 L1199.0,1213.9 L1198.0,1213.9 L1197.0,1213.9 L1196.0,1213.9 L1195.0,1213.9 L1194.0,1213.9 L1193.0,1213.9 L1192.0,1213.9 L1191.0,1213.9 L1190.0,1213.9 L1189.0,1213.9 L1188.0,1213.9 L1187.0,1213.9 L1186.0,1213.9 L1185.0,1213.9 L1184.0,1213.9 L1183.0,1213.9 L1182.0,1213.9 L1181.0,1213.9 L1180.0,1213.9 L1179.0,1213.9 L1178.0,1213.9 L1177.0,1213.9 L1176.0,1213.9 L1175.0,1213.9 L1174.0,1213.9 L1173.0,1213.9 L1172.0,1213.9 L1171.0,1213.9 L1170.0,1213.9 L1169.0,1213.9 L1168.0,1213.9 L1167.0,1213.9 L1166.0,1213.9 L1165.0,1213.9 L1164.0,1213.9 L1163.0,1213.9 L1162.0,1213.9 L1161.0,1213.9 L1160.0,1213.9 L1159.0,1213.9 L1158.0,1213.9 L1157.0,1213.9 L1156.0,1213.9 L1155.0,1213.9 L1154.0,1213.9 L1153.0,1213.9 L1152.0,1213.9 L1151.0,1213.9 L1150.0,1213.9 L1149.0,1213.9 L1148.0,1213.9 L1147.0,1213.9 L1146.0,1213.9 L1145.0,1213.9 L1144.0,1213.9 L1143.0,1213.9 L1142.0,1213.9 L1141.0,1213.9 L1140.0,1213.9 L1139.0,1213.9 L1138.0,1213.9 L1137.0,1213.9 L1136.0,1213.9 L1135.0,1213.9 L1134.0,1213.9 L1133.0,1213.9 L1132.0,1213.9 L1131.0,1213.9 L1130.0,1213.9 L1129.0,1213.9 L1128.0,1213.9 L1127.0,1213.9 L1126.0,1213.9 L1125.0,1213.9 L1124.0,1213.9 L1123.0,1213.9 L1122.0,1213.9 L1121.0,1213.9 L1120.0,1213.9 L1119.0,1213.9 L1118.0,1213.9 L1117.0,1213.9 L1116.0,1213.9 L1115.0,1213.9 L1114.0,1213.9 L1113.0,1213.9 L1112.0,1213.9 L1111.0,1213.9 L1110.0,1213.9 L1109.0,1213.9 L1108.0,1213.9 L1107.0,1213.9 L1106.0,1213.9 L1105.0,1213.9 L1104.0,1213.9 L1103.0,1213.9 L1102.0,1213.9 L1101.0,1213.9 L1100.0,1213.9 L1099.0,1213.9 L1098.0,1213.9 L1097.0,1213.9 L1096.0,1213.9 L1095.0,1213.9 L1094.0,1213.9 L1093.0,1213.9 L1092.0,1213.9 L1091.0,1213.9 L1090.0,1213.9 L1089.0,1213.9 L1088.0,1213.9 L1087.0,1213.9 L1086.0,1213.9 L1085.0,1213.9 L1084.0,1213.9 L1083.0,1213.9 L1082.0,1213.9 L1081.0,1213.9 L1080.0,1213.9 L1079.0,1213.9 L1078.0,1213.9 L1077.0,1213.9 L1076.0,1213.9 L1075.0,1213.9 L1074.0,1213.9 L1073.0,1213.9 L1072.0,1213.9 L1071.0,1213.9 L1070.0,1213.9 L1069.0,1213.9 L1068.0,1213.9 L1067.0,1213.9 L1066.0,1213.9 L1065.0,1213.9 L1064.0,1213.9 L1063.0,1213.9 L1062.0,1213.9 L1061.0,1213.9 L1060.0,1213.9 L1059.0,1213.9 L1058.0,1213.9 L1057.0,1213.9 L1056.0,1213.9 L1055.0,1213.9 L1054.0,1213.9 L1053.0,1213.9 L1052.0,1213.9 L1051.0,1213.9 L1050.0,1213.9 L1049.0,1213.9 L1048.0,1213.9 L1047.0,1213.9 L1046.0,1213.9 L1045.0,1213.9 L1044.0,1213.9 L1043.0,1213.9 L1042.0,1213.9 L1041.0,1213.9 L1040.0,1213.9 L1039.0,1213.9 L1038.0,1213.9 L1037.0,1213.9 L1036.0,1213.9 L1035.0,1213.9 L1034.0,1213.9 L1033.0,1213.9 L1032.0,1213.9 L1031.0,1213.9 L1030.0,1213.9 L1029.0,1213.9 L1028.0,1213.9 L1027.0,1213.9 L1026.0,1213.9 L1025.0,1213.9 L1024.0,1213.9 L1023.0,1213.9 L1022.0,1213.9 L1021.0,1213.9 L1020.0,1213.9 L1019.0,1213.9 L1018.0,1213.9 L1017.0,1213.9 L1016.0,1213.9 L1015.0,1213.9 L1014.0,1213.9 L1013.0,1213.9 L1012.0,1213.9 L1011.0,1213.9 L1010.0,1213.9 L1009.0,1213.9 L1008.0,1213.9 L1007.0,1213.9 L1006.0,1213.9 L1005.0,1213.9 L1004.0,1213.9 L1003.0,1213.9 L1002.0,1213.9 L1001.0,1213.9 L1000.0,1213.9 L999.0,1213.8 L998.0,1213.8 L997.0,1213.8 L996.0,1213.8 L995.0,934.6 L994.0,497.8 L993.0,272.0 L992.0,177.0 L991.0,134.7 L990.0,113.8 L989.0,102.7 L988.0,96.3 L987.0,92.5 L986.0,90.1 L985.0,89.7 L984.0,91.9 L983.0,95.4 L982.0,101.2 L981.0,111.1 L980.0,129.3 L979.0,165.8 L978.0,246.0 L977.0,436.2 L976.0,837.4 L975.0,1199.6 L974.0,1213.8 L973.0,1213.8 L972.0,1213.8 L971.0,1213.9 L970.0,1213.9 L969.0,1213.9 L968.0,1213.9 L967.0,1213.9 L966.0,1213.9 L965.0,1213.9 L964.0,1213.9 L963.0,1213.9 L962.0,1213.9 L961.0,1213.9 L960.0,1213.9 L959.0,1213.9 L958.0,1213.9 L957.0,1213.9 L956.0,1213.9 L955.0,1213.9 L954.0,1213.9 L953.0,1213.9 L952.0,1213.9 L951.0,1213.9 L950.0,1213.9 L949.0,1213.9 L948.0,1213.9 L947.0,1213.9 L946.0,1213.9 L945.0,1213.9 L944.0,1213.9 L943.0,1213.9 L942.0,1213.9 L941.0,1213.9 L940.0,1213.9 L939.0,1213.9 L938.0,1213.9 L937.0,1213.9 L936.0,1213.9 L935.0,1213.9 L934.0,1213.9 L933.0,1213.9 L932.0,1213.9 L931.0,1213.9 L930.0,1213.9 L929.0,1213.9 L928.0,1213.9 L927.0,1213.9 L926.0,1213.9 L925.0,1213.9 L924.0,1213.9 L923.0,1213.9 L922.0,1213.9 L921.0,1213.9 L920.0,1213.9 L919.0,1213.9 L918.0,1213.9 L917.0,1213.9 L916.0,1213.9 L915.0,1213.9 L914.0,1213.9 L913.0,1213.9 L912.0,1213.9 L911.0,1213.9 L910.0,1213.9 L909.0,1213.9 L908.0,1213.9 L907.0,1213.9 L906.0,1213.9 L905.0,1213.9 L904.0,1213.9 L903.0,1213.9 L902.0,1213.9 L901.0,1213.9 L900.0,1213.9 L899.0,1213.9 L898.0,1213.9 L897.0,1213.9 L896.0,1213.9 L895.0,1213.9 L894.0,1213.9 L893.0,1213.9 L892.0,1213.9 L891.0,1213.9 L890.0,1213.9 L889.0,1213.9 L888.0,1213.9 L887.0,1213.9 L886.0,1213.9 L885.0,1213.9 L884.0,1213.9 L883.0,1213.9 L882.0,1213.9 L881.0,1213.9 L880.0,1213.9 L879.0,1213.9 L878.0,1213.9 L877.0,1213.9 L876.0,1213.9 L875.0,1213.9 L874.0,1213.9 L873.0,1213.9 L872.0,1213.9 L871.0,1213.9 L870.0,1213.9 L869.0,1213.9 L868.0,1213.9 L867.0,1213.9 L866.0,1213.9 L865.0,1213.9 L864.0,1213.9 L863.0,1213.9 L862.0,1213.9 L861.0,1213.9 L860.0,1213.9 L859.0,1213.9 L858.0,1213.9 L857.0,1213.9 L856.0,1213.9 L855.0,1213.9 L854.0,1213.9 L853.0,1213.9 L852.0,1213.9 L851.0,1213.9 L850.0,1213.9 L849.0,1213.9 L848.0,1213.9 L847.0,1213.9 L846.0,1213.9 L845.0,1213.9 L844.0,1213.9 L843.0,1213.9 L842.0,1213.9 L841.0,1213.9 L840.0,1213.9 L839.0,1213.9 L838.0,1213.9 L837.0,1213.9 L836.0,1213.9 L835.0,1213.9 L834.0,1213.9 L833.0,1213.9 L832.0,1213.9 L831.0,1213.9 L830.0,1213.9 L829.0,1213.9 L828.0,1213.9 L827.0,1213.9 L826.0,1213.9 L825.0,1213.9 L824.0,1213.9 L823.0,1213.9 L822.0,1213.9 L821.0,1213.9 L820.0,1213.9 L819.0,1213.9 L818.0,1213.9 L817.0,1213.9 L816.0,1213.9 L815.0,1213.9 L814.0,1213.9 L813.0,1213.9 L812.0,1213.9 L811.0,1213.9 L810.0,1213.9 L809.0,1213.9 L808.0,1213.9 L807.0,1213.9 L806.0,1213.9 L805.0,1213.9 L804.0,1213.9 L803.0,1213.9 L802.0,1213.9 L801.0,1213.9 L800.0,1213.9 L799.0,1213.9 L798.0,1213.9 L797.0,1213.9 L796.0,1213.9 L795.0,1213.9 L794.0,1213.9 L793.0,1213.9 L792.0,1213.9 L791.0,1213.9 L790.0,1213.9 L789.0,1213.9 L788.0,1213.9 L787.0,1213.9 L786.0,1213.9 L785.0,1213.9 L784.0,1213.9 L783.0,1213.9 L782.0,1213.9 L781.0,1213.9 L780.0,1213.9 L779.0,1213.9 L778.0,1213.9 L777.0,1213.9 L776.0,1213.9 L775.0,1213.9 L774.0,1213.9 L773.0,1213.9 L772.0,1213.9 L771.0,1213.9 L770.0,1213.9 L769.0,1213.9 L768.0,1213.9 L767.0,1213.9 L766.0,1213.9 L765.0,1213.9 L764.0,1213.9 L763.0,1213.9 L762.0,1213.9 L761.0,1213.9 L760.0,1213.9 L759.0,1213.9 L758.0,1213.9 L757.0,1213.9 L756.0,1213.9 L755.0,1213.9 L754.0,1213.9 L753.0,1213.9 L752.0,1213.9 L751.0,1213.9 L750.0,1213.9 L749.0,1213.9 L748.0,1213.9 L747.0,1213.9 L746.0,1213.9 L745.0,1213.9 L744.0,1213.9 L743.0,1213.9 L742.0,1213.9 L741.0,1213.9 L740.0,1213.9 L739.0,1213.9 L738.0,1213.9 L737.0,1213.9 L736.0,1213.9 L735.0,1213.9 L734.0,1213.9 L733.0,1213.9 L732.0,1213.9 L731.0,1213.9 L730.0,1213.9 L729.0,1213.9 L728.0,1213.9 L727.0,1213.9 L726.0,1213.9 L725.0,1213.9 L724.0,1213.9 L723.0,1213.9 L722.0,1213.9 L721.0,1213.9 L720.0,1213.9 L719.0,1213.9 L718.0,1213.9 L717.0,1213.9 L716.0,1213.9 L715.0,1213.9 L714.0,1213.9 L713.0,1213.9 L712.0,1213.9 L711.0,1213.9 L710.0,1213.9 L709.0,1213.9 L708.0,1213.9 L707.0,1213.9 L706.0,1213.9 L705.0,1213.9 L704.0,1213.9 L703.0,1213.9 L702.0,1213.9 L701.0,1213.9 L700.0,1213.9 L699.0,1213.9 L698.0,1213.9 L697.0,1213.9 L696.0,1213.9 L695.0,1213.9 L694.0,1213.9 L693.0,1213.9 L692.0,1213.9 L691.0,1213.9 L690.0,1213.9 L689.0,1213.9 L688.0,1213.9 L687.0,1213.9 L686.0,1213.9 L685.0,1213.9 L684.0,1213.9 L683.0,1213.9 L682.0,1213.9 L681.0,1213.9 L680.0,1213.9 L679.0,1213.9 L678.0,1213.9 L677.0,1213.9 L676.0,1213.9 L675.0,1213.9 L674.0,1213.9 L673.0,1213.9 L672.0,1213.9 L671.0,1213.9 L670.0,1213.9 L669.0,1213.9 L668.0,1213.9 L667.0,1213.9 L666.0,1213.9 L665.0,1213.9 L664.0,1213.9 L663.0,1213.9 L662.0,1213.9 L661.0,1213.9 L660.0,1213.9 L659.0,1213.9 L658.0,1213.9 L657.0,1213.9 L656.0,1213.9 L655.0,1213.9 L654.0,1213.9 L653.0,1213.9 L652.0,1213.9 L651.0,1213.9 L650.0,1213.9 L649.0,1213.9 L648.0,1213.9 L647.0,1213.9 L646.0,1213.9 L645.0,1213.9 L644.0,1213.9 L643.0,1213.9 L642.0,1213.9 L641.0,1213.9 L640.0,1213.9 L639.0,1213.9 L638.0,1213.9 L637.0,1213.9 L636.0,1213.9 L635.0,1213.9 L634.0,1213.9 L633.0,1213.9 L632.0,1213.9 L631.0,1213.9 L630.0,1213.9 L629.0,1213.9 L628.0,1213.9 L627.0,1213.9 L626.0,1213.9 L625.0,1213.9 L624.0,1213.9 L623.0,1213.9 L622.0,1213.9 L621.0,1213.9 L620.0,1213.9 L619.0,1213.9 L618.0,1213.9 L617.0,1213.9 L616.0,1213.9 L615.0,1213.9 L614.0,1213.9 L613.0,1213.9 L612.0,1213.9 L611.0,1213.9 L610.0,1213.9 L609.0,1213.9 L608.0,1213.9 L607.0,1213.9 L606.0,1213.9 L605.0,1213.9 L604.0,1213.9 L603.0,1213.9 L602.0,1213.9 L601.0,1213.9 L600.0,1213.9 L599.0,1213.9 L598.0,1213.9 L597.0,1213.9 L596.0,1213.9 L595.0,1213.9 L594.0,1213.9 L593.0,1213.9 L592.0,1213.9 L591.0,1213.9 L590.0,1213.9 L589.0,1213.9 L588.0,1213.9 L587.0,1213.9 L586.0,1213.9 L585.0,1213.9 L584.0,1213.9 L583.0,1213.9 L582.0,1213.9 L581.0,1213.9 L580.0,1213.9 L579.0,1213.9 L578.0,1213.9 L577.0,1213.9 L576.0,1213.9 L575.0,1213.9 L574.0,1213.9 L573.0,1213.9 L572.0,1213.9 L571.0,1213.9 L570.0,1213.9 L569.0,1213.9 L568.0,1213.9 L567.0,1213.9 L566.0,1213.9 L565.0,1213.9 L564.0,1213.9 L563.0,1213.9 L562.0,1213.9 L561.0,1213.9 L560.0,1213.9 L559.0,1213.9 L558.0,1213.9 L557.0,1213.9 L556.0,1213.9 L555.0,1213.9 L554.0,1213.9 L553.0,1213.9 L552.0,1213.9 L551.0,1213.9 L550.0,1213.9 L549.0,1213.9 L548.0,1213.9 L547.0,1213.9 L546.0,1213.9 L545.0,1213.9 L544.0,1213.9 L543.0,1213.9 L542.0,1213.9 L541.0,1213.9 L540.0,1213.9 L539.0,1213.9 L538.0,1213.9 L537.0,1213.9 L536.0,1213.9 L535.0,1213.9 L534.0,1213.9 L533.0,1213.9 L532.0,1213.9 L531.0,1213.9 L530.0,1213.9 L529.0,1213.9 L528.0,1213.9 L527.0,1213.9 L526.0,1213.9 L525.0,1213.9 L524.0,1213.9 L523.0,1213.9 L522.0,1213.9 L521.0,1213.9 L520.0,1213.9 L519.0,1213.9 L518.0,1213.9 L517.0,1213.9 L516.0,1213.9 L515.0,1213.9 L514.0,1213.9 L513.0,1213.9 L512.0,1213.9 L511.0,1213.9 L510.0,1213.9 L509.0,1213.9 L508.0,1213.9 L507.0,1213.9 L506.0,1213.9 L505.0,1213.9 L504.0,1213.9 L503.0,1213.9 L502.0,1213.9 L501.0,1213.9 L500.0,1213.9 L499.0,1213.9 L498.0,1213.9 L497.0,1213.9 L496.0,1213.9 L495.0,1213.9 L494.0,1213.9 L493.0,1213.9 L492.0,1213.9 L491.0,1213.9 L490.0,1213.9 L489.0,1213.9 L488.0,1213.9 L487.0,1213.9 L486.0,1213.9 L485.0,1213.9 L484.0,1213.9 L483.0,1213.9 L482.0,1213.9 L481.0,1213.9 L480.0,1213.9 L479.0,1213.9 L478.0,1213.9 L477.0,1213.9 L476.0,1213.9 L475.0,1213.9 L474.0,1213.9 L473.0,1213.9 L472.0,1213.9 L471.0,1213.9 L470.0,1213.9 L469.0,1213.9 L468.0,1213.9 L467.0,1213.9 L466.0,1213.9 L465.0,1213.9 L464.0,1213.9 L463.0,1213.9 L462.0,1213.9 L461.0,1213.9 L460.0,1213.9 L459.0,1213.9 L458.0,1213.9 L457.0,1213.9 L456.0,1213.9 L455.0,1213.9 L454.0,1213.9 L453.0,1213.9 L452.0,1213.9 L451.0,1213.9 L450.0,1213.9 L449.0,1213.9 L448.0,1213.9 L447.0,1213.9 L446.0,1213.9 L445.0,1213.9 L444.0,1213.9 L443.0,1213.9 L442.0,1213.9 L441.0,1213.9 L440.0,1213.9 L439.0,1213.9 L438.0,1213.9 L437.0,1213.9 L436.0,1213.9 L435.0,1213.9 L434.0,1213.9 L433.0,1213.9 L432.0,1213.9 L431.0,1213.9 L430.0,1213.9 L429.0,1213.9 L428.0,1213.9 L427.0,1213.9 L426.0,1213.9 L425.0,1213.9 L424.0,1213.9 L423.0,1213.9 L422.0,1213.9 L421.0,1213.9 L420.0,1213.9 L419.0,1213.9 L418.0,1213.9 L417.0,1213.9 L416.0,1213.9 L415.0,1213.9 L414.0,1213.9 L413.0,1213.9 L412.0,1213.9 L411.0,1213.9 L410.0,1213.9 L409.0,1213.9 L408.0,1213.9 L407.0,1213.9 L406.0,1213.9 L405.0,1213.9 L404.0,1213.9 L403.0,1213.9 L402.0,1213.9 L401.0,1213.9 L400.0,1213.9 L399.0,1213.9 L398.0,1213.9 L397.0,1213.9 L396.0,1213.9 L395.0,1213.9 L394.0,1213.9 L393.0,1213.9 L392.0,1213.9 L391.0,1213.9 L390.0,1213.9 L389.0,1213.9 L388.0,1213.9 L387.0,1213.9 L386.0,1213.9 L385.0,1213.9 L384.0,1213.9 L383.0,1213.9 L382.0,1213.9 L381.0,1213.9 L380.0,1213.9 L379.0,1213.9 L378.0,1213.9 L377.0,1213.9 L376.0,1213.9 L375.0,1213.9 L374.0,1213.9 L373.0,1213.9 L372.0,1213.9 L371.0,1213.9 L370.0,1213.9 L369.0,1213.9 L368.0,1213.9 L367.0,1213.9 L366.0,1213.9 L365.0,1213.9 L364.0,1213.9 L363.0,1213.9 L362.0,1213.9 L361.0,1213.9 L360.0,1213.9 L359.0,1213.9 L358.0,1213.9 L357.0,1213.9 L356.0,1213.9 L355.0,1213.9 L354.0,1213.9 L353.0,1213.9 L352.0,1213.9 L351.0,1213.9 L350.0,1213.9 L349.0,1213.9 L348.0,1213.9 L347.0,1213.9 L346.0,1213.9 L345.0,1213.9 L344.0,1213.9 L343.0,1213.9 L342.0,1213.9 L341.0,1213.9 L340.0,1213.9 L339.0,1213.9 L338.0,1213.9 L337.0,1213.9 L336.0,1213.9 L335.0,1213.9 L334.0,1213.9 L333.0,1213.9 L332.0,1213.9 L331.0,1213.9 L330.0,1213.9 L329.0,1213.9 L328.0,1213.9 L327.0,1213.9 L326.0,1213.9 L325.0,1213.9 L324.0,1213.9 L323.0,1213.9 L322.0,1213.9 L321.0,1213.9 L320.0,1213.9 L319.0,1213.9 L318.0,1213.9 L317.0,1213.9 L316.0,1213.9 L315.0,1213.9 L314.0,1213.9 L313.0,1213.9 L312.0,1213.9 L311.0,1213.9 L310.0,1213.9 L309.0,1213.9 L308.0,1213.9 L307.0,1213.9 L306.0,1213.9 L305.0,1213.9 L304.0,1213.9 L303.0,1213.9 L302.0,1213.9 L301.0,1213.9 L300.0,1213.9 L299.0,1213.9 L298.0,1213.9 L297.0,1213.9 L296.0,1213.9 L295.0,1213.9 L294.0,1213.9 L293.0,1213.9 L292.0,1213.9 L291.0,1213.9 L290.0,1213.9 L289.0,1213.9 L288.0,1213.9 L287.0,1213.9 L286.0,1213.9 L285.0,1213.9 L284.0,1213.9 L283.0,1213.9 L282.0,1213.9 L281.0,1213.9 L280.0,1213.9 L279.0,1213.9 L278.0,1213.9 L277.0,1213.9 L276.0,1213.9 L275.0,1213.9 L274.0,1213.9Z" fill="#ff00ff"/>
</g>
<text class="t" font-size="59" text-anchor="end" transform="translate(234.0 1224.3) scale(0.975 1)">0.0</text>
<text class="t" font-size="59" text-anchor="end" transform="translate(234.0 997.8) scale(0.975 1)">0.2</text>
<text class="t" font-size="59" text-anchor="end" transform="translate(234.0 771.3) scale(0.975 1)">0.4</text>
<text class="t" font-size="59" text-anchor="end" transform="translate(234.0 544.9) scale(0.975 1)">0.6</text>
<text class="t" font-size="59" text-anchor="end" transform="translate(234.0 318.4) scale(0.975 1)">0.8</text>
<text class="t" font-size="59" text-anchor="end" transform="translate(234.0 91.9) scale(0.975 1)">1.0</text>
<text class="t" font-size="59" text-anchor="middle" transform="translate(271.8 1302) scale(0.955 1)">1.540</text>
<text class="t" font-size="59" text-anchor="middle" transform="translate(532.7 1302) scale(0.955 1)">1.545</text>
<text class="t" font-size="59" text-anchor="middle" transform="translate(793.7 1302) scale(0.955 1)">1.550</text>
<text class="t" font-size="59" text-anchor="middle" transform="translate(1054.6 1302) scale(0.955 1)">1.555</text>
<text class="t" font-size="59" text-anchor="middle" transform="translate(1315.6 1302) scale(0.955 1)">1.560</text>
<text class="t" font-size="59" text-anchor="middle" transform="translate(1576.5 1302) scale(0.955 1)">1.565</text>
<text class="s" x="990" y="1412.5" font-size="67" text-anchor="middle" transform="translate(990 0) scale(1.032 1) translate(-990 0)">Wavelength (μm)</text>
<text class="s" font-size="72" text-anchor="middle" transform="translate(80 600.5) scale(1.04 1) rotate(-90)">Reflectivity (a.u.)</text>
<line x1="1167.6" y1="213.6" x2="1305" y2="213.6" stroke="#ff0000" stroke-width="6.5"/>
<text class="s" x="1318.5" y="233.6" font-size="58.5">n=1.3591</text>
<line x1="1167.6" y1="288.5" x2="1305" y2="288.5" stroke="#00ff00" stroke-width="6.5"/>
<text class="s" x="1318.5" y="308.5" font-size="58.5">n=1.3606</text>
<line x1="1167.6" y1="363.0" x2="1305" y2="363.0" stroke="#0000ff" stroke-width="6.5"/>
<text class="s" x="1318.5" y="383.0" font-size="58.5">n=1.3611</text>
<line x1="1167.6" y1="438.0" x2="1305" y2="438.0" stroke="#ff00ff" stroke-width="6.5"/>
<text class="s" x="1318.5" y="458.0" font-size="58.5">n=1.3617</text>
</svg></body></html>
